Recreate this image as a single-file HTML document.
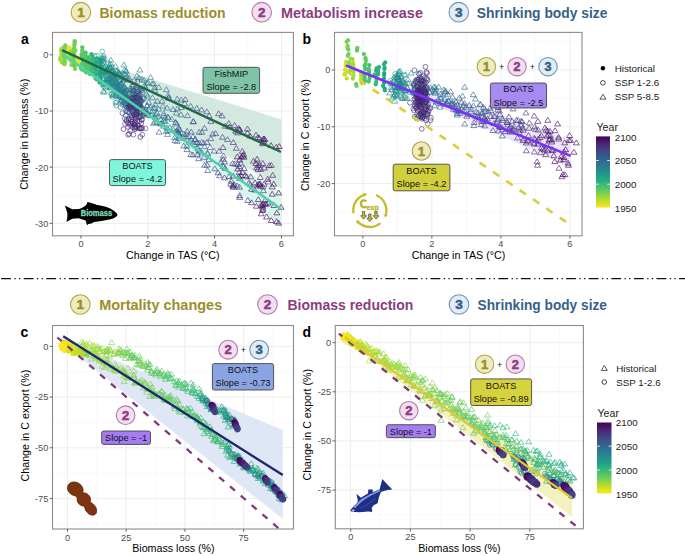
<!DOCTYPE html><html><head><meta charset="utf-8"><style>html,body{margin:0;padding:0;background:#fff;}svg{display:block;}text{font-family:"Liberation Sans", sans-serif;} .tk{font-size:9.2px;fill:#4d4d4d;} .ax{font-size:10.7px;fill:#000;} .bx{font-size:9.2px;fill:#111;} .pl{font-size:14px;font-weight:bold;fill:#000;} .lg{font-size:9.8px;fill:#1a1a1a;} .hd{font-size:15px;font-weight:bold;} .dg{font-weight:bold;}</style></head><body><svg width="685" height="556" viewBox="0 0 685 556"><rect width="685" height="556" fill="#fff"/><defs><clipPath id="cla"><rect x="52.5" y="32.4" width="240.9" height="203.4"/></clipPath><clipPath id="clb"><rect x="334.5" y="32.4" width="247.5" height="203.4"/></clipPath><clipPath id="clc"><rect x="52.5" y="325.5" width="241.0" height="203.5"/></clipPath><clipPath id="cld"><rect x="335.3" y="325.5" width="248.1" height="203.3"/></clipPath></defs><circle cx="80.9" cy="12.2" r="9.8" fill="#eeebbf" stroke="#b0a447" stroke-width="1.1"/><text x="80.9" y="17.1" text-anchor="middle" class="dg" style="font-size:13.5px;fill:#9a8e2c;stroke:#9a8e2c;stroke-width:0.55px">1</text><text x="99.4" y="17.8" class="hd" fill="#9a8e2c" textLength="126.1" lengthAdjust="spacingAndGlyphs">Biomass reduction</text><circle cx="261.7" cy="12.2" r="9.8" fill="#f2deef" stroke="#b279aa" stroke-width="1.1"/><text x="261.7" y="17.1" text-anchor="middle" class="dg" style="font-size:13.5px;fill:#8a3d80;stroke:#8a3d80;stroke-width:0.55px">2</text><text x="281.0" y="17.8" class="hd" fill="#8a3d80" textLength="141.9" lengthAdjust="spacingAndGlyphs">Metabolism increase</text><circle cx="458.8" cy="12.2" r="9.8" fill="#e2ecf5" stroke="#6f93b6" stroke-width="1.1"/><text x="458.8" y="17.1" text-anchor="middle" class="dg" style="font-size:13.5px;fill:#355f8a;stroke:#355f8a;stroke-width:0.55px">3</text><text x="476.8" y="17.8" class="hd" fill="#355f8a" textLength="130.6" lengthAdjust="spacingAndGlyphs">Shrinking body size</text><circle cx="80.3" cy="304.5" r="9.8" fill="#eeebbf" stroke="#b0a447" stroke-width="1.1"/><text x="80.3" y="309.4" text-anchor="middle" class="dg" style="font-size:13.5px;fill:#9a8e2c;stroke:#9a8e2c;stroke-width:0.55px">1</text><text x="99.2" y="310.1" class="hd" fill="#9a8e2c" textLength="123.0" lengthAdjust="spacingAndGlyphs">Mortality changes</text><circle cx="267.5" cy="304.5" r="9.8" fill="#f2deef" stroke="#b279aa" stroke-width="1.1"/><text x="267.5" y="309.4" text-anchor="middle" class="dg" style="font-size:13.5px;fill:#8a3d80;stroke:#8a3d80;stroke-width:0.55px">2</text><text x="287.5" y="310.1" class="hd" fill="#8a3d80" textLength="125.8" lengthAdjust="spacingAndGlyphs">Biomass reduction</text><circle cx="459.0" cy="304.5" r="9.8" fill="#e2ecf5" stroke="#6f93b6" stroke-width="1.1"/><text x="459.0" y="309.4" text-anchor="middle" class="dg" style="font-size:13.5px;fill:#355f8a;stroke:#355f8a;stroke-width:0.55px">3</text><text x="477.6" y="310.1" class="hd" fill="#355f8a" textLength="129.3" lengthAdjust="spacingAndGlyphs">Shrinking body size</text><line x1="1.1" y1="278.6" x2="685" y2="278.6" stroke="#111" stroke-width="1.35" stroke-dasharray="9.8 3.5 1.3 3.3 1.3 3.4"/><rect x="52.5" y="32.4" width="240.9" height="203.4" fill="#fff"/><line x1="114.4" y1="32.4" x2="114.4" y2="235.8" stroke="#f4f4f4" stroke-width="0.6"/><line x1="181.2" y1="32.4" x2="181.2" y2="235.8" stroke="#f4f4f4" stroke-width="0.6"/><line x1="248.0" y1="32.4" x2="248.0" y2="235.8" stroke="#f4f4f4" stroke-width="0.6"/><line x1="52.5" y1="82.9" x2="293.4" y2="82.9" stroke="#f4f4f4" stroke-width="0.6"/><line x1="52.5" y1="139.1" x2="293.4" y2="139.1" stroke="#f4f4f4" stroke-width="0.6"/><line x1="52.5" y1="195.3" x2="293.4" y2="195.3" stroke="#f4f4f4" stroke-width="0.6"/><line x1="81.0" y1="32.4" x2="81.0" y2="235.8" stroke="#ebebeb" stroke-width="0.9"/><line x1="147.8" y1="32.4" x2="147.8" y2="235.8" stroke="#ebebeb" stroke-width="0.9"/><line x1="214.6" y1="32.4" x2="214.6" y2="235.8" stroke="#ebebeb" stroke-width="0.9"/><line x1="281.4" y1="32.4" x2="281.4" y2="235.8" stroke="#ebebeb" stroke-width="0.9"/><line x1="52.5" y1="54.8" x2="293.4" y2="54.8" stroke="#ebebeb" stroke-width="0.9"/><line x1="52.5" y1="111.0" x2="293.4" y2="111.0" stroke="#ebebeb" stroke-width="0.9"/><line x1="52.5" y1="167.2" x2="293.4" y2="167.2" stroke="#ebebeb" stroke-width="0.9"/><line x1="52.5" y1="223.4" x2="293.4" y2="223.4" stroke="#ebebeb" stroke-width="0.9"/><g clip-path="url(#cla)"><polygon points="112,67 281.5,119.4 281.5,188.7 189,133 112,80" fill="#d3e8de"/><polygon points="100,72 189,137 281.5,192 281.5,228 150,118 100,80" fill="#d9f6ee"/><circle cx="62.0" cy="48.6" r="2.1" fill="#9bd93c"/><circle cx="60.9" cy="49.9" r="2.1" fill="#a8db34"/><circle cx="61.3" cy="51.7" r="2.1" fill="#a5db36"/><circle cx="61.7" cy="54.1" r="2.1" fill="#a5db36"/><circle cx="61.6" cy="55.9" r="2.1" fill="#aadc32"/><circle cx="60.5" cy="57.3" r="2.1" fill="#b5de2b"/><circle cx="60.2" cy="59.7" r="2.1" fill="#98d83e"/><circle cx="61.8" cy="60.5" r="2.1" fill="#addc30"/><circle cx="61.9" cy="62.5" r="2.1" fill="#a0da39"/><circle cx="65.3" cy="45.3" r="2.1" fill="#75d054"/><circle cx="64.5" cy="46.6" r="2.1" fill="#77d153"/><circle cx="65.4" cy="47.3" r="2.1" fill="#7cd250"/><circle cx="64.5" cy="49.9" r="2.1" fill="#7cd250"/><circle cx="64.5" cy="51.4" r="2.1" fill="#7cd250"/><circle cx="64.9" cy="53.4" r="2.1" fill="#84d44b"/><circle cx="63.8" cy="54.6" r="2.1" fill="#81d34d"/><circle cx="64.6" cy="56.5" r="2.1" fill="#69cd5b"/><circle cx="64.1" cy="57.1" r="2.1" fill="#77d153"/><circle cx="64.8" cy="58.8" r="2.1" fill="#7fd34e"/><circle cx="65.1" cy="61.2" r="2.1" fill="#89d548"/><circle cx="64.6" cy="63.2" r="2.1" fill="#73d056"/><circle cx="64.4" cy="64.3" r="2.1" fill="#84d44b"/><circle cx="69.2" cy="47.3" r="2.1" fill="#ece51b"/><circle cx="69.5" cy="48.6" r="2.1" fill="#e5e419"/><circle cx="69.7" cy="50.1" r="2.1" fill="#eae51a"/><circle cx="67.9" cy="51.1" r="2.1" fill="#e2e418"/><circle cx="68.2" cy="52.3" r="2.1" fill="#e7e419"/><circle cx="69.6" cy="54.0" r="2.1" fill="#e5e419"/><circle cx="68.6" cy="55.5" r="2.1" fill="#e2e418"/><circle cx="69.2" cy="58.2" r="2.1" fill="#e5e419"/><circle cx="69.4" cy="59.3" r="2.1" fill="#f4e61e"/><circle cx="71.4" cy="51.4" r="2.1" fill="#86d549"/><circle cx="72.6" cy="52.2" r="2.1" fill="#a0da39"/><circle cx="71.7" cy="53.4" r="2.1" fill="#8bd646"/><circle cx="70.7" cy="55.2" r="2.1" fill="#8ed645"/><circle cx="72.1" cy="56.8" r="2.1" fill="#90d743"/><circle cx="70.1" cy="58.6" r="2.1" fill="#98d83e"/><circle cx="70.7" cy="60.7" r="2.1" fill="#90d743"/><circle cx="72.7" cy="62.3" r="2.1" fill="#89d548"/><circle cx="72.3" cy="64.0" r="2.1" fill="#9bd93c"/><circle cx="71.3" cy="65.0" r="2.1" fill="#8ed645"/><circle cx="74.6" cy="41.1" r="2.1" fill="#6ece58"/><circle cx="74.7" cy="42.1" r="2.1" fill="#69cd5b"/><circle cx="74.7" cy="43.5" r="2.1" fill="#6ece58"/><circle cx="74.3" cy="45.3" r="2.1" fill="#6ece58"/><circle cx="74.1" cy="48.3" r="2.1" fill="#70cf57"/><circle cx="74.1" cy="49.0" r="2.1" fill="#69cd5b"/><circle cx="75.5" cy="50.4" r="2.1" fill="#84d44b"/><circle cx="74.1" cy="52.7" r="2.1" fill="#6ece58"/><circle cx="74.1" cy="53.8" r="2.1" fill="#69cd5b"/><circle cx="74.5" cy="56.8" r="2.1" fill="#6ece58"/><circle cx="74.1" cy="58.7" r="2.1" fill="#70cf57"/><circle cx="75.1" cy="59.7" r="2.1" fill="#6ccd5a"/><circle cx="75.0" cy="62.1" r="2.1" fill="#77d153"/><circle cx="74.2" cy="62.6" r="2.1" fill="#6ccd5a"/><circle cx="73.4" cy="65.2" r="2.1" fill="#70cf57"/><circle cx="74.6" cy="66.2" r="2.1" fill="#60ca60"/><circle cx="75.1" cy="69.0" r="2.1" fill="#7ad151"/><circle cx="77.6" cy="58.2" r="2.1" fill="#ece51b"/><circle cx="77.5" cy="59.3" r="2.1" fill="#e5e419"/><circle cx="77.5" cy="60.0" r="2.1" fill="#dfe318"/><circle cx="78.2" cy="62.5" r="2.1" fill="#e7e419"/><circle cx="79.1" cy="64.4" r="2.1" fill="#e7e419"/><circle cx="77.7" cy="65.0" r="2.1" fill="#dfe318"/><circle cx="82.3" cy="47.3" r="2.1" fill="#56c667"/><circle cx="82.5" cy="49.9" r="2.1" fill="#67cc5c"/><circle cx="82.2" cy="51.1" r="2.1" fill="#63cb5f"/><circle cx="83.0" cy="52.6" r="2.1" fill="#67cc5c"/><circle cx="81.7" cy="54.3" r="2.1" fill="#5ec962"/><circle cx="81.6" cy="55.9" r="2.1" fill="#54c568"/><circle cx="81.6" cy="57.7" r="2.1" fill="#5ac864"/><circle cx="82.0" cy="59.2" r="2.1" fill="#63cb5f"/><circle cx="82.9" cy="59.5" r="2.1" fill="#52c569"/><circle cx="82.8" cy="62.0" r="2.1" fill="#54c568"/><circle cx="81.8" cy="63.8" r="2.1" fill="#65cb5e"/><circle cx="82.2" cy="64.7" r="2.1" fill="#5ec962"/><circle cx="81.7" cy="66.9" r="2.1" fill="#67cc5c"/><circle cx="81.0" cy="68.4" r="2.1" fill="#5ac864"/><circle cx="82.2" cy="69.7" r="2.1" fill="#5ac864"/><circle cx="85.7" cy="52.5" r="2.1" fill="#4cc26c"/><circle cx="85.4" cy="54.0" r="2.1" fill="#52c569"/><circle cx="85.3" cy="56.7" r="2.1" fill="#4ec36b"/><circle cx="86.2" cy="57.8" r="2.1" fill="#58c765"/><circle cx="85.0" cy="59.9" r="2.1" fill="#54c568"/><circle cx="86.3" cy="60.9" r="2.1" fill="#54c568"/><circle cx="86.8" cy="62.0" r="2.1" fill="#54c568"/><circle cx="84.7" cy="63.6" r="2.1" fill="#52c569"/><circle cx="85.4" cy="65.8" r="2.1" fill="#4ec36b"/><circle cx="85.8" cy="67.4" r="2.1" fill="#58c765"/><circle cx="85.7" cy="69.1" r="2.1" fill="#4ec36b"/><circle cx="84.9" cy="71.0" r="2.1" fill="#54c568"/><circle cx="86.3" cy="72.6" r="2.1" fill="#58c765"/><circle cx="88.3" cy="57.0" r="2.1" fill="#48c16e"/><circle cx="88.3" cy="58.7" r="2.1" fill="#44bf70"/><circle cx="89.9" cy="59.9" r="2.1" fill="#4ac16d"/><circle cx="89.4" cy="62.1" r="2.1" fill="#48c16e"/><circle cx="90.1" cy="63.2" r="2.1" fill="#4cc26c"/><circle cx="89.5" cy="64.1" r="2.1" fill="#42be71"/><circle cx="89.0" cy="65.6" r="2.1" fill="#44bf70"/><circle cx="89.3" cy="68.1" r="2.1" fill="#56c667"/><circle cx="88.8" cy="68.9" r="2.1" fill="#50c46a"/><circle cx="90.2" cy="70.5" r="2.1" fill="#52c569"/><circle cx="89.6" cy="72.2" r="2.1" fill="#48c16e"/><circle cx="90.1" cy="74.2" r="2.1" fill="#48c16e"/><circle cx="91.3" cy="54.2" r="2.1" fill="#3bbb75"/><circle cx="92.2" cy="56.1" r="2.1" fill="#38b977"/><circle cx="92.8" cy="58.2" r="2.1" fill="#3dbc74"/><circle cx="92.5" cy="59.3" r="2.1" fill="#3dbc74"/><circle cx="91.8" cy="61.1" r="2.1" fill="#3dbc74"/><circle cx="92.4" cy="63.2" r="2.1" fill="#4ec36b"/><circle cx="92.0" cy="63.4" r="2.1" fill="#3bbb75"/><circle cx="92.0" cy="66.0" r="2.1" fill="#3bbb75"/><circle cx="92.9" cy="67.0" r="2.1" fill="#44bf70"/><circle cx="92.8" cy="68.2" r="2.1" fill="#34b679"/><circle cx="91.9" cy="70.3" r="2.1" fill="#40bd72"/><circle cx="91.8" cy="71.0" r="2.1" fill="#44bf70"/><circle cx="92.8" cy="72.6" r="2.1" fill="#40bd72"/><circle cx="97.0" cy="58.3" r="2.1" fill="#2cb17e"/><circle cx="96.4" cy="58.8" r="2.1" fill="#35b779"/><circle cx="94.7" cy="60.8" r="2.1" fill="#34b679"/><circle cx="96.5" cy="62.4" r="2.1" fill="#2db27d"/><circle cx="96.3" cy="64.0" r="2.1" fill="#2eb37c"/><circle cx="96.2" cy="65.3" r="2.1" fill="#2db27d"/><circle cx="96.0" cy="67.4" r="2.1" fill="#35b779"/><circle cx="96.2" cy="69.3" r="2.1" fill="#2db27d"/><circle cx="96.0" cy="70.2" r="2.1" fill="#2fb47c"/><circle cx="95.6" cy="73.0" r="2.1" fill="#31b57b"/><circle cx="96.3" cy="74.2" r="2.1" fill="#31b57b"/><circle cx="95.4" cy="76.4" r="2.1" fill="#2eb37c"/><circle cx="95.4" cy="78.1" r="2.1" fill="#2db27d"/><circle cx="96.5" cy="79.5" r="2.1" fill="#31b57b"/><circle cx="99.8" cy="59.3" r="2.1" fill="#29af7f"/><circle cx="99.9" cy="60.2" r="2.1" fill="#25ab82"/><circle cx="100.9" cy="61.3" r="2.1" fill="#23a983"/><circle cx="100.1" cy="63.1" r="2.1" fill="#24aa83"/><circle cx="100.6" cy="65.6" r="2.1" fill="#28ae80"/><circle cx="100.0" cy="66.3" r="2.1" fill="#23a983"/><circle cx="100.4" cy="68.1" r="2.1" fill="#22a884"/><circle cx="101.6" cy="69.3" r="2.1" fill="#27ad81"/><circle cx="100.1" cy="71.4" r="2.1" fill="#20a386"/><circle cx="100.0" cy="72.5" r="2.1" fill="#25ab82"/><circle cx="99.3" cy="74.2" r="2.1" fill="#25ab82"/><circle cx="99.9" cy="75.5" r="2.1" fill="#25ac82"/><circle cx="100.5" cy="77.2" r="2.1" fill="#24aa83"/><circle cx="100.5" cy="78.4" r="2.1" fill="#25ab82"/><circle cx="99.4" cy="80.2" r="2.1" fill="#27ad81"/><circle cx="99.5" cy="82.6" r="2.1" fill="#29af7f"/><circle cx="128.2" cy="107.4" r="2.4" fill="none" stroke="#470e61" stroke-width="0.6"/><path d="M223.3 156.3l3.0 4.9h-6.0z" fill="none" stroke="#404588" stroke-width="0.65"/><circle cx="139.5" cy="104.1" r="2.4" fill="none" stroke="#39558c" stroke-width="0.6"/><circle cx="115.4" cy="103.0" r="2.4" fill="none" stroke="#23898e" stroke-width="0.6"/><path d="M242.3 148.4l3.0 4.9h-6.0z" fill="none" stroke="#482071" stroke-width="0.65"/><path d="M141.6 96.9l3.0 4.9h-6.0z" fill="none" stroke="#277f8e" stroke-width="0.65"/><path d="M122.7 94.4l3.0 4.9h-6.0z" fill="none" stroke="#297b8e" stroke-width="0.65"/><circle cx="126.3" cy="106.0" r="2.4" fill="none" stroke="#29798e" stroke-width="0.6"/><path d="M274.0 202.6l3.0 4.9h-6.0z" fill="none" stroke="#470e61" stroke-width="0.65"/><path d="M184.0 131.2l3.0 4.9h-6.0z" fill="none" stroke="#38588c" stroke-width="0.65"/><path d="M113.7 76.1l3.0 4.9h-6.0z" fill="none" stroke="#23898e" stroke-width="0.65"/><circle cx="112.0" cy="94.0" r="2.4" fill="none" stroke="#20928c" stroke-width="0.6"/><path d="M125.2 91.6l3.0 4.9h-6.0z" fill="none" stroke="#2a788e" stroke-width="0.65"/><path d="M266.6 214.0l3.0 4.9h-6.0z" fill="none" stroke="#440154" stroke-width="0.65"/><path d="M121.3 80.1l3.0 4.9h-6.0z" fill="none" stroke="#1f958b" stroke-width="0.65"/><path d="M207.4 150.2l3.0 4.9h-6.0z" fill="none" stroke="#3b518b" stroke-width="0.65"/><path d="M185.2 96.7l3.0 4.9h-6.0z" fill="none" stroke="#3c4f8a" stroke-width="0.65"/><circle cx="103.5" cy="60.0" r="2.4" fill="none" stroke="#1fa088" stroke-width="0.6"/><circle cx="130.9" cy="115.3" r="2.4" fill="none" stroke="#3c4f8a" stroke-width="0.6"/><path d="M194.6 141.6l3.0 4.9h-6.0z" fill="none" stroke="#355e8d" stroke-width="0.65"/><path d="M150.5 74.4l3.0 4.9h-6.0z" fill="none" stroke="#2b758e" stroke-width="0.65"/><circle cx="137.7" cy="96.5" r="2.4" fill="none" stroke="#482173" stroke-width="0.6"/><path d="M112.6 92.6l3.0 4.9h-6.0z" fill="none" stroke="#25848e" stroke-width="0.65"/><circle cx="128.4" cy="108.5" r="2.4" fill="none" stroke="#2f6c8e" stroke-width="0.6"/><path d="M152.6 108.1l3.0 4.9h-6.0z" fill="none" stroke="#24878e" stroke-width="0.65"/><circle cx="137.6" cy="89.4" r="2.4" fill="none" stroke="#3f4788" stroke-width="0.6"/><path d="M239.7 194.5l3.0 4.9h-6.0z" fill="none" stroke="#482878" stroke-width="0.65"/><path d="M146.6 80.1l3.0 4.9h-6.0z" fill="none" stroke="#2a788e" stroke-width="0.65"/><circle cx="140.6" cy="101.3" r="2.4" fill="none" stroke="#470e61" stroke-width="0.6"/><path d="M239.6 192.7l3.0 4.9h-6.0z" fill="none" stroke="#482677" stroke-width="0.65"/><path d="M134.6 102.0l3.0 4.9h-6.0z" fill="none" stroke="#287d8e" stroke-width="0.65"/><path d="M271.3 217.6l3.0 4.9h-6.0z" fill="none" stroke="#460a5d" stroke-width="0.65"/><path d="M255.0 179.9l3.0 4.9h-6.0z" fill="none" stroke="#471164" stroke-width="0.65"/><circle cx="141.3" cy="90.6" r="2.4" fill="none" stroke="#472a7a" stroke-width="0.6"/><path d="M155.1 114.4l3.0 4.9h-6.0z" fill="none" stroke="#2a778e" stroke-width="0.65"/><path d="M125.7 94.4l3.0 4.9h-6.0z" fill="none" stroke="#2a778e" stroke-width="0.65"/><circle cx="127.8" cy="90.1" r="2.4" fill="none" stroke="#2d718e" stroke-width="0.6"/><circle cx="131.7" cy="97.8" r="2.4" fill="none" stroke="#450559" stroke-width="0.6"/><path d="M177.3 127.6l3.0 4.9h-6.0z" fill="none" stroke="#33628d" stroke-width="0.65"/><circle cx="103.3" cy="71.5" r="2.4" fill="none" stroke="#21918c" stroke-width="0.6"/><circle cx="102.5" cy="70.2" r="2.4" fill="none" stroke="#1f998a" stroke-width="0.6"/><path d="M176.9 121.2l3.0 4.9h-6.0z" fill="none" stroke="#30698e" stroke-width="0.65"/><circle cx="125.4" cy="115.6" r="2.4" fill="none" stroke="#3a538b" stroke-width="0.6"/><circle cx="132.4" cy="93.6" r="2.4" fill="none" stroke="#460b5e" stroke-width="0.6"/><circle cx="116.1" cy="90.6" r="2.4" fill="none" stroke="#26828e" stroke-width="0.6"/><circle cx="143.9" cy="98.6" r="2.4" fill="none" stroke="#482677" stroke-width="0.6"/><path d="M193.3 118.6l3.0 4.9h-6.0z" fill="none" stroke="#3b518b" stroke-width="0.65"/><path d="M197.3 151.8l3.0 4.9h-6.0z" fill="none" stroke="#3f4788" stroke-width="0.65"/><path d="M230.7 181.1l3.0 4.9h-6.0z" fill="none" stroke="#482576" stroke-width="0.65"/><circle cx="138.0" cy="110.6" r="2.4" fill="none" stroke="#482071" stroke-width="0.6"/><circle cx="136.6" cy="97.8" r="2.4" fill="none" stroke="#471164" stroke-width="0.6"/><path d="M158.8 84.5l3.0 4.9h-6.0z" fill="none" stroke="#2c738e" stroke-width="0.65"/><path d="M240.0 126.8l3.0 4.9h-6.0z" fill="none" stroke="#46327e" stroke-width="0.65"/><path d="M223.5 153.1l3.0 4.9h-6.0z" fill="none" stroke="#443983" stroke-width="0.65"/><circle cx="113.8" cy="79.5" r="2.4" fill="none" stroke="#1f988b" stroke-width="0.6"/><circle cx="136.5" cy="106.3" r="2.4" fill="none" stroke="#472a7a" stroke-width="0.6"/><circle cx="135.6" cy="122.4" r="2.4" fill="none" stroke="#482878" stroke-width="0.6"/><circle cx="140.4" cy="112.8" r="2.4" fill="none" stroke="#472f7d" stroke-width="0.6"/><circle cx="135.1" cy="100.5" r="2.4" fill="none" stroke="#482878" stroke-width="0.6"/><path d="M105.7 72.1l3.0 4.9h-6.0z" fill="none" stroke="#1e9b8a" stroke-width="0.65"/><circle cx="137.8" cy="110.9" r="2.4" fill="none" stroke="#39558c" stroke-width="0.6"/><circle cx="135.1" cy="107.1" r="2.4" fill="none" stroke="#424086" stroke-width="0.6"/><path d="M110.9 57.3l3.0 4.9h-6.0z" fill="none" stroke="#218f8d" stroke-width="0.65"/><circle cx="116.2" cy="105.6" r="2.4" fill="none" stroke="#25838e" stroke-width="0.6"/><path d="M168.1 92.5l3.0 4.9h-6.0z" fill="none" stroke="#355e8d" stroke-width="0.65"/><path d="M125.9 91.3l3.0 4.9h-6.0z" fill="none" stroke="#277f8e" stroke-width="0.65"/><path d="M256.0 160.7l3.0 4.9h-6.0z" fill="none" stroke="#440154" stroke-width="0.65"/><circle cx="127.2" cy="107.9" r="2.4" fill="none" stroke="#2d708e" stroke-width="0.6"/><path d="M260.6 183.3l3.0 4.9h-6.0z" fill="none" stroke="#46085c" stroke-width="0.65"/><path d="M119.5 88.0l3.0 4.9h-6.0z" fill="none" stroke="#25858e" stroke-width="0.65"/><circle cx="134.2" cy="108.0" r="2.4" fill="none" stroke="#2a778e" stroke-width="0.6"/><path d="M135.8 104.6l3.0 4.9h-6.0z" fill="none" stroke="#238a8d" stroke-width="0.65"/><circle cx="120.7" cy="93.8" r="2.4" fill="none" stroke="#297a8e" stroke-width="0.6"/><path d="M175.0 137.8l3.0 4.9h-6.0z" fill="none" stroke="#34618d" stroke-width="0.65"/><circle cx="94.4" cy="55.7" r="2.4" fill="none" stroke="#1fa088" stroke-width="0.6"/><path d="M125.5 88.2l3.0 4.9h-6.0z" fill="none" stroke="#2b748e" stroke-width="0.65"/><path d="M187.0 146.7l3.0 4.9h-6.0z" fill="none" stroke="#3b518b" stroke-width="0.65"/><circle cx="128.1" cy="127.0" r="2.4" fill="none" stroke="#453882" stroke-width="0.6"/><path d="M237.3 153.9l3.0 4.9h-6.0z" fill="none" stroke="#460a5d" stroke-width="0.65"/><circle cx="113.2" cy="87.7" r="2.4" fill="none" stroke="#26818e" stroke-width="0.6"/><circle cx="104.4" cy="83.5" r="2.4" fill="none" stroke="#21918c" stroke-width="0.6"/><path d="M224.5 174.9l3.0 4.9h-6.0z" fill="none" stroke="#453781" stroke-width="0.65"/><path d="M133.2 81.7l3.0 4.9h-6.0z" fill="none" stroke="#2b748e" stroke-width="0.65"/><circle cx="132.7" cy="105.0" r="2.4" fill="none" stroke="#33628d" stroke-width="0.6"/><path d="M202.1 150.1l3.0 4.9h-6.0z" fill="none" stroke="#404688" stroke-width="0.65"/><circle cx="130.2" cy="106.3" r="2.4" fill="none" stroke="#46075a" stroke-width="0.6"/><circle cx="105.3" cy="72.4" r="2.4" fill="none" stroke="#228d8d" stroke-width="0.6"/><path d="M181.2 97.2l3.0 4.9h-6.0z" fill="none" stroke="#34618d" stroke-width="0.65"/><circle cx="143.0" cy="98.0" r="2.4" fill="none" stroke="#2e6e8e" stroke-width="0.6"/><path d="M120.4 81.8l3.0 4.9h-6.0z" fill="none" stroke="#277f8e" stroke-width="0.65"/><path d="M204.1 154.4l3.0 4.9h-6.0z" fill="none" stroke="#3f4889" stroke-width="0.65"/><path d="M157.4 98.3l3.0 4.9h-6.0z" fill="none" stroke="#31688e" stroke-width="0.65"/><path d="M117.5 85.5l3.0 4.9h-6.0z" fill="none" stroke="#287d8e" stroke-width="0.65"/><circle cx="123.5" cy="102.7" r="2.4" fill="none" stroke="#2c728e" stroke-width="0.6"/><circle cx="140.2" cy="98.7" r="2.4" fill="none" stroke="#3a538b" stroke-width="0.6"/><circle cx="131.1" cy="100.8" r="2.4" fill="none" stroke="#443983" stroke-width="0.6"/><circle cx="138.4" cy="104.3" r="2.4" fill="none" stroke="#46085c" stroke-width="0.6"/><path d="M253.4 158.2l3.0 4.9h-6.0z" fill="none" stroke="#482374" stroke-width="0.65"/><path d="M129.7 98.3l3.0 4.9h-6.0z" fill="none" stroke="#277e8e" stroke-width="0.65"/><path d="M163.4 117.8l3.0 4.9h-6.0z" fill="none" stroke="#2d718e" stroke-width="0.65"/><circle cx="127.4" cy="98.9" r="2.4" fill="none" stroke="#31678e" stroke-width="0.6"/><circle cx="116.5" cy="102.2" r="2.4" fill="none" stroke="#297a8e" stroke-width="0.6"/><path d="M237.7 129.9l3.0 4.9h-6.0z" fill="none" stroke="#48186a" stroke-width="0.65"/><circle cx="126.3" cy="110.1" r="2.4" fill="none" stroke="#39558c" stroke-width="0.6"/><circle cx="133.8" cy="98.7" r="2.4" fill="none" stroke="#481b6d" stroke-width="0.6"/><path d="M201.7 139.5l3.0 4.9h-6.0z" fill="none" stroke="#3c508b" stroke-width="0.65"/><circle cx="139.9" cy="101.7" r="2.4" fill="none" stroke="#481f70" stroke-width="0.6"/><path d="M239.6 157.0l3.0 4.9h-6.0z" fill="none" stroke="#460a5d" stroke-width="0.65"/><path d="M271.0 142.6l3.0 4.9h-6.0z" fill="none" stroke="#471063" stroke-width="0.65"/><path d="M103.2 88.3l3.0 4.9h-6.0z" fill="none" stroke="#25858e" stroke-width="0.65"/><path d="M199.6 147.8l3.0 4.9h-6.0z" fill="none" stroke="#3b518b" stroke-width="0.65"/><circle cx="116.8" cy="84.4" r="2.4" fill="none" stroke="#2a788e" stroke-width="0.6"/><path d="M126.2 91.8l3.0 4.9h-6.0z" fill="none" stroke="#297b8e" stroke-width="0.65"/><path d="M104.3 64.8l3.0 4.9h-6.0z" fill="none" stroke="#23898e" stroke-width="0.65"/><circle cx="131.8" cy="102.7" r="2.4" fill="none" stroke="#482878" stroke-width="0.6"/><circle cx="140.5" cy="116.8" r="2.4" fill="none" stroke="#482979" stroke-width="0.6"/><path d="M243.9 154.3l3.0 4.9h-6.0z" fill="none" stroke="#460a5d" stroke-width="0.65"/><path d="M210.8 135.7l3.0 4.9h-6.0z" fill="none" stroke="#3d4e8a" stroke-width="0.65"/><circle cx="129.8" cy="101.1" r="2.4" fill="none" stroke="#46337f" stroke-width="0.6"/><circle cx="122.1" cy="89.3" r="2.4" fill="none" stroke="#25838e" stroke-width="0.6"/><circle cx="141.1" cy="102.4" r="2.4" fill="none" stroke="#31688e" stroke-width="0.6"/><path d="M109.8 76.4l3.0 4.9h-6.0z" fill="none" stroke="#23898e" stroke-width="0.65"/><path d="M236.3 145.4l3.0 4.9h-6.0z" fill="none" stroke="#463480" stroke-width="0.65"/><path d="M245.3 172.6l3.0 4.9h-6.0z" fill="none" stroke="#482173" stroke-width="0.65"/><circle cx="116.5" cy="96.4" r="2.4" fill="none" stroke="#24868e" stroke-width="0.6"/><path d="M179.5 132.8l3.0 4.9h-6.0z" fill="none" stroke="#31668e" stroke-width="0.65"/><circle cx="137.0" cy="108.9" r="2.4" fill="none" stroke="#481a6c" stroke-width="0.6"/><path d="M262.6 140.8l3.0 4.9h-6.0z" fill="none" stroke="#46085c" stroke-width="0.65"/><circle cx="136.7" cy="114.1" r="2.4" fill="none" stroke="#3c508b" stroke-width="0.6"/><circle cx="141.2" cy="128.7" r="2.4" fill="none" stroke="#482576" stroke-width="0.6"/><path d="M103.3 80.8l3.0 4.9h-6.0z" fill="none" stroke="#1f998a" stroke-width="0.65"/><circle cx="136.0" cy="117.7" r="2.4" fill="none" stroke="#3e4c8a" stroke-width="0.6"/><circle cx="133.8" cy="104.8" r="2.4" fill="none" stroke="#481a6c" stroke-width="0.6"/><circle cx="131.2" cy="117.3" r="2.4" fill="none" stroke="#472a7a" stroke-width="0.6"/><path d="M240.8 172.8l3.0 4.9h-6.0z" fill="none" stroke="#482475" stroke-width="0.65"/><path d="M186.3 131.4l3.0 4.9h-6.0z" fill="none" stroke="#34608d" stroke-width="0.65"/><path d="M127.0 73.7l3.0 4.9h-6.0z" fill="none" stroke="#277f8e" stroke-width="0.65"/><circle cx="139.5" cy="90.3" r="2.4" fill="none" stroke="#46327e" stroke-width="0.6"/><path d="M152.5 94.9l3.0 4.9h-6.0z" fill="none" stroke="#2a778e" stroke-width="0.65"/><path d="M108.7 77.1l3.0 4.9h-6.0z" fill="none" stroke="#1e9b8a" stroke-width="0.65"/><path d="M126.2 68.4l3.0 4.9h-6.0z" fill="none" stroke="#27808e" stroke-width="0.65"/><circle cx="143.2" cy="115.1" r="2.4" fill="none" stroke="#471365" stroke-width="0.6"/><path d="M119.1 70.8l3.0 4.9h-6.0z" fill="none" stroke="#24878e" stroke-width="0.65"/><circle cx="142.3" cy="134.7" r="2.4" fill="none" stroke="#463480" stroke-width="0.6"/><path d="M177.1 138.4l3.0 4.9h-6.0z" fill="none" stroke="#34608d" stroke-width="0.65"/><path d="M209.2 112.9l3.0 4.9h-6.0z" fill="none" stroke="#404688" stroke-width="0.65"/><path d="M183.0 134.1l3.0 4.9h-6.0z" fill="none" stroke="#38598c" stroke-width="0.65"/><path d="M166.3 86.8l3.0 4.9h-6.0z" fill="none" stroke="#2f6c8e" stroke-width="0.65"/><path d="M114.9 79.8l3.0 4.9h-6.0z" fill="none" stroke="#228d8d" stroke-width="0.65"/><path d="M153.7 80.9l3.0 4.9h-6.0z" fill="none" stroke="#2a788e" stroke-width="0.65"/><path d="M214.8 165.9l3.0 4.9h-6.0z" fill="none" stroke="#424186" stroke-width="0.65"/><circle cx="129.7" cy="124.9" r="2.4" fill="none" stroke="#481668" stroke-width="0.6"/><path d="M263.1 136.5l3.0 4.9h-6.0z" fill="none" stroke="#46085c" stroke-width="0.65"/><path d="M178.2 129.6l3.0 4.9h-6.0z" fill="none" stroke="#375b8d" stroke-width="0.65"/><path d="M148.0 79.8l3.0 4.9h-6.0z" fill="none" stroke="#2a768e" stroke-width="0.65"/><path d="M272.3 184.0l3.0 4.9h-6.0z" fill="none" stroke="#48186a" stroke-width="0.65"/><path d="M256.6 164.7l3.0 4.9h-6.0z" fill="none" stroke="#472c7a" stroke-width="0.65"/><circle cx="112.2" cy="75.9" r="2.4" fill="none" stroke="#21918c" stroke-width="0.6"/><path d="M187.5 112.7l3.0 4.9h-6.0z" fill="none" stroke="#375a8c" stroke-width="0.65"/><path d="M157.1 110.2l3.0 4.9h-6.0z" fill="none" stroke="#2c718e" stroke-width="0.65"/><path d="M153.3 105.6l3.0 4.9h-6.0z" fill="none" stroke="#2a768e" stroke-width="0.65"/><circle cx="106.7" cy="79.7" r="2.4" fill="none" stroke="#1f968b" stroke-width="0.6"/><circle cx="122.7" cy="87.6" r="2.4" fill="none" stroke="#2c718e" stroke-width="0.6"/><circle cx="101.6" cy="61.2" r="2.4" fill="none" stroke="#1f978b" stroke-width="0.6"/><circle cx="126.8" cy="97.4" r="2.4" fill="none" stroke="#482475" stroke-width="0.6"/><circle cx="115.4" cy="83.3" r="2.4" fill="none" stroke="#238a8d" stroke-width="0.6"/><circle cx="107.4" cy="76.5" r="2.4" fill="none" stroke="#23888e" stroke-width="0.6"/><path d="M256.0 132.1l3.0 4.9h-6.0z" fill="none" stroke="#482071" stroke-width="0.65"/><path d="M118.3 92.6l3.0 4.9h-6.0z" fill="none" stroke="#25848e" stroke-width="0.65"/><path d="M180.2 135.3l3.0 4.9h-6.0z" fill="none" stroke="#375a8c" stroke-width="0.65"/><path d="M105.4 67.4l3.0 4.9h-6.0z" fill="none" stroke="#1f9e89" stroke-width="0.65"/><path d="M180.3 126.9l3.0 4.9h-6.0z" fill="none" stroke="#34618d" stroke-width="0.65"/><circle cx="137.3" cy="91.8" r="2.4" fill="none" stroke="#375b8d" stroke-width="0.6"/><circle cx="132.1" cy="86.7" r="2.4" fill="none" stroke="#463480" stroke-width="0.6"/><circle cx="128.2" cy="134.7" r="2.4" fill="none" stroke="#46075a" stroke-width="0.6"/><circle cx="120.0" cy="86.7" r="2.4" fill="none" stroke="#27808e" stroke-width="0.6"/><path d="M122.6 88.8l3.0 4.9h-6.0z" fill="none" stroke="#24878e" stroke-width="0.65"/><path d="M237.7 161.7l3.0 4.9h-6.0z" fill="none" stroke="#472f7d" stroke-width="0.65"/><path d="M232.8 183.0l3.0 4.9h-6.0z" fill="none" stroke="#471063" stroke-width="0.65"/><circle cx="124.9" cy="103.9" r="2.4" fill="none" stroke="#34618d" stroke-width="0.6"/><path d="M160.4 121.0l3.0 4.9h-6.0z" fill="none" stroke="#31688e" stroke-width="0.65"/><circle cx="142.0" cy="108.8" r="2.4" fill="none" stroke="#482173" stroke-width="0.6"/><path d="M235.7 128.1l3.0 4.9h-6.0z" fill="none" stroke="#48186a" stroke-width="0.65"/><path d="M117.3 68.4l3.0 4.9h-6.0z" fill="none" stroke="#297a8e" stroke-width="0.65"/><path d="M197.6 139.8l3.0 4.9h-6.0z" fill="none" stroke="#3a538b" stroke-width="0.65"/><circle cx="133.2" cy="106.3" r="2.4" fill="none" stroke="#48186a" stroke-width="0.6"/><circle cx="137.7" cy="103.4" r="2.4" fill="none" stroke="#3c508b" stroke-width="0.6"/><path d="M263.2 139.6l3.0 4.9h-6.0z" fill="none" stroke="#482374" stroke-width="0.65"/><path d="M186.0 134.2l3.0 4.9h-6.0z" fill="none" stroke="#39558c" stroke-width="0.65"/><path d="M102.8 55.6l3.0 4.9h-6.0z" fill="none" stroke="#20928c" stroke-width="0.65"/><path d="M144.8 82.5l3.0 4.9h-6.0z" fill="none" stroke="#2a778e" stroke-width="0.65"/><path d="M112.3 71.9l3.0 4.9h-6.0z" fill="none" stroke="#238a8d" stroke-width="0.65"/><circle cx="109.1" cy="69.6" r="2.4" fill="none" stroke="#1f978b" stroke-width="0.6"/><circle cx="102.2" cy="51.5" r="2.4" fill="none" stroke="#24aa83" stroke-width="0.6"/><path d="M124.4 83.9l3.0 4.9h-6.0z" fill="none" stroke="#24878e" stroke-width="0.65"/><circle cx="129.2" cy="133.8" r="2.4" fill="none" stroke="#472e7c" stroke-width="0.6"/><path d="M147.0 111.1l3.0 4.9h-6.0z" fill="none" stroke="#2f6c8e" stroke-width="0.65"/><circle cx="130.2" cy="130.9" r="2.4" fill="none" stroke="#472a7a" stroke-width="0.6"/><circle cx="124.7" cy="118.6" r="2.4" fill="none" stroke="#414287" stroke-width="0.6"/><path d="M155.2 119.3l3.0 4.9h-6.0z" fill="none" stroke="#2e6e8e" stroke-width="0.65"/><path d="M225.2 123.3l3.0 4.9h-6.0z" fill="none" stroke="#443b84" stroke-width="0.65"/><circle cx="136.6" cy="116.4" r="2.4" fill="none" stroke="#481769" stroke-width="0.6"/><circle cx="134.2" cy="127.4" r="2.4" fill="none" stroke="#463480" stroke-width="0.6"/><circle cx="135.9" cy="95.1" r="2.4" fill="none" stroke="#414487" stroke-width="0.6"/><path d="M237.0 183.0l3.0 4.9h-6.0z" fill="none" stroke="#443983" stroke-width="0.65"/><circle cx="130.6" cy="106.0" r="2.4" fill="none" stroke="#450457" stroke-width="0.6"/><path d="M115.5 63.3l3.0 4.9h-6.0z" fill="none" stroke="#21908d" stroke-width="0.65"/><circle cx="106.8" cy="70.2" r="2.4" fill="none" stroke="#20928c" stroke-width="0.6"/><path d="M176.4 110.2l3.0 4.9h-6.0z" fill="none" stroke="#31668e" stroke-width="0.65"/><path d="M158.3 113.3l3.0 4.9h-6.0z" fill="none" stroke="#32648e" stroke-width="0.65"/><path d="M175.9 119.9l3.0 4.9h-6.0z" fill="none" stroke="#31668e" stroke-width="0.65"/><circle cx="125.6" cy="106.0" r="2.4" fill="none" stroke="#2d708e" stroke-width="0.6"/><circle cx="105.5" cy="87.8" r="2.4" fill="none" stroke="#1f978b" stroke-width="0.6"/><path d="M124.4 89.6l3.0 4.9h-6.0z" fill="none" stroke="#287c8e" stroke-width="0.65"/><circle cx="129.6" cy="112.4" r="2.4" fill="none" stroke="#355e8d" stroke-width="0.6"/><path d="M206.9 139.5l3.0 4.9h-6.0z" fill="none" stroke="#423f85" stroke-width="0.65"/><circle cx="140.3" cy="137.0" r="2.4" fill="none" stroke="#440154" stroke-width="0.6"/><path d="M167.8 114.1l3.0 4.9h-6.0z" fill="none" stroke="#31678e" stroke-width="0.65"/><path d="M99.0 61.0l3.0 4.9h-6.0z" fill="none" stroke="#29af7f" stroke-width="0.65"/><circle cx="99.7" cy="68.6" r="2.4" fill="none" stroke="#20a386" stroke-width="0.6"/><circle cx="111.1" cy="94.1" r="2.4" fill="none" stroke="#23898e" stroke-width="0.6"/><circle cx="134.0" cy="124.1" r="2.4" fill="none" stroke="#482374" stroke-width="0.6"/><path d="M121.0 97.3l3.0 4.9h-6.0z" fill="none" stroke="#25838e" stroke-width="0.65"/><path d="M258.9 181.3l3.0 4.9h-6.0z" fill="none" stroke="#482475" stroke-width="0.65"/><path d="M265.3 197.1l3.0 4.9h-6.0z" fill="none" stroke="#481769" stroke-width="0.65"/><circle cx="135.0" cy="129.0" r="2.4" fill="none" stroke="#481769" stroke-width="0.6"/><path d="M212.8 131.1l3.0 4.9h-6.0z" fill="none" stroke="#3f4889" stroke-width="0.65"/><path d="M264.0 136.0l3.0 4.9h-6.0z" fill="none" stroke="#440256" stroke-width="0.65"/><path d="M116.5 79.8l3.0 4.9h-6.0z" fill="none" stroke="#2e6e8e" stroke-width="0.65"/><path d="M207.7 167.6l3.0 4.9h-6.0z" fill="none" stroke="#3d4e8a" stroke-width="0.65"/><circle cx="126.1" cy="103.7" r="2.4" fill="none" stroke="#440256" stroke-width="0.6"/><circle cx="135.2" cy="126.2" r="2.4" fill="none" stroke="#440154" stroke-width="0.6"/><path d="M172.7 126.0l3.0 4.9h-6.0z" fill="none" stroke="#365d8d" stroke-width="0.65"/><path d="M248.9 180.3l3.0 4.9h-6.0z" fill="none" stroke="#472a7a" stroke-width="0.65"/><circle cx="121.1" cy="98.4" r="2.4" fill="none" stroke="#2a778e" stroke-width="0.6"/><path d="M265.0 136.7l3.0 4.9h-6.0z" fill="none" stroke="#472a7a" stroke-width="0.65"/><path d="M127.6 94.1l3.0 4.9h-6.0z" fill="none" stroke="#26828e" stroke-width="0.65"/><circle cx="135.3" cy="108.2" r="2.4" fill="none" stroke="#481b6d" stroke-width="0.6"/><circle cx="129.0" cy="118.5" r="2.4" fill="none" stroke="#3e4c8a" stroke-width="0.6"/><path d="M177.9 129.3l3.0 4.9h-6.0z" fill="none" stroke="#2e6d8e" stroke-width="0.65"/><circle cx="109.6" cy="67.5" r="2.4" fill="none" stroke="#1f958b" stroke-width="0.6"/><path d="M123.9 98.3l3.0 4.9h-6.0z" fill="none" stroke="#2a788e" stroke-width="0.65"/><path d="M188.8 133.5l3.0 4.9h-6.0z" fill="none" stroke="#38588c" stroke-width="0.65"/><path d="M272.2 191.3l3.0 4.9h-6.0z" fill="none" stroke="#46085c" stroke-width="0.65"/><path d="M128.2 77.0l3.0 4.9h-6.0z" fill="none" stroke="#2b758e" stroke-width="0.65"/><path d="M119.1 71.1l3.0 4.9h-6.0z" fill="none" stroke="#26828e" stroke-width="0.65"/><circle cx="134.9" cy="129.0" r="2.4" fill="none" stroke="#433e85" stroke-width="0.6"/><path d="M144.1 111.0l3.0 4.9h-6.0z" fill="none" stroke="#297b8e" stroke-width="0.65"/><circle cx="137.4" cy="106.0" r="2.4" fill="none" stroke="#31668e" stroke-width="0.6"/><path d="M268.2 179.0l3.0 4.9h-6.0z" fill="none" stroke="#482475" stroke-width="0.65"/><path d="M151.5 112.8l3.0 4.9h-6.0z" fill="none" stroke="#29798e" stroke-width="0.65"/><path d="M273.7 181.2l3.0 4.9h-6.0z" fill="none" stroke="#46075a" stroke-width="0.65"/><path d="M162.9 103.2l3.0 4.9h-6.0z" fill="none" stroke="#32648e" stroke-width="0.65"/><circle cx="123.9" cy="93.3" r="2.4" fill="none" stroke="#2c718e" stroke-width="0.6"/><path d="M207.1 162.1l3.0 4.9h-6.0z" fill="none" stroke="#433d84" stroke-width="0.65"/><circle cx="122.3" cy="104.6" r="2.4" fill="none" stroke="#29798e" stroke-width="0.6"/><path d="M260.3 174.6l3.0 4.9h-6.0z" fill="none" stroke="#481a6c" stroke-width="0.65"/><circle cx="137.4" cy="106.7" r="2.4" fill="none" stroke="#482374" stroke-width="0.6"/><path d="M260.0 180.8l3.0 4.9h-6.0z" fill="none" stroke="#460b5e" stroke-width="0.65"/><path d="M234.8 161.1l3.0 4.9h-6.0z" fill="none" stroke="#453781" stroke-width="0.65"/><path d="M120.5 84.4l3.0 4.9h-6.0z" fill="none" stroke="#228c8d" stroke-width="0.65"/><circle cx="133.5" cy="106.0" r="2.4" fill="none" stroke="#3f4788" stroke-width="0.6"/><circle cx="130.4" cy="104.1" r="2.4" fill="none" stroke="#472a7a" stroke-width="0.6"/><circle cx="133.9" cy="114.9" r="2.4" fill="none" stroke="#481467" stroke-width="0.6"/><path d="M243.0 152.9l3.0 4.9h-6.0z" fill="none" stroke="#482173" stroke-width="0.65"/><path d="M222.5 134.3l3.0 4.9h-6.0z" fill="none" stroke="#453882" stroke-width="0.65"/><circle cx="127.5" cy="111.8" r="2.4" fill="none" stroke="#404688" stroke-width="0.6"/><circle cx="138.7" cy="102.6" r="2.4" fill="none" stroke="#46085c" stroke-width="0.6"/><path d="M276.3 144.3l3.0 4.9h-6.0z" fill="none" stroke="#460a5d" stroke-width="0.65"/><path d="M261.2 210.9l3.0 4.9h-6.0z" fill="none" stroke="#481a6c" stroke-width="0.65"/><circle cx="106.1" cy="74.3" r="2.4" fill="none" stroke="#1e9c89" stroke-width="0.6"/><path d="M203.7 140.2l3.0 4.9h-6.0z" fill="none" stroke="#3e4c8a" stroke-width="0.65"/><path d="M140.9 113.0l3.0 4.9h-6.0z" fill="none" stroke="#287d8e" stroke-width="0.65"/><path d="M262.8 160.5l3.0 4.9h-6.0z" fill="none" stroke="#482878" stroke-width="0.65"/><circle cx="128.7" cy="119.5" r="2.4" fill="none" stroke="#443a83" stroke-width="0.6"/><path d="M120.0 78.0l3.0 4.9h-6.0z" fill="none" stroke="#2a788e" stroke-width="0.65"/><circle cx="123.5" cy="129.1" r="2.4" fill="none" stroke="#46075a" stroke-width="0.6"/><circle cx="99.3" cy="63.1" r="2.4" fill="none" stroke="#1fa188" stroke-width="0.6"/><circle cx="112.3" cy="71.8" r="2.4" fill="none" stroke="#21908d" stroke-width="0.6"/><path d="M147.7 110.6l3.0 4.9h-6.0z" fill="none" stroke="#2d708e" stroke-width="0.65"/><path d="M103.0 75.8l3.0 4.9h-6.0z" fill="none" stroke="#1f9a8a" stroke-width="0.65"/><path d="M163.6 123.2l3.0 4.9h-6.0z" fill="none" stroke="#2e6f8e" stroke-width="0.65"/><path d="M155.3 101.5l3.0 4.9h-6.0z" fill="none" stroke="#297a8e" stroke-width="0.65"/><path d="M199.4 140.3l3.0 4.9h-6.0z" fill="none" stroke="#3c4f8a" stroke-width="0.65"/><path d="M125.2 71.9l3.0 4.9h-6.0z" fill="none" stroke="#26818e" stroke-width="0.65"/><path d="M109.1 76.8l3.0 4.9h-6.0z" fill="none" stroke="#228b8d" stroke-width="0.65"/><circle cx="125.0" cy="92.7" r="2.4" fill="none" stroke="#25858e" stroke-width="0.6"/><path d="M147.1 108.6l3.0 4.9h-6.0z" fill="none" stroke="#26828e" stroke-width="0.65"/><circle cx="117.6" cy="86.5" r="2.4" fill="none" stroke="#2a788e" stroke-width="0.6"/><circle cx="138.5" cy="117.0" r="2.4" fill="none" stroke="#3a538b" stroke-width="0.6"/><path d="M223.4 163.7l3.0 4.9h-6.0z" fill="none" stroke="#46337f" stroke-width="0.65"/><path d="M262.5 202.6l3.0 4.9h-6.0z" fill="none" stroke="#481769" stroke-width="0.65"/><path d="M229.0 173.6l3.0 4.9h-6.0z" fill="none" stroke="#453882" stroke-width="0.65"/><circle cx="138.4" cy="100.9" r="2.4" fill="none" stroke="#355e8d" stroke-width="0.6"/><path d="M165.0 115.1l3.0 4.9h-6.0z" fill="none" stroke="#2f6c8e" stroke-width="0.65"/><circle cx="97.4" cy="63.9" r="2.4" fill="none" stroke="#1fa187" stroke-width="0.6"/><path d="M135.8 99.2l3.0 4.9h-6.0z" fill="none" stroke="#297a8e" stroke-width="0.65"/><path d="M177.2 96.1l3.0 4.9h-6.0z" fill="none" stroke="#355f8d" stroke-width="0.65"/><circle cx="135.2" cy="114.4" r="2.4" fill="none" stroke="#453882" stroke-width="0.6"/><circle cx="104.9" cy="83.2" r="2.4" fill="none" stroke="#23888e" stroke-width="0.6"/><path d="M218.6 110.8l3.0 4.9h-6.0z" fill="none" stroke="#424086" stroke-width="0.65"/><circle cx="123.3" cy="92.6" r="2.4" fill="none" stroke="#26818e" stroke-width="0.6"/><path d="M125.9 67.8l3.0 4.9h-6.0z" fill="none" stroke="#228d8d" stroke-width="0.65"/><circle cx="139.3" cy="111.6" r="2.4" fill="none" stroke="#482576" stroke-width="0.6"/><path d="M118.0 85.1l3.0 4.9h-6.0z" fill="none" stroke="#23898e" stroke-width="0.65"/><circle cx="106.2" cy="76.4" r="2.4" fill="none" stroke="#1f948c" stroke-width="0.6"/><path d="M131.3 86.9l3.0 4.9h-6.0z" fill="none" stroke="#287c8e" stroke-width="0.65"/><path d="M257.1 156.3l3.0 4.9h-6.0z" fill="none" stroke="#46085c" stroke-width="0.65"/><path d="M210.1 144.5l3.0 4.9h-6.0z" fill="none" stroke="#3d4d8a" stroke-width="0.65"/><circle cx="111.2" cy="79.9" r="2.4" fill="none" stroke="#20938c" stroke-width="0.6"/><path d="M258.3 162.7l3.0 4.9h-6.0z" fill="none" stroke="#481769" stroke-width="0.65"/><path d="M267.7 176.3l3.0 4.9h-6.0z" fill="none" stroke="#450559" stroke-width="0.65"/><path d="M110.4 76.0l3.0 4.9h-6.0z" fill="none" stroke="#23898e" stroke-width="0.65"/><path d="M109.3 62.0l3.0 4.9h-6.0z" fill="none" stroke="#1f968b" stroke-width="0.65"/><path d="M107.8 66.7l3.0 4.9h-6.0z" fill="none" stroke="#1f998a" stroke-width="0.65"/><path d="M162.0 98.3l3.0 4.9h-6.0z" fill="none" stroke="#31688e" stroke-width="0.65"/><circle cx="112.2" cy="77.7" r="2.4" fill="none" stroke="#25838e" stroke-width="0.6"/><circle cx="113.9" cy="84.6" r="2.4" fill="none" stroke="#2c728e" stroke-width="0.6"/><circle cx="135.8" cy="127.3" r="2.4" fill="none" stroke="#481668" stroke-width="0.6"/><path d="M175.4 119.5l3.0 4.9h-6.0z" fill="none" stroke="#355f8d" stroke-width="0.65"/><path d="M229.4 124.0l3.0 4.9h-6.0z" fill="none" stroke="#482677" stroke-width="0.65"/><circle cx="134.3" cy="105.9" r="2.4" fill="none" stroke="#375a8c" stroke-width="0.6"/><circle cx="133.9" cy="109.6" r="2.4" fill="none" stroke="#3e4a89" stroke-width="0.6"/><path d="M181.1 104.5l3.0 4.9h-6.0z" fill="none" stroke="#38588c" stroke-width="0.65"/><circle cx="136.0" cy="89.6" r="2.4" fill="none" stroke="#2f6c8e" stroke-width="0.6"/><path d="M166.7 124.9l3.0 4.9h-6.0z" fill="none" stroke="#306a8e" stroke-width="0.65"/><path d="M110.5 84.5l3.0 4.9h-6.0z" fill="none" stroke="#26828e" stroke-width="0.65"/><circle cx="130.6" cy="123.4" r="2.4" fill="none" stroke="#482374" stroke-width="0.6"/><circle cx="127.0" cy="100.6" r="2.4" fill="none" stroke="#2a778e" stroke-width="0.6"/><path d="M263.0 201.0l3.0 4.9h-6.0z" fill="none" stroke="#440154" stroke-width="0.65"/><path d="M106.0 78.8l3.0 4.9h-6.0z" fill="none" stroke="#1f988b" stroke-width="0.65"/><path d="M138.8 103.7l3.0 4.9h-6.0z" fill="none" stroke="#26828e" stroke-width="0.65"/><circle cx="139.1" cy="108.2" r="2.4" fill="none" stroke="#46307e" stroke-width="0.6"/><path d="M243.6 151.5l3.0 4.9h-6.0z" fill="none" stroke="#482071" stroke-width="0.65"/><circle cx="106.8" cy="86.5" r="2.4" fill="none" stroke="#23898e" stroke-width="0.6"/><circle cx="133.4" cy="134.7" r="2.4" fill="none" stroke="#482979" stroke-width="0.6"/><circle cx="104.6" cy="58.7" r="2.4" fill="none" stroke="#20a386" stroke-width="0.6"/><circle cx="141.3" cy="123.2" r="2.4" fill="none" stroke="#470e61" stroke-width="0.6"/><circle cx="126.6" cy="121.3" r="2.4" fill="none" stroke="#443983" stroke-width="0.6"/><circle cx="135.6" cy="104.1" r="2.4" fill="none" stroke="#482071" stroke-width="0.6"/><circle cx="136.9" cy="127.8" r="2.4" fill="none" stroke="#443b84" stroke-width="0.6"/><circle cx="137.5" cy="121.7" r="2.4" fill="none" stroke="#482071" stroke-width="0.6"/><circle cx="120.1" cy="90.3" r="2.4" fill="none" stroke="#2b758e" stroke-width="0.6"/><path d="M159.1 129.3l3.0 4.9h-6.0z" fill="none" stroke="#30698e" stroke-width="0.65"/><circle cx="139.0" cy="106.4" r="2.4" fill="none" stroke="#482979" stroke-width="0.6"/><path d="M146.4 110.6l3.0 4.9h-6.0z" fill="none" stroke="#29798e" stroke-width="0.65"/><path d="M118.3 90.2l3.0 4.9h-6.0z" fill="none" stroke="#25838e" stroke-width="0.65"/><path d="M154.7 104.9l3.0 4.9h-6.0z" fill="none" stroke="#2e6e8e" stroke-width="0.65"/><circle cx="115.5" cy="95.6" r="2.4" fill="none" stroke="#26828e" stroke-width="0.6"/><path d="M238.8 125.4l3.0 4.9h-6.0z" fill="none" stroke="#482475" stroke-width="0.65"/><circle cx="130.7" cy="109.1" r="2.4" fill="none" stroke="#481b6d" stroke-width="0.6"/><circle cx="111.9" cy="67.1" r="2.4" fill="none" stroke="#1f988b" stroke-width="0.6"/><path d="M258.0 166.4l3.0 4.9h-6.0z" fill="none" stroke="#481d6f" stroke-width="0.65"/><circle cx="134.6" cy="103.0" r="2.4" fill="none" stroke="#433d84" stroke-width="0.6"/><circle cx="134.7" cy="124.7" r="2.4" fill="none" stroke="#471063" stroke-width="0.6"/><path d="M110.4 65.3l3.0 4.9h-6.0z" fill="none" stroke="#1f968b" stroke-width="0.65"/><circle cx="130.1" cy="104.1" r="2.4" fill="none" stroke="#463480" stroke-width="0.6"/><path d="M198.1 145.8l3.0 4.9h-6.0z" fill="none" stroke="#355e8d" stroke-width="0.65"/><circle cx="120.1" cy="81.0" r="2.4" fill="none" stroke="#277e8e" stroke-width="0.6"/><circle cx="138.3" cy="99.2" r="2.4" fill="none" stroke="#3f4788" stroke-width="0.6"/><circle cx="142.2" cy="128.2" r="2.4" fill="none" stroke="#481668" stroke-width="0.6"/><path d="M167.2 105.1l3.0 4.9h-6.0z" fill="none" stroke="#30698e" stroke-width="0.65"/><path d="M152.4 80.9l3.0 4.9h-6.0z" fill="none" stroke="#26818e" stroke-width="0.65"/><path d="M239.5 163.7l3.0 4.9h-6.0z" fill="none" stroke="#482677" stroke-width="0.65"/><path d="M168.1 127.6l3.0 4.9h-6.0z" fill="none" stroke="#2f6b8e" stroke-width="0.65"/><path d="M113.2 80.6l3.0 4.9h-6.0z" fill="none" stroke="#228b8d" stroke-width="0.65"/><circle cx="111.3" cy="71.2" r="2.4" fill="none" stroke="#218e8d" stroke-width="0.6"/><path d="M206.9 108.9l3.0 4.9h-6.0z" fill="none" stroke="#39558c" stroke-width="0.65"/><path d="M116.8 78.1l3.0 4.9h-6.0z" fill="none" stroke="#23898e" stroke-width="0.65"/><path d="M147.1 102.9l3.0 4.9h-6.0z" fill="none" stroke="#2e6d8e" stroke-width="0.65"/><path d="M258.3 196.6l3.0 4.9h-6.0z" fill="none" stroke="#481a6c" stroke-width="0.65"/><circle cx="140.3" cy="106.2" r="2.4" fill="none" stroke="#433e85" stroke-width="0.6"/><circle cx="139.8" cy="117.3" r="2.4" fill="none" stroke="#481b6d" stroke-width="0.6"/><circle cx="103.1" cy="57.9" r="2.4" fill="none" stroke="#1fa088" stroke-width="0.6"/><path d="M133.7 87.5l3.0 4.9h-6.0z" fill="none" stroke="#29798e" stroke-width="0.65"/><circle cx="113.5" cy="78.4" r="2.4" fill="none" stroke="#20928c" stroke-width="0.6"/><path d="M259.4 135.4l3.0 4.9h-6.0z" fill="none" stroke="#450457" stroke-width="0.65"/><circle cx="123.9" cy="92.0" r="2.4" fill="none" stroke="#2b758e" stroke-width="0.6"/><path d="M199.3 148.1l3.0 4.9h-6.0z" fill="none" stroke="#38588c" stroke-width="0.65"/><circle cx="115.9" cy="88.7" r="2.4" fill="none" stroke="#31688e" stroke-width="0.6"/><path d="M257.3 182.3l3.0 4.9h-6.0z" fill="none" stroke="#471365" stroke-width="0.65"/><circle cx="132.6" cy="123.5" r="2.4" fill="none" stroke="#440256" stroke-width="0.6"/><path d="M148.7 99.4l3.0 4.9h-6.0z" fill="none" stroke="#2c718e" stroke-width="0.65"/><circle cx="121.8" cy="102.0" r="2.4" fill="none" stroke="#25838e" stroke-width="0.6"/><circle cx="108.0" cy="73.2" r="2.4" fill="none" stroke="#228b8d" stroke-width="0.6"/><path d="M178.3 125.3l3.0 4.9h-6.0z" fill="none" stroke="#31668e" stroke-width="0.65"/><circle cx="137.9" cy="108.1" r="2.4" fill="none" stroke="#471164" stroke-width="0.6"/><path d="M174.7 134.7l3.0 4.9h-6.0z" fill="none" stroke="#30698e" stroke-width="0.65"/><circle cx="117.5" cy="87.1" r="2.4" fill="none" stroke="#297b8e" stroke-width="0.6"/><circle cx="141.5" cy="119.7" r="2.4" fill="none" stroke="#482374" stroke-width="0.6"/><path d="M276.8 210.0l3.0 4.9h-6.0z" fill="none" stroke="#450559" stroke-width="0.65"/><path d="M256.3 203.3l3.0 4.9h-6.0z" fill="none" stroke="#481c6e" stroke-width="0.65"/><circle cx="111.3" cy="82.5" r="2.4" fill="none" stroke="#23888e" stroke-width="0.6"/><path d="M147.5 93.1l3.0 4.9h-6.0z" fill="none" stroke="#2f6c8e" stroke-width="0.65"/><path d="M259.5 182.0l3.0 4.9h-6.0z" fill="none" stroke="#440154" stroke-width="0.65"/><circle cx="102.6" cy="72.9" r="2.4" fill="none" stroke="#20928c" stroke-width="0.6"/><circle cx="101.7" cy="61.0" r="2.4" fill="none" stroke="#1f968b" stroke-width="0.6"/><circle cx="105.6" cy="66.7" r="2.4" fill="none" stroke="#23888e" stroke-width="0.6"/><circle cx="130.8" cy="102.0" r="2.4" fill="none" stroke="#463480" stroke-width="0.6"/><circle cx="140.8" cy="100.3" r="2.4" fill="none" stroke="#404588" stroke-width="0.6"/><circle cx="138.7" cy="97.0" r="2.4" fill="none" stroke="#482576" stroke-width="0.6"/><circle cx="124.0" cy="88.1" r="2.4" fill="none" stroke="#29798e" stroke-width="0.6"/><circle cx="116.8" cy="81.8" r="2.4" fill="none" stroke="#24878e" stroke-width="0.6"/><circle cx="139.6" cy="121.3" r="2.4" fill="none" stroke="#472f7d" stroke-width="0.6"/><path d="M160.9 116.6l3.0 4.9h-6.0z" fill="none" stroke="#2e6d8e" stroke-width="0.65"/><circle cx="109.9" cy="85.0" r="2.4" fill="none" stroke="#287d8e" stroke-width="0.6"/><circle cx="129.1" cy="104.4" r="2.4" fill="none" stroke="#482475" stroke-width="0.6"/><circle cx="124.9" cy="123.9" r="2.4" fill="none" stroke="#3b518b" stroke-width="0.6"/><circle cx="139.5" cy="128.0" r="2.4" fill="none" stroke="#460a5d" stroke-width="0.6"/><circle cx="108.1" cy="63.1" r="2.4" fill="none" stroke="#228c8d" stroke-width="0.6"/><path d="M126.6 87.9l3.0 4.9h-6.0z" fill="none" stroke="#25838e" stroke-width="0.65"/><path d="M201.6 107.0l3.0 4.9h-6.0z" fill="none" stroke="#3e4a89" stroke-width="0.65"/><path d="M149.9 104.1l3.0 4.9h-6.0z" fill="none" stroke="#2b748e" stroke-width="0.65"/><circle cx="127.3" cy="99.0" r="2.4" fill="none" stroke="#2c718e" stroke-width="0.6"/><circle cx="117.5" cy="94.4" r="2.4" fill="none" stroke="#25858e" stroke-width="0.6"/><path d="M262.8 204.2l3.0 4.9h-6.0z" fill="none" stroke="#470d60" stroke-width="0.65"/><path d="M186.8 143.2l3.0 4.9h-6.0z" fill="none" stroke="#3b528b" stroke-width="0.65"/><path d="M112.3 70.7l3.0 4.9h-6.0z" fill="none" stroke="#1f988b" stroke-width="0.65"/><circle cx="133.8" cy="90.6" r="2.4" fill="none" stroke="#46327e" stroke-width="0.6"/><circle cx="132.3" cy="101.0" r="2.4" fill="none" stroke="#453781" stroke-width="0.6"/><circle cx="107.0" cy="83.9" r="2.4" fill="none" stroke="#27808e" stroke-width="0.6"/><path d="M152.5 111.3l3.0 4.9h-6.0z" fill="none" stroke="#2e6d8e" stroke-width="0.65"/><path d="M247.8 197.5l3.0 4.9h-6.0z" fill="none" stroke="#472f7d" stroke-width="0.65"/><circle cx="106.2" cy="71.0" r="2.4" fill="none" stroke="#21918c" stroke-width="0.6"/><path d="M112.0 83.6l3.0 4.9h-6.0z" fill="none" stroke="#228d8d" stroke-width="0.65"/><path d="M272.7 172.4l3.0 4.9h-6.0z" fill="none" stroke="#481668" stroke-width="0.65"/><path d="M214.2 148.2l3.0 4.9h-6.0z" fill="none" stroke="#414287" stroke-width="0.65"/><circle cx="124.8" cy="96.9" r="2.4" fill="none" stroke="#2e6d8e" stroke-width="0.6"/><circle cx="109.7" cy="79.7" r="2.4" fill="none" stroke="#21918c" stroke-width="0.6"/><circle cx="97.2" cy="68.8" r="2.4" fill="none" stroke="#1e9c89" stroke-width="0.6"/><path d="M137.3 99.2l3.0 4.9h-6.0z" fill="none" stroke="#29798e" stroke-width="0.65"/><path d="M240.8 160.4l3.0 4.9h-6.0z" fill="none" stroke="#472d7b" stroke-width="0.65"/><path d="M265.4 200.9l3.0 4.9h-6.0z" fill="none" stroke="#471164" stroke-width="0.65"/><path d="M195.4 136.3l3.0 4.9h-6.0z" fill="none" stroke="#3a538b" stroke-width="0.65"/><path d="M127.1 95.0l3.0 4.9h-6.0z" fill="none" stroke="#2c718e" stroke-width="0.65"/><circle cx="131.1" cy="119.4" r="2.4" fill="none" stroke="#424186" stroke-width="0.6"/><path d="M106.7 75.9l3.0 4.9h-6.0z" fill="none" stroke="#1f958b" stroke-width="0.65"/><path d="M138.2 86.5l3.0 4.9h-6.0z" fill="none" stroke="#2c718e" stroke-width="0.65"/><path d="M145.5 84.9l3.0 4.9h-6.0z" fill="none" stroke="#2a768e" stroke-width="0.65"/><path d="M154.6 84.9l3.0 4.9h-6.0z" fill="none" stroke="#2e6d8e" stroke-width="0.65"/><path d="M196.6 139.7l3.0 4.9h-6.0z" fill="none" stroke="#375b8d" stroke-width="0.65"/><circle cx="128.7" cy="106.5" r="2.4" fill="none" stroke="#460b5e" stroke-width="0.6"/><circle cx="126.8" cy="90.1" r="2.4" fill="none" stroke="#287d8e" stroke-width="0.6"/><path d="M124.0 70.9l3.0 4.9h-6.0z" fill="none" stroke="#20938c" stroke-width="0.65"/><circle cx="113.6" cy="77.5" r="2.4" fill="none" stroke="#23888e" stroke-width="0.6"/><path d="M129.0 75.0l3.0 4.9h-6.0z" fill="none" stroke="#287c8e" stroke-width="0.65"/><circle cx="137.5" cy="102.3" r="2.4" fill="none" stroke="#460b5e" stroke-width="0.6"/><path d="M242.6 169.5l3.0 4.9h-6.0z" fill="none" stroke="#460a5d" stroke-width="0.65"/><circle cx="129.8" cy="107.1" r="2.4" fill="none" stroke="#404688" stroke-width="0.6"/><path d="M117.4 86.6l3.0 4.9h-6.0z" fill="none" stroke="#277f8e" stroke-width="0.65"/><path d="M177.3 106.0l3.0 4.9h-6.0z" fill="none" stroke="#306a8e" stroke-width="0.65"/><path d="M140.8 102.3l3.0 4.9h-6.0z" fill="none" stroke="#2b748e" stroke-width="0.65"/><circle cx="138.3" cy="98.2" r="2.4" fill="none" stroke="#472d7b" stroke-width="0.6"/><path d="M103.5 65.0l3.0 4.9h-6.0z" fill="none" stroke="#24aa83" stroke-width="0.65"/><path d="M158.5 106.2l3.0 4.9h-6.0z" fill="none" stroke="#2f6b8e" stroke-width="0.65"/><path d="M192.9 152.0l3.0 4.9h-6.0z" fill="none" stroke="#3e4c8a" stroke-width="0.65"/><path d="M204.6 162.4l3.0 4.9h-6.0z" fill="none" stroke="#3d4e8a" stroke-width="0.65"/><path d="M184.7 100.6l3.0 4.9h-6.0z" fill="none" stroke="#3a548c" stroke-width="0.65"/><path d="M261.2 202.1l3.0 4.9h-6.0z" fill="none" stroke="#440154" stroke-width="0.65"/><path d="M191.4 137.2l3.0 4.9h-6.0z" fill="none" stroke="#375b8d" stroke-width="0.65"/><circle cx="110.3" cy="88.9" r="2.4" fill="none" stroke="#218e8d" stroke-width="0.6"/><circle cx="139.7" cy="99.3" r="2.4" fill="none" stroke="#2c728e" stroke-width="0.6"/><path d="M123.8 99.2l3.0 4.9h-6.0z" fill="none" stroke="#29798e" stroke-width="0.65"/><circle cx="108.8" cy="72.6" r="2.4" fill="none" stroke="#238a8d" stroke-width="0.6"/><circle cx="142.3" cy="92.2" r="2.4" fill="none" stroke="#2f6b8e" stroke-width="0.6"/><path d="M251.5 199.8l3.0 4.9h-6.0z" fill="none" stroke="#481a6c" stroke-width="0.65"/><path d="M168.4 115.0l3.0 4.9h-6.0z" fill="none" stroke="#33628d" stroke-width="0.65"/><path d="M103.7 63.4l3.0 4.9h-6.0z" fill="none" stroke="#1f9e89" stroke-width="0.65"/><circle cx="138.7" cy="95.2" r="2.4" fill="none" stroke="#481668" stroke-width="0.6"/><circle cx="116.3" cy="86.3" r="2.4" fill="none" stroke="#228c8d" stroke-width="0.6"/><path d="M204.5 143.7l3.0 4.9h-6.0z" fill="none" stroke="#355e8d" stroke-width="0.65"/><path d="M192.9 133.9l3.0 4.9h-6.0z" fill="none" stroke="#355e8d" stroke-width="0.65"/><circle cx="103.4" cy="56.0" r="2.4" fill="none" stroke="#1f948c" stroke-width="0.6"/><path d="M278.7 190.0l3.0 4.9h-6.0z" fill="none" stroke="#440154" stroke-width="0.65"/><path d="M254.7 187.1l3.0 4.9h-6.0z" fill="none" stroke="#482576" stroke-width="0.65"/><circle cx="132.4" cy="111.2" r="2.4" fill="none" stroke="#471063" stroke-width="0.6"/><circle cx="103.5" cy="81.3" r="2.4" fill="none" stroke="#228b8d" stroke-width="0.6"/><path d="M160.9 120.8l3.0 4.9h-6.0z" fill="none" stroke="#2c738e" stroke-width="0.65"/><circle cx="125.5" cy="98.7" r="2.4" fill="none" stroke="#2f6c8e" stroke-width="0.6"/><circle cx="139.6" cy="128.6" r="2.4" fill="none" stroke="#472a7a" stroke-width="0.6"/><circle cx="119.8" cy="96.4" r="2.4" fill="none" stroke="#2a788e" stroke-width="0.6"/><path d="M191.2 129.1l3.0 4.9h-6.0z" fill="none" stroke="#3c4f8a" stroke-width="0.65"/><path d="M107.3 66.3l3.0 4.9h-6.0z" fill="none" stroke="#20938c" stroke-width="0.65"/><circle cx="112.3" cy="81.1" r="2.4" fill="none" stroke="#25848e" stroke-width="0.6"/><circle cx="134.5" cy="122.4" r="2.4" fill="none" stroke="#481f70" stroke-width="0.6"/><circle cx="126.4" cy="120.2" r="2.4" fill="none" stroke="#472a7a" stroke-width="0.6"/><circle cx="132.4" cy="107.9" r="2.4" fill="none" stroke="#453882" stroke-width="0.6"/><path d="M104.3 89.2l3.0 4.9h-6.0z" fill="none" stroke="#1f998a" stroke-width="0.65"/><path d="M165.1 118.5l3.0 4.9h-6.0z" fill="none" stroke="#2e6e8e" stroke-width="0.65"/><path d="M137.4 103.0l3.0 4.9h-6.0z" fill="none" stroke="#228c8d" stroke-width="0.65"/><circle cx="122.3" cy="94.8" r="2.4" fill="none" stroke="#287c8e" stroke-width="0.6"/><path d="M276.6 218.7l3.0 4.9h-6.0z" fill="none" stroke="#450457" stroke-width="0.65"/><path d="M130.0 95.8l3.0 4.9h-6.0z" fill="none" stroke="#2c738e" stroke-width="0.65"/><circle cx="101.4" cy="58.5" r="2.4" fill="none" stroke="#1e9b8a" stroke-width="0.6"/><circle cx="137.5" cy="112.9" r="2.4" fill="none" stroke="#450457" stroke-width="0.6"/><path d="M103.6 82.0l3.0 4.9h-6.0z" fill="none" stroke="#1f978b" stroke-width="0.65"/><circle cx="139.3" cy="104.5" r="2.4" fill="none" stroke="#423f85" stroke-width="0.6"/><path d="M222.0 112.9l3.0 4.9h-6.0z" fill="none" stroke="#453781" stroke-width="0.65"/><path d="M207.8 151.2l3.0 4.9h-6.0z" fill="none" stroke="#32648e" stroke-width="0.65"/><circle cx="120.4" cy="91.7" r="2.4" fill="none" stroke="#2b748e" stroke-width="0.6"/><path d="M109.1 68.8l3.0 4.9h-6.0z" fill="none" stroke="#1f998a" stroke-width="0.65"/><path d="M259.7 162.0l3.0 4.9h-6.0z" fill="none" stroke="#472e7c" stroke-width="0.65"/><path d="M268.1 200.1l3.0 4.9h-6.0z" fill="none" stroke="#450559" stroke-width="0.65"/><path d="M132.3 98.2l3.0 4.9h-6.0z" fill="none" stroke="#2a768e" stroke-width="0.65"/><path d="M260.5 166.5l3.0 4.9h-6.0z" fill="none" stroke="#481d6f" stroke-width="0.65"/><path d="M271.3 162.4l3.0 4.9h-6.0z" fill="none" stroke="#472e7c" stroke-width="0.65"/><path d="M116.8 83.8l3.0 4.9h-6.0z" fill="none" stroke="#21918c" stroke-width="0.65"/><path d="M167.6 131.5l3.0 4.9h-6.0z" fill="none" stroke="#2d718e" stroke-width="0.65"/><circle cx="137.4" cy="125.1" r="2.4" fill="none" stroke="#424186" stroke-width="0.6"/><circle cx="131.4" cy="105.4" r="2.4" fill="none" stroke="#3a548c" stroke-width="0.6"/><circle cx="138.4" cy="125.9" r="2.4" fill="none" stroke="#433d84" stroke-width="0.6"/><circle cx="142.1" cy="119.7" r="2.4" fill="none" stroke="#481c6e" stroke-width="0.6"/><circle cx="133.4" cy="89.0" r="2.4" fill="none" stroke="#355f8d" stroke-width="0.6"/><circle cx="136.3" cy="111.8" r="2.4" fill="none" stroke="#481b6d" stroke-width="0.6"/><path d="M233.3 139.6l3.0 4.9h-6.0z" fill="none" stroke="#482979" stroke-width="0.65"/><path d="M123.5 93.7l3.0 4.9h-6.0z" fill="none" stroke="#2c738e" stroke-width="0.65"/><path d="M263.0 184.0l3.0 4.9h-6.0z" fill="none" stroke="#472d7b" stroke-width="0.65"/><path d="M118.2 87.1l3.0 4.9h-6.0z" fill="none" stroke="#26828e" stroke-width="0.65"/><circle cx="111.3" cy="81.5" r="2.4" fill="none" stroke="#23888e" stroke-width="0.6"/><path d="M124.8 90.0l3.0 4.9h-6.0z" fill="none" stroke="#2c728e" stroke-width="0.65"/><path d="M146.5 91.2l3.0 4.9h-6.0z" fill="none" stroke="#29798e" stroke-width="0.65"/><path d="M262.4 207.6l3.0 4.9h-6.0z" fill="none" stroke="#46085c" stroke-width="0.65"/><path d="M171.9 116.5l3.0 4.9h-6.0z" fill="none" stroke="#2a788e" stroke-width="0.65"/><circle cx="133.0" cy="91.2" r="2.4" fill="none" stroke="#46337f" stroke-width="0.6"/><path d="M110.6 60.9l3.0 4.9h-6.0z" fill="none" stroke="#20928c" stroke-width="0.65"/><path d="M142.4 112.3l3.0 4.9h-6.0z" fill="none" stroke="#24878e" stroke-width="0.65"/><path d="M241.3 153.9l3.0 4.9h-6.0z" fill="none" stroke="#46085c" stroke-width="0.65"/><path d="M183.8 143.0l3.0 4.9h-6.0z" fill="none" stroke="#34608d" stroke-width="0.65"/><circle cx="120.5" cy="107.3" r="2.4" fill="none" stroke="#30698e" stroke-width="0.6"/><path d="M134.4 92.8l3.0 4.9h-6.0z" fill="none" stroke="#2a768e" stroke-width="0.65"/><path d="M103.5 67.7l3.0 4.9h-6.0z" fill="none" stroke="#1f9f88" stroke-width="0.65"/><path d="M147.3 102.8l3.0 4.9h-6.0z" fill="none" stroke="#2d708e" stroke-width="0.65"/><circle cx="139.8" cy="94.5" r="2.4" fill="none" stroke="#3b518b" stroke-width="0.6"/><path d="M136.9 97.7l3.0 4.9h-6.0z" fill="none" stroke="#26818e" stroke-width="0.65"/><path d="M130.3 99.7l3.0 4.9h-6.0z" fill="none" stroke="#2e6e8e" stroke-width="0.65"/><circle cx="134.8" cy="95.1" r="2.4" fill="none" stroke="#3e4a89" stroke-width="0.6"/><path d="M179.1 130.8l3.0 4.9h-6.0z" fill="none" stroke="#30698e" stroke-width="0.65"/><path d="M266.1 201.4l3.0 4.9h-6.0z" fill="none" stroke="#481d6f" stroke-width="0.65"/><path d="M250.7 174.0l3.0 4.9h-6.0z" fill="none" stroke="#481c6e" stroke-width="0.65"/><path d="M130.9 94.6l3.0 4.9h-6.0z" fill="none" stroke="#2e6f8e" stroke-width="0.65"/><circle cx="104.3" cy="73.5" r="2.4" fill="none" stroke="#1f9a8a" stroke-width="0.6"/><path d="M220.9 159.2l3.0 4.9h-6.0z" fill="none" stroke="#443b84" stroke-width="0.65"/><path d="M246.7 173.9l3.0 4.9h-6.0z" fill="none" stroke="#482878" stroke-width="0.65"/><circle cx="109.4" cy="85.9" r="2.4" fill="none" stroke="#29798e" stroke-width="0.6"/><path d="M123.9 62.0l3.0 4.9h-6.0z" fill="none" stroke="#24868e" stroke-width="0.65"/><circle cx="115.9" cy="75.2" r="2.4" fill="none" stroke="#23888e" stroke-width="0.6"/><path d="M115.8 79.3l3.0 4.9h-6.0z" fill="none" stroke="#23898e" stroke-width="0.65"/><path d="M181.0 111.9l3.0 4.9h-6.0z" fill="none" stroke="#365d8d" stroke-width="0.65"/><circle cx="119.6" cy="96.8" r="2.4" fill="none" stroke="#25838e" stroke-width="0.6"/><path d="M233.5 184.4l3.0 4.9h-6.0z" fill="none" stroke="#481668" stroke-width="0.65"/><path d="M234.0 181.6l3.0 4.9h-6.0z" fill="none" stroke="#481f70" stroke-width="0.65"/><path d="M263.8 138.4l3.0 4.9h-6.0z" fill="none" stroke="#482979" stroke-width="0.65"/><path d="M223.0 144.6l3.0 4.9h-6.0z" fill="none" stroke="#472a7a" stroke-width="0.65"/><path d="M247.5 126.1l3.0 4.9h-6.0z" fill="none" stroke="#482475" stroke-width="0.65"/><path d="M153.5 120.4l3.0 4.9h-6.0z" fill="none" stroke="#2f6c8e" stroke-width="0.65"/><circle cx="132.2" cy="94.1" r="2.4" fill="none" stroke="#39568c" stroke-width="0.6"/><path d="M145.7 107.3l3.0 4.9h-6.0z" fill="none" stroke="#277f8e" stroke-width="0.65"/><circle cx="137.2" cy="107.1" r="2.4" fill="none" stroke="#433e85" stroke-width="0.6"/><path d="M204.4 125.4l3.0 4.9h-6.0z" fill="none" stroke="#3e4989" stroke-width="0.65"/><circle cx="137.3" cy="99.1" r="2.4" fill="none" stroke="#3b518b" stroke-width="0.6"/><circle cx="135.7" cy="119.8" r="2.4" fill="none" stroke="#3e4c8a" stroke-width="0.6"/><circle cx="109.0" cy="78.6" r="2.4" fill="none" stroke="#228c8d" stroke-width="0.6"/><path d="M239.2 169.5l3.0 4.9h-6.0z" fill="none" stroke="#472c7a" stroke-width="0.65"/><path d="M257.9 134.7l3.0 4.9h-6.0z" fill="none" stroke="#481c6e" stroke-width="0.65"/><circle cx="118.4" cy="76.6" r="2.4" fill="none" stroke="#297a8e" stroke-width="0.6"/><path d="M208.8 156.8l3.0 4.9h-6.0z" fill="none" stroke="#3e4989" stroke-width="0.65"/><circle cx="101.2" cy="66.9" r="2.4" fill="none" stroke="#1f998a" stroke-width="0.6"/><circle cx="145.4" cy="128.4" r="2.4" fill="none" stroke="#3c508b" stroke-width="0.6"/><path d="M218.0 169.9l3.0 4.9h-6.0z" fill="none" stroke="#414287" stroke-width="0.65"/><path d="M232.9 183.0l3.0 4.9h-6.0z" fill="none" stroke="#46327e" stroke-width="0.65"/><path d="M269.3 162.7l3.0 4.9h-6.0z" fill="none" stroke="#470d60" stroke-width="0.65"/><path d="M189.6 138.5l3.0 4.9h-6.0z" fill="none" stroke="#306a8e" stroke-width="0.65"/><circle cx="134.8" cy="116.8" r="2.4" fill="none" stroke="#472a7a" stroke-width="0.6"/><circle cx="128.1" cy="123.2" r="2.4" fill="none" stroke="#450457" stroke-width="0.6"/><path d="M121.2 80.9l3.0 4.9h-6.0z" fill="none" stroke="#26818e" stroke-width="0.65"/><path d="M219.0 148.3l3.0 4.9h-6.0z" fill="none" stroke="#443a83" stroke-width="0.65"/><path d="M133.1 91.3l3.0 4.9h-6.0z" fill="none" stroke="#23888e" stroke-width="0.65"/><path d="M110.5 64.8l3.0 4.9h-6.0z" fill="none" stroke="#25858e" stroke-width="0.65"/><path d="M225.1 165.4l3.0 4.9h-6.0z" fill="none" stroke="#472e7c" stroke-width="0.65"/><circle cx="137.7" cy="96.1" r="2.4" fill="none" stroke="#3f4889" stroke-width="0.6"/><circle cx="115.1" cy="73.8" r="2.4" fill="none" stroke="#1f948c" stroke-width="0.6"/><path d="M113.1 80.6l3.0 4.9h-6.0z" fill="none" stroke="#24878e" stroke-width="0.65"/><path d="M239.0 127.0l3.0 4.9h-6.0z" fill="none" stroke="#470e61" stroke-width="0.65"/><circle cx="132.1" cy="117.3" r="2.4" fill="none" stroke="#463480" stroke-width="0.6"/><circle cx="132.3" cy="104.3" r="2.4" fill="none" stroke="#3e4c8a" stroke-width="0.6"/><path d="M239.8 175.4l3.0 4.9h-6.0z" fill="none" stroke="#482677" stroke-width="0.65"/><path d="M109.0 65.3l3.0 4.9h-6.0z" fill="none" stroke="#218e8d" stroke-width="0.65"/><path d="M144.1 77.4l3.0 4.9h-6.0z" fill="none" stroke="#2b748e" stroke-width="0.65"/><circle cx="134.4" cy="81.1" r="2.4" fill="none" stroke="#424086" stroke-width="0.6"/><circle cx="132.4" cy="111.6" r="2.4" fill="none" stroke="#423f85" stroke-width="0.6"/><circle cx="134.7" cy="113.1" r="2.4" fill="none" stroke="#3d4e8a" stroke-width="0.6"/><circle cx="116.0" cy="80.4" r="2.4" fill="none" stroke="#25838e" stroke-width="0.6"/><path d="M130.8 85.8l3.0 4.9h-6.0z" fill="none" stroke="#25848e" stroke-width="0.65"/><path d="M128.8 89.8l3.0 4.9h-6.0z" fill="none" stroke="#228d8d" stroke-width="0.65"/><path d="M196.9 105.4l3.0 4.9h-6.0z" fill="none" stroke="#3d4e8a" stroke-width="0.65"/><path d="M140.4 102.4l3.0 4.9h-6.0z" fill="none" stroke="#27808e" stroke-width="0.65"/><circle cx="130.8" cy="106.5" r="2.4" fill="none" stroke="#481d6f" stroke-width="0.6"/><path d="M238.9 173.6l3.0 4.9h-6.0z" fill="none" stroke="#460a5d" stroke-width="0.65"/><path d="M154.7 87.5l3.0 4.9h-6.0z" fill="none" stroke="#2f6c8e" stroke-width="0.65"/><circle cx="136.5" cy="114.1" r="2.4" fill="none" stroke="#481f70" stroke-width="0.6"/><circle cx="120.5" cy="97.1" r="2.4" fill="none" stroke="#2c718e" stroke-width="0.6"/><circle cx="136.0" cy="97.8" r="2.4" fill="none" stroke="#481a6c" stroke-width="0.6"/><path d="M163.7 110.6l3.0 4.9h-6.0z" fill="none" stroke="#2e6d8e" stroke-width="0.65"/><path d="M237.7 166.0l3.0 4.9h-6.0z" fill="none" stroke="#471063" stroke-width="0.65"/><path d="M233.2 173.0l3.0 4.9h-6.0z" fill="none" stroke="#482374" stroke-width="0.65"/><circle cx="121.8" cy="100.6" r="2.4" fill="none" stroke="#297b8e" stroke-width="0.6"/><circle cx="102.6" cy="71.6" r="2.4" fill="none" stroke="#20938c" stroke-width="0.6"/><path d="M155.9 111.4l3.0 4.9h-6.0z" fill="none" stroke="#297a8e" stroke-width="0.65"/><circle cx="125.1" cy="102.8" r="2.4" fill="none" stroke="#29798e" stroke-width="0.6"/><circle cx="133.3" cy="104.0" r="2.4" fill="none" stroke="#460b5e" stroke-width="0.6"/><circle cx="143.7" cy="111.2" r="2.4" fill="none" stroke="#39558c" stroke-width="0.6"/><path d="M124.0 77.0l3.0 4.9h-6.0z" fill="none" stroke="#2b748e" stroke-width="0.65"/><circle cx="113.4" cy="94.4" r="2.4" fill="none" stroke="#228d8d" stroke-width="0.6"/><path d="M247.4 130.2l3.0 4.9h-6.0z" fill="none" stroke="#481c6e" stroke-width="0.65"/><path d="M112.1 76.3l3.0 4.9h-6.0z" fill="none" stroke="#297a8e" stroke-width="0.65"/><path d="M239.5 184.3l3.0 4.9h-6.0z" fill="none" stroke="#463480" stroke-width="0.65"/><path d="M114.4 72.5l3.0 4.9h-6.0z" fill="none" stroke="#25848e" stroke-width="0.65"/><path d="M281.1 204.4l3.0 4.9h-6.0z" fill="none" stroke="#450457" stroke-width="0.65"/><path d="M264.1 181.3l3.0 4.9h-6.0z" fill="none" stroke="#481d6f" stroke-width="0.65"/><path d="M194.8 136.6l3.0 4.9h-6.0z" fill="none" stroke="#39568c" stroke-width="0.65"/><circle cx="137.4" cy="107.9" r="2.4" fill="none" stroke="#39568c" stroke-width="0.6"/><circle cx="138.8" cy="97.7" r="2.4" fill="none" stroke="#33638d" stroke-width="0.6"/><circle cx="113.4" cy="77.4" r="2.4" fill="none" stroke="#26828e" stroke-width="0.6"/><path d="M264.3 165.1l3.0 4.9h-6.0z" fill="none" stroke="#471164" stroke-width="0.65"/><path d="M136.9 73.0l3.0 4.9h-6.0z" fill="none" stroke="#218e8d" stroke-width="0.65"/><circle cx="136.6" cy="96.1" r="2.4" fill="none" stroke="#30698e" stroke-width="0.6"/><path d="M234.6 122.5l3.0 4.9h-6.0z" fill="none" stroke="#482576" stroke-width="0.65"/><path d="M263.4 187.8l3.0 4.9h-6.0z" fill="none" stroke="#472e7c" stroke-width="0.65"/><path d="M104.2 69.5l3.0 4.9h-6.0z" fill="none" stroke="#1f958b" stroke-width="0.65"/><circle cx="100.8" cy="72.0" r="2.4" fill="none" stroke="#1f988b" stroke-width="0.6"/><path d="M190.8 151.6l3.0 4.9h-6.0z" fill="none" stroke="#3d4d8a" stroke-width="0.65"/><circle cx="122.5" cy="82.4" r="2.4" fill="none" stroke="#2c738e" stroke-width="0.6"/><circle cx="132.0" cy="102.1" r="2.4" fill="none" stroke="#46337f" stroke-width="0.6"/><circle cx="125.0" cy="97.5" r="2.4" fill="none" stroke="#2f6c8e" stroke-width="0.6"/><path d="M113.2 79.7l3.0 4.9h-6.0z" fill="none" stroke="#1f978b" stroke-width="0.65"/><path d="M114.4 75.4l3.0 4.9h-6.0z" fill="none" stroke="#228b8d" stroke-width="0.65"/><path d="M168.6 94.7l3.0 4.9h-6.0z" fill="none" stroke="#2c718e" stroke-width="0.65"/><circle cx="143.7" cy="112.0" r="2.4" fill="none" stroke="#471164" stroke-width="0.6"/><path d="M127.7 96.2l3.0 4.9h-6.0z" fill="none" stroke="#238a8d" stroke-width="0.65"/><circle cx="140.7" cy="107.4" r="2.4" fill="none" stroke="#3b528b" stroke-width="0.6"/><circle cx="110.8" cy="86.6" r="2.4" fill="none" stroke="#228c8d" stroke-width="0.6"/><path d="M250.4 181.5l3.0 4.9h-6.0z" fill="none" stroke="#472d7b" stroke-width="0.65"/><path d="M228.8 120.6l3.0 4.9h-6.0z" fill="none" stroke="#453581" stroke-width="0.65"/><circle cx="133.2" cy="91.1" r="2.4" fill="none" stroke="#2e6e8e" stroke-width="0.6"/><circle cx="139.3" cy="104.8" r="2.4" fill="none" stroke="#482071" stroke-width="0.6"/><circle cx="96.9" cy="55.7" r="2.4" fill="none" stroke="#1f9e89" stroke-width="0.6"/><path d="M133.6 100.0l3.0 4.9h-6.0z" fill="none" stroke="#26828e" stroke-width="0.65"/><path d="M116.2 68.1l3.0 4.9h-6.0z" fill="none" stroke="#23888e" stroke-width="0.65"/><path d="M224.4 159.1l3.0 4.9h-6.0z" fill="none" stroke="#404588" stroke-width="0.65"/><path d="M210.9 118.5l3.0 4.9h-6.0z" fill="none" stroke="#443b84" stroke-width="0.65"/><path d="M201.8 129.4l3.0 4.9h-6.0z" fill="none" stroke="#404588" stroke-width="0.65"/><circle cx="115.7" cy="85.9" r="2.4" fill="none" stroke="#297b8e" stroke-width="0.6"/><circle cx="112.6" cy="97.0" r="2.4" fill="none" stroke="#21918c" stroke-width="0.6"/><path d="M164.0 112.7l3.0 4.9h-6.0z" fill="none" stroke="#2c728e" stroke-width="0.65"/><path d="M139.1 74.8l3.0 4.9h-6.0z" fill="none" stroke="#277e8e" stroke-width="0.65"/><path d="M193.3 119.0l3.0 4.9h-6.0z" fill="none" stroke="#3b518b" stroke-width="0.65"/><path d="M118.9 69.4l3.0 4.9h-6.0z" fill="none" stroke="#26828e" stroke-width="0.65"/><path d="M125.3 85.3l3.0 4.9h-6.0z" fill="none" stroke="#287d8e" stroke-width="0.65"/><path d="M166.1 128.6l3.0 4.9h-6.0z" fill="none" stroke="#2d708e" stroke-width="0.65"/><path d="M278.6 220.2l3.0 4.9h-6.0z" fill="none" stroke="#46085c" stroke-width="0.65"/><path d="M104.4 64.2l3.0 4.9h-6.0z" fill="none" stroke="#1e9b8a" stroke-width="0.65"/><circle cx="104.1" cy="86.7" r="2.4" fill="none" stroke="#23898e" stroke-width="0.6"/><path d="M124.6 67.0l3.0 4.9h-6.0z" fill="none" stroke="#287d8e" stroke-width="0.65"/><path d="M244.2 165.7l3.0 4.9h-6.0z" fill="none" stroke="#482878" stroke-width="0.65"/><path d="M279.3 143.6l3.0 4.9h-6.0z" fill="none" stroke="#440154" stroke-width="0.65"/><path d="M187.1 128.3l3.0 4.9h-6.0z" fill="none" stroke="#39558c" stroke-width="0.65"/><path d="M190.7 103.3l3.0 4.9h-6.0z" fill="none" stroke="#3d4d8a" stroke-width="0.65"/><path d="M141.8 76.3l3.0 4.9h-6.0z" fill="none" stroke="#277e8e" stroke-width="0.65"/><path d="M227.5 136.6l3.0 4.9h-6.0z" fill="none" stroke="#3e4a89" stroke-width="0.65"/><circle cx="124.8" cy="93.0" r="2.4" fill="none" stroke="#2a788e" stroke-width="0.6"/><circle cx="124.3" cy="78.0" r="2.4" fill="none" stroke="#27808e" stroke-width="0.6"/><circle cx="132.2" cy="111.3" r="2.4" fill="none" stroke="#3b528b" stroke-width="0.6"/><circle cx="131.9" cy="106.4" r="2.4" fill="none" stroke="#3c4f8a" stroke-width="0.6"/><circle cx="117.3" cy="87.5" r="2.4" fill="none" stroke="#25848e" stroke-width="0.6"/><path d="M112.3 69.8l3.0 4.9h-6.0z" fill="none" stroke="#218f8d" stroke-width="0.65"/><path d="M231.3 178.4l3.0 4.9h-6.0z" fill="none" stroke="#453882" stroke-width="0.65"/><circle cx="126.9" cy="100.0" r="2.4" fill="none" stroke="#2e6e8e" stroke-width="0.6"/><path d="M176.3 128.5l3.0 4.9h-6.0z" fill="none" stroke="#2e6e8e" stroke-width="0.65"/><path d="M110.9 84.3l3.0 4.9h-6.0z" fill="none" stroke="#20928c" stroke-width="0.65"/><path d="M219.6 172.9l3.0 4.9h-6.0z" fill="none" stroke="#424186" stroke-width="0.65"/><path d="M168.5 95.2l3.0 4.9h-6.0z" fill="none" stroke="#375b8d" stroke-width="0.65"/><circle cx="137.4" cy="81.4" r="2.4" fill="none" stroke="#424186" stroke-width="0.6"/><circle cx="131.5" cy="125.7" r="2.4" fill="none" stroke="#424086" stroke-width="0.6"/><circle cx="129.0" cy="112.3" r="2.4" fill="none" stroke="#355e8d" stroke-width="0.6"/><path d="M156.9 119.4l3.0 4.9h-6.0z" fill="none" stroke="#2b748e" stroke-width="0.65"/><path d="M139.9 67.1l3.0 4.9h-6.0z" fill="none" stroke="#26818e" stroke-width="0.65"/><path d="M173.1 106.6l3.0 4.9h-6.0z" fill="none" stroke="#34618d" stroke-width="0.65"/><path d="M250.1 133.1l3.0 4.9h-6.0z" fill="none" stroke="#481c6e" stroke-width="0.65"/><circle cx="135.8" cy="114.8" r="2.4" fill="none" stroke="#3f4889" stroke-width="0.6"/><circle cx="111.3" cy="81.2" r="2.4" fill="none" stroke="#218e8d" stroke-width="0.6"/><circle cx="131.8" cy="121.6" r="2.4" fill="none" stroke="#482878" stroke-width="0.6"/><path d="M121.4 72.1l3.0 4.9h-6.0z" fill="none" stroke="#25858e" stroke-width="0.65"/><path d="M215.6 130.7l3.0 4.9h-6.0z" fill="none" stroke="#423f85" stroke-width="0.65"/><circle cx="111.6" cy="70.6" r="2.4" fill="none" stroke="#20928c" stroke-width="0.6"/><path d="M103.4 58.2l3.0 4.9h-6.0z" fill="none" stroke="#228b8d" stroke-width="0.65"/><path d="M169.8 124.8l3.0 4.9h-6.0z" fill="none" stroke="#30698e" stroke-width="0.65"/><circle cx="122.4" cy="113.1" r="2.4" fill="none" stroke="#482173" stroke-width="0.6"/><path d="M141.5 85.9l3.0 4.9h-6.0z" fill="none" stroke="#26818e" stroke-width="0.65"/><path d="M112.8 68.1l3.0 4.9h-6.0z" fill="none" stroke="#228d8d" stroke-width="0.65"/><circle cx="133.7" cy="97.5" r="2.4" fill="none" stroke="#481f70" stroke-width="0.6"/><circle cx="122.3" cy="89.5" r="2.4" fill="none" stroke="#2a778e" stroke-width="0.6"/><path d="M232.6 160.6l3.0 4.9h-6.0z" fill="none" stroke="#46327e" stroke-width="0.65"/><path d="M198.6 155.8l3.0 4.9h-6.0z" fill="none" stroke="#3c508b" stroke-width="0.65"/><path d="M179.1 126.6l3.0 4.9h-6.0z" fill="none" stroke="#355f8d" stroke-width="0.65"/><circle cx="125.9" cy="111.3" r="2.4" fill="none" stroke="#2b758e" stroke-width="0.6"/><path d="M199.0 129.3l3.0 4.9h-6.0z" fill="none" stroke="#3e4c8a" stroke-width="0.65"/><circle cx="148.3" cy="115.4" r="2.4" fill="none" stroke="#482173" stroke-width="0.6"/><circle cx="137.9" cy="91.5" r="2.4" fill="none" stroke="#3d4e8a" stroke-width="0.6"/><circle cx="132.5" cy="98.8" r="2.4" fill="none" stroke="#481a6c" stroke-width="0.6"/><circle cx="141.0" cy="127.7" r="2.4" fill="none" stroke="#46307e" stroke-width="0.6"/><circle cx="134.3" cy="114.1" r="2.4" fill="none" stroke="#46327e" stroke-width="0.6"/><path d="M251.7 186.3l3.0 4.9h-6.0z" fill="none" stroke="#481769" stroke-width="0.65"/><circle cx="128.7" cy="99.5" r="2.4" fill="none" stroke="#3b528b" stroke-width="0.6"/><circle cx="113.0" cy="83.4" r="2.4" fill="none" stroke="#21918c" stroke-width="0.6"/><path d="M262.8 206.2l3.0 4.9h-6.0z" fill="none" stroke="#460b5e" stroke-width="0.65"/><circle cx="117.1" cy="90.4" r="2.4" fill="none" stroke="#25838e" stroke-width="0.6"/><line x1="62" y1="50.2" x2="281" y2="152" stroke="#1f6b48" stroke-width="2.4" stroke-linecap="butt"/><line x1="62" y1="53.6" x2="281" y2="209" stroke="#4fd3a6" stroke-width="2.6"/></g><rect x="52.5" y="32.4" width="240.9" height="203.4" fill="none" stroke="#8c8c8c" stroke-width="1.1"/><line x1="81.0" y1="235.8" x2="81.0" y2="238.6" stroke="#555" stroke-width="0.9"/><text x="81.0" y="247.4" class="tk" text-anchor="middle">0</text><line x1="147.8" y1="235.8" x2="147.8" y2="238.6" stroke="#555" stroke-width="0.9"/><text x="147.8" y="247.4" class="tk" text-anchor="middle">2</text><line x1="214.6" y1="235.8" x2="214.6" y2="238.6" stroke="#555" stroke-width="0.9"/><text x="214.6" y="247.4" class="tk" text-anchor="middle">4</text><line x1="281.4" y1="235.8" x2="281.4" y2="238.6" stroke="#555" stroke-width="0.9"/><text x="281.4" y="247.4" class="tk" text-anchor="middle">6</text><line x1="49.7" y1="54.8" x2="52.5" y2="54.8" stroke="#555" stroke-width="0.9"/><text x="48.3" y="58.1" class="tk" text-anchor="end">0</text><line x1="49.7" y1="111.0" x2="52.5" y2="111.0" stroke="#555" stroke-width="0.9"/><text x="48.3" y="114.3" class="tk" text-anchor="end">-10</text><line x1="49.7" y1="167.2" x2="52.5" y2="167.2" stroke="#555" stroke-width="0.9"/><text x="48.3" y="170.5" class="tk" text-anchor="end">-20</text><line x1="49.7" y1="223.4" x2="52.5" y2="223.4" stroke="#555" stroke-width="0.9"/><text x="48.3" y="226.7" class="tk" text-anchor="end">-30</text><rect x="203" y="67.3" width="56.6" height="26" rx="2" fill="#80c4a7" stroke="#333" stroke-width="0.8"/><text x="231.3" y="77.3" class="bx" text-anchor="middle">FishMIP</text><text x="231.3" y="90.1" class="bx" text-anchor="middle">Slope = -2.8</text><rect x="109.5" y="159.6" width="56" height="26" rx="2" fill="#7ff5dc" stroke="#333" stroke-width="0.8"/><text x="137.5" y="169.3" class="bx" text-anchor="middle">BOATS</text><text x="137.5" y="182.2" class="bx" text-anchor="middle">Slope = -4.2</text><text x="172.8" y="259.2" class="ax" text-anchor="middle">Change in TAS (°C)</text><text transform="translate(28.4,134.3) rotate(-90)" class="ax" text-anchor="middle">Change in biomass (%)</text><text x="21" y="44" class="pl">a</text><path d="M64.74,205.44 L72.33,209.23 L78.98,209.04 C81.82,207.81 84.67,206.86 86.57,204.49 L87.51,202.12 C91.31,203.06 95.10,204.49 97.00,204.96 C102.69,205.63 109.34,207.33 113.13,210.18 C115.98,212.08 117.87,213.98 117.40,215.40 C115.98,217.77 111.23,219.19 105.54,220.14 C101.75,220.81 97.95,221.57 94.16,222.04 L91.31,223.46 L88.46,223.94 L87.04,225.36 L85.62,220.62 C82.77,219.67 80.87,218.72 78.50,218.24 L72.33,218.72 L66.45,222.04 C67.12,218.72 67.59,215.87 67.40,213.50 C66.64,210.18 65.69,207.81 64.74,205.44 Z" fill="#000"/><text x="80.7" y="216.4" style="font-size:8.8px;font-weight:bold;fill:#80dab8;stroke:#80dab8;stroke-width:0.3px" textLength="31.5" lengthAdjust="spacingAndGlyphs">Biomass</text><rect x="334.5" y="32.4" width="247.5" height="203.4" fill="#fff"/><line x1="397.4" y1="32.4" x2="397.4" y2="235.8" stroke="#f4f4f4" stroke-width="0.6"/><line x1="466.4" y1="32.4" x2="466.4" y2="235.8" stroke="#f4f4f4" stroke-width="0.6"/><line x1="535.4" y1="32.4" x2="535.4" y2="235.8" stroke="#f4f4f4" stroke-width="0.6"/><line x1="334.5" y1="41.6" x2="582.0" y2="41.6" stroke="#f4f4f4" stroke-width="0.6"/><line x1="334.5" y1="98.4" x2="582.0" y2="98.4" stroke="#f4f4f4" stroke-width="0.6"/><line x1="334.5" y1="155.2" x2="582.0" y2="155.2" stroke="#f4f4f4" stroke-width="0.6"/><line x1="334.5" y1="212.0" x2="582.0" y2="212.0" stroke="#f4f4f4" stroke-width="0.6"/><line x1="362.9" y1="32.4" x2="362.9" y2="235.8" stroke="#ebebeb" stroke-width="0.9"/><line x1="431.9" y1="32.4" x2="431.9" y2="235.8" stroke="#ebebeb" stroke-width="0.9"/><line x1="500.9" y1="32.4" x2="500.9" y2="235.8" stroke="#ebebeb" stroke-width="0.9"/><line x1="569.9" y1="32.4" x2="569.9" y2="235.8" stroke="#ebebeb" stroke-width="0.9"/><line x1="334.5" y1="70.0" x2="582.0" y2="70.0" stroke="#ebebeb" stroke-width="0.9"/><line x1="334.5" y1="126.8" x2="582.0" y2="126.8" stroke="#ebebeb" stroke-width="0.9"/><line x1="334.5" y1="183.6" x2="582.0" y2="183.6" stroke="#ebebeb" stroke-width="0.9"/><g clip-path="url(#clb)"><polygon points="415,84 570.7,140 570.7,168 415,96" fill="#e9e4f8"/><circle cx="345.8" cy="62.0" r="2.1" fill="#c2df23"/><circle cx="346.3" cy="62.4" r="2.1" fill="#d8e219"/><circle cx="345.6" cy="65.5" r="2.1" fill="#d2e21b"/><circle cx="345.5" cy="69.5" r="2.1" fill="#bddf26"/><circle cx="345.0" cy="69.7" r="2.1" fill="#d8e219"/><circle cx="345.1" cy="73.9" r="2.1" fill="#d0e11c"/><circle cx="344.5" cy="74.6" r="2.1" fill="#c5e021"/><circle cx="346.7" cy="78.4" r="2.1" fill="#c2df23"/><circle cx="348.1" cy="40.3" r="2.1" fill="#6ece58"/><circle cx="346.6" cy="41.8" r="2.1" fill="#7ad151"/><circle cx="347.7" cy="45.8" r="2.1" fill="#73d056"/><circle cx="347.4" cy="48.1" r="2.1" fill="#84d44b"/><circle cx="348.4" cy="49.6" r="2.1" fill="#70cf57"/><circle cx="348.6" cy="54.1" r="2.1" fill="#73d056"/><circle cx="347.7" cy="55.8" r="2.1" fill="#73d056"/><circle cx="350.6" cy="58.5" r="2.1" fill="#93d741"/><circle cx="349.0" cy="62.2" r="2.1" fill="#8ed645"/><circle cx="349.7" cy="63.6" r="2.1" fill="#8bd646"/><circle cx="349.6" cy="65.8" r="2.1" fill="#90d743"/><circle cx="350.2" cy="70.4" r="2.1" fill="#89d548"/><circle cx="349.8" cy="71.2" r="2.1" fill="#9bd93c"/><circle cx="352.6" cy="59.1" r="2.1" fill="#9bd93c"/><circle cx="353.0" cy="62.9" r="2.1" fill="#b0dd2f"/><circle cx="353.2" cy="65.2" r="2.1" fill="#a0da39"/><circle cx="353.3" cy="67.2" r="2.1" fill="#b8de29"/><circle cx="353.1" cy="69.2" r="2.1" fill="#9bd93c"/><circle cx="353.7" cy="72.1" r="2.1" fill="#a0da39"/><circle cx="353.5" cy="75.8" r="2.1" fill="#a5db36"/><circle cx="352.9" cy="78.6" r="2.1" fill="#9bd93c"/><circle cx="356.2" cy="84.2" r="2.1" fill="#5ec962"/><circle cx="356.5" cy="85.9" r="2.1" fill="#6ece58"/><circle cx="357.4" cy="47.9" r="2.1" fill="#5ec962"/><circle cx="357.1" cy="48.5" r="2.1" fill="#75d054"/><circle cx="356.9" cy="50.6" r="2.1" fill="#5cc863"/><circle cx="360.6" cy="72.1" r="2.1" fill="#addc30"/><circle cx="361.1" cy="75.4" r="2.1" fill="#b0dd2f"/><circle cx="361.3" cy="78.9" r="2.1" fill="#b0dd2f"/><circle cx="361.0" cy="79.3" r="2.1" fill="#c0df25"/><circle cx="361.6" cy="83.2" r="2.1" fill="#b8de29"/><circle cx="363.9" cy="54.1" r="2.1" fill="#5ac864"/><circle cx="365.5" cy="58.2" r="2.1" fill="#54c568"/><circle cx="365.9" cy="60.6" r="2.1" fill="#65cb5e"/><circle cx="365.7" cy="63.9" r="2.1" fill="#58c765"/><circle cx="364.7" cy="65.7" r="2.1" fill="#52c569"/><circle cx="365.2" cy="68.7" r="2.1" fill="#48c16e"/><circle cx="365.6" cy="69.3" r="2.1" fill="#52c569"/><circle cx="364.0" cy="73.7" r="2.1" fill="#54c568"/><circle cx="364.6" cy="76.3" r="2.1" fill="#52c569"/><circle cx="364.6" cy="78.9" r="2.1" fill="#4ac16d"/><circle cx="365.1" cy="81.0" r="2.1" fill="#4ec36b"/><circle cx="369.4" cy="65.1" r="2.1" fill="#42be71"/><circle cx="368.6" cy="68.5" r="2.1" fill="#50c46a"/><circle cx="369.1" cy="70.8" r="2.1" fill="#4cc26c"/><circle cx="369.1" cy="72.6" r="2.1" fill="#3fbc73"/><circle cx="369.9" cy="76.1" r="2.1" fill="#48c16e"/><circle cx="369.4" cy="78.7" r="2.1" fill="#46c06f"/><circle cx="368.8" cy="81.6" r="2.1" fill="#50c46a"/><circle cx="376.7" cy="68.2" r="2.1" fill="#31b57b"/><circle cx="376.1" cy="70.4" r="2.1" fill="#2cb17e"/><circle cx="374.8" cy="74.3" r="2.1" fill="#3aba76"/><circle cx="375.7" cy="75.7" r="2.1" fill="#3aba76"/><circle cx="376.5" cy="79.7" r="2.1" fill="#34b679"/><circle cx="376.3" cy="82.0" r="2.1" fill="#3fbc73"/><circle cx="375.7" cy="84.3" r="2.1" fill="#2fb47c"/><circle cx="379.1" cy="67.0" r="2.1" fill="#2db27d"/><circle cx="378.2" cy="69.9" r="2.1" fill="#2fb47c"/><circle cx="378.0" cy="72.3" r="2.1" fill="#2db27d"/><circle cx="378.0" cy="74.5" r="2.1" fill="#2db27d"/><circle cx="385.2" cy="62.4" r="2.1" fill="#24aa83"/><circle cx="384.0" cy="64.2" r="2.1" fill="#2ab07f"/><circle cx="384.6" cy="67.7" r="2.1" fill="#23a983"/><circle cx="384.4" cy="68.9" r="2.1" fill="#24aa83"/><circle cx="384.2" cy="73.0" r="2.1" fill="#22a884"/><circle cx="384.2" cy="74.9" r="2.1" fill="#22a785"/><circle cx="384.0" cy="78.4" r="2.1" fill="#25ab82"/><circle cx="383.6" cy="80.6" r="2.1" fill="#24aa83"/><circle cx="384.1" cy="83.1" r="2.1" fill="#21a585"/><circle cx="383.0" cy="85.9" r="2.1" fill="#2cb17e"/><circle cx="384.6" cy="88.3" r="2.1" fill="#23a983"/><circle cx="384.9" cy="90.4" r="2.1" fill="#26ad81"/><path d="M534.3 141.1l3.0 4.9h-6.0z" fill="none" stroke="#482173" stroke-width="0.65"/><path d="M484.3 115.2l3.0 4.9h-6.0z" fill="none" stroke="#3f4889" stroke-width="0.65"/><path d="M457.1 107.7l3.0 4.9h-6.0z" fill="none" stroke="#365c8d" stroke-width="0.65"/><path d="M573.9 149.3l3.0 4.9h-6.0z" fill="none" stroke="#46075a" stroke-width="0.65"/><path d="M547.8 117.4l3.0 4.9h-6.0z" fill="none" stroke="#481467" stroke-width="0.65"/><path d="M440.6 91.5l3.0 4.9h-6.0z" fill="none" stroke="#2d708e" stroke-width="0.65"/><path d="M483.5 104.4l3.0 4.9h-6.0z" fill="none" stroke="#3e4989" stroke-width="0.65"/><circle cx="422.6" cy="88.5" r="2.4" fill="none" stroke="#443b84" stroke-width="0.6"/><circle cx="423.5" cy="116.3" r="2.4" fill="none" stroke="#306a8e" stroke-width="0.6"/><path d="M512.3 125.8l3.0 4.9h-6.0z" fill="none" stroke="#453781" stroke-width="0.65"/><circle cx="426.0" cy="109.6" r="2.4" fill="none" stroke="#453882" stroke-width="0.6"/><circle cx="421.8" cy="99.5" r="2.4" fill="none" stroke="#482173" stroke-width="0.6"/><path d="M512.2 118.3l3.0 4.9h-6.0z" fill="none" stroke="#443983" stroke-width="0.65"/><circle cx="419.6" cy="100.0" r="2.4" fill="none" stroke="#48186a" stroke-width="0.6"/><path d="M526.3 140.1l3.0 4.9h-6.0z" fill="none" stroke="#482576" stroke-width="0.65"/><path d="M529.1 125.3l3.0 4.9h-6.0z" fill="none" stroke="#472f7d" stroke-width="0.65"/><path d="M396.3 78.8l3.0 4.9h-6.0z" fill="none" stroke="#1f998a" stroke-width="0.65"/><path d="M569.6 132.6l3.0 4.9h-6.0z" fill="none" stroke="#440154" stroke-width="0.65"/><circle cx="421.3" cy="96.4" r="2.4" fill="none" stroke="#453581" stroke-width="0.6"/><circle cx="416.0" cy="81.7" r="2.4" fill="none" stroke="#472c7a" stroke-width="0.6"/><circle cx="422.1" cy="105.3" r="2.4" fill="none" stroke="#424086" stroke-width="0.6"/><circle cx="390.9" cy="83.6" r="2.4" fill="none" stroke="#1f9a8a" stroke-width="0.6"/><path d="M399.3 72.0l3.0 4.9h-6.0z" fill="none" stroke="#1e9d89" stroke-width="0.65"/><path d="M499.3 123.5l3.0 4.9h-6.0z" fill="none" stroke="#3f4889" stroke-width="0.65"/><circle cx="419.4" cy="103.7" r="2.4" fill="none" stroke="#440154" stroke-width="0.6"/><circle cx="427.1" cy="73.2" r="2.4" fill="none" stroke="#46307e" stroke-width="0.6"/><path d="M569.1 137.4l3.0 4.9h-6.0z" fill="none" stroke="#440154" stroke-width="0.65"/><path d="M540.1 134.6l3.0 4.9h-6.0z" fill="none" stroke="#482576" stroke-width="0.65"/><path d="M544.8 146.9l3.0 4.9h-6.0z" fill="none" stroke="#470e61" stroke-width="0.65"/><circle cx="422.0" cy="118.7" r="2.4" fill="none" stroke="#481b6d" stroke-width="0.6"/><path d="M456.1 98.9l3.0 4.9h-6.0z" fill="none" stroke="#2f6b8e" stroke-width="0.65"/><circle cx="400.1" cy="83.0" r="2.4" fill="none" stroke="#218e8d" stroke-width="0.6"/><circle cx="421.7" cy="104.2" r="2.4" fill="none" stroke="#306a8e" stroke-width="0.6"/><path d="M564.0 154.6l3.0 4.9h-6.0z" fill="none" stroke="#450559" stroke-width="0.65"/><path d="M565.6 146.7l3.0 4.9h-6.0z" fill="none" stroke="#450559" stroke-width="0.65"/><circle cx="423.8" cy="98.7" r="2.4" fill="none" stroke="#30698e" stroke-width="0.6"/><path d="M514.2 124.0l3.0 4.9h-6.0z" fill="none" stroke="#443b84" stroke-width="0.65"/><path d="M541.4 132.7l3.0 4.9h-6.0z" fill="none" stroke="#482374" stroke-width="0.65"/><circle cx="416.8" cy="118.5" r="2.4" fill="none" stroke="#365c8d" stroke-width="0.6"/><circle cx="414.7" cy="116.6" r="2.4" fill="none" stroke="#472a7a" stroke-width="0.6"/><path d="M538.2 136.2l3.0 4.9h-6.0z" fill="none" stroke="#482173" stroke-width="0.65"/><path d="M495.1 113.6l3.0 4.9h-6.0z" fill="none" stroke="#404688" stroke-width="0.65"/><path d="M545.7 151.8l3.0 4.9h-6.0z" fill="none" stroke="#481d6f" stroke-width="0.65"/><path d="M404.8 93.2l3.0 4.9h-6.0z" fill="none" stroke="#1f988b" stroke-width="0.65"/><circle cx="421.7" cy="94.3" r="2.4" fill="none" stroke="#481b6d" stroke-width="0.6"/><path d="M507.1 119.4l3.0 4.9h-6.0z" fill="none" stroke="#443a83" stroke-width="0.65"/><circle cx="420.2" cy="117.4" r="2.4" fill="none" stroke="#453581" stroke-width="0.6"/><circle cx="426.9" cy="89.4" r="2.4" fill="none" stroke="#470d60" stroke-width="0.6"/><circle cx="416.6" cy="102.1" r="2.4" fill="none" stroke="#424086" stroke-width="0.6"/><path d="M398.2 77.3l3.0 4.9h-6.0z" fill="none" stroke="#25858e" stroke-width="0.65"/><circle cx="424.2" cy="93.6" r="2.4" fill="none" stroke="#472f7d" stroke-width="0.6"/><path d="M558.6 134.3l3.0 4.9h-6.0z" fill="none" stroke="#440256" stroke-width="0.65"/><path d="M529.4 120.0l3.0 4.9h-6.0z" fill="none" stroke="#472f7d" stroke-width="0.65"/><path d="M537.1 158.9l3.0 4.9h-6.0z" fill="none" stroke="#481b6d" stroke-width="0.65"/><circle cx="419.8" cy="99.2" r="2.4" fill="none" stroke="#3f4889" stroke-width="0.6"/><path d="M476.3 109.1l3.0 4.9h-6.0z" fill="none" stroke="#3b518b" stroke-width="0.65"/><path d="M526.3 147.9l3.0 4.9h-6.0z" fill="none" stroke="#472c7a" stroke-width="0.65"/><circle cx="418.8" cy="89.6" r="2.4" fill="none" stroke="#39558c" stroke-width="0.6"/><circle cx="420.9" cy="95.4" r="2.4" fill="none" stroke="#46307e" stroke-width="0.6"/><circle cx="424.0" cy="84.9" r="2.4" fill="none" stroke="#481467" stroke-width="0.6"/><path d="M535.0 136.4l3.0 4.9h-6.0z" fill="none" stroke="#482475" stroke-width="0.65"/><path d="M498.0 116.5l3.0 4.9h-6.0z" fill="none" stroke="#404588" stroke-width="0.65"/><path d="M478.0 110.0l3.0 4.9h-6.0z" fill="none" stroke="#3b518b" stroke-width="0.65"/><path d="M545.0 125.0l3.0 4.9h-6.0z" fill="none" stroke="#481467" stroke-width="0.65"/><path d="M519.9 102.0l3.0 4.9h-6.0z" fill="none" stroke="#472d7b" stroke-width="0.65"/><circle cx="394.3" cy="78.4" r="2.4" fill="none" stroke="#238a8d" stroke-width="0.6"/><path d="M478.6 114.5l3.0 4.9h-6.0z" fill="none" stroke="#3a538b" stroke-width="0.65"/><circle cx="425.1" cy="108.2" r="2.4" fill="none" stroke="#3f4889" stroke-width="0.6"/><path d="M505.2 128.8l3.0 4.9h-6.0z" fill="none" stroke="#472c7a" stroke-width="0.65"/><path d="M466.8 113.3l3.0 4.9h-6.0z" fill="none" stroke="#3a548c" stroke-width="0.65"/><circle cx="418.3" cy="98.2" r="2.4" fill="none" stroke="#453781" stroke-width="0.6"/><path d="M538.1 141.2l3.0 4.9h-6.0z" fill="none" stroke="#482979" stroke-width="0.65"/><circle cx="425.8" cy="82.5" r="2.4" fill="none" stroke="#440154" stroke-width="0.6"/><circle cx="418.4" cy="102.6" r="2.4" fill="none" stroke="#3a538b" stroke-width="0.6"/><path d="M550.4 133.0l3.0 4.9h-6.0z" fill="none" stroke="#482677" stroke-width="0.65"/><circle cx="430.6" cy="108.0" r="2.4" fill="none" stroke="#471365" stroke-width="0.6"/><circle cx="413.8" cy="110.2" r="2.4" fill="none" stroke="#472e7c" stroke-width="0.6"/><circle cx="421.0" cy="96.1" r="2.4" fill="none" stroke="#482576" stroke-width="0.6"/><path d="M465.8 104.3l3.0 4.9h-6.0z" fill="none" stroke="#33638d" stroke-width="0.65"/><circle cx="418.6" cy="102.1" r="2.4" fill="none" stroke="#482878" stroke-width="0.6"/><circle cx="421.3" cy="102.3" r="2.4" fill="none" stroke="#482374" stroke-width="0.6"/><path d="M484.6 123.0l3.0 4.9h-6.0z" fill="none" stroke="#3e4c8a" stroke-width="0.65"/><path d="M535.6 126.4l3.0 4.9h-6.0z" fill="none" stroke="#46337f" stroke-width="0.65"/><path d="M401.0 80.3l3.0 4.9h-6.0z" fill="none" stroke="#1f958b" stroke-width="0.65"/><path d="M542.9 146.0l3.0 4.9h-6.0z" fill="none" stroke="#481a6c" stroke-width="0.65"/><path d="M502.0 101.3l3.0 4.9h-6.0z" fill="none" stroke="#414287" stroke-width="0.65"/><circle cx="420.4" cy="72.9" r="2.4" fill="none" stroke="#482878" stroke-width="0.6"/><circle cx="425.6" cy="100.7" r="2.4" fill="none" stroke="#481a6c" stroke-width="0.6"/><path d="M440.9 95.9l3.0 4.9h-6.0z" fill="none" stroke="#306a8e" stroke-width="0.65"/><path d="M403.7 87.6l3.0 4.9h-6.0z" fill="none" stroke="#1f9f88" stroke-width="0.65"/><circle cx="420.1" cy="91.9" r="2.4" fill="none" stroke="#482979" stroke-width="0.6"/><path d="M513.9 126.5l3.0 4.9h-6.0z" fill="none" stroke="#453882" stroke-width="0.65"/><circle cx="424.4" cy="95.3" r="2.4" fill="none" stroke="#34618d" stroke-width="0.6"/><circle cx="425.0" cy="109.4" r="2.4" fill="none" stroke="#3e4989" stroke-width="0.6"/><circle cx="421.5" cy="97.7" r="2.4" fill="none" stroke="#460b5e" stroke-width="0.6"/><path d="M444.8 90.0l3.0 4.9h-6.0z" fill="none" stroke="#31678e" stroke-width="0.65"/><circle cx="422.9" cy="114.1" r="2.4" fill="none" stroke="#460a5d" stroke-width="0.6"/><path d="M448.0 98.2l3.0 4.9h-6.0z" fill="none" stroke="#355e8d" stroke-width="0.65"/><path d="M399.0 80.6l3.0 4.9h-6.0z" fill="none" stroke="#26828e" stroke-width="0.65"/><path d="M463.4 102.8l3.0 4.9h-6.0z" fill="none" stroke="#32648e" stroke-width="0.65"/><circle cx="425.0" cy="112.8" r="2.4" fill="none" stroke="#423f85" stroke-width="0.6"/><circle cx="414.3" cy="85.9" r="2.4" fill="none" stroke="#33628d" stroke-width="0.6"/><path d="M461.7 106.4l3.0 4.9h-6.0z" fill="none" stroke="#39568c" stroke-width="0.65"/><circle cx="421.3" cy="88.3" r="2.4" fill="none" stroke="#471164" stroke-width="0.6"/><circle cx="422.1" cy="85.4" r="2.4" fill="none" stroke="#482576" stroke-width="0.6"/><path d="M440.7 94.6l3.0 4.9h-6.0z" fill="none" stroke="#34618d" stroke-width="0.65"/><path d="M464.6 84.3l3.0 4.9h-6.0z" fill="none" stroke="#365c8d" stroke-width="0.65"/><circle cx="420.3" cy="110.7" r="2.4" fill="none" stroke="#443a83" stroke-width="0.6"/><circle cx="422.0" cy="96.8" r="2.4" fill="none" stroke="#471365" stroke-width="0.6"/><circle cx="425.0" cy="94.1" r="2.4" fill="none" stroke="#472a7a" stroke-width="0.6"/><path d="M498.5 127.9l3.0 4.9h-6.0z" fill="none" stroke="#414287" stroke-width="0.65"/><circle cx="417.2" cy="95.8" r="2.4" fill="none" stroke="#453581" stroke-width="0.6"/><path d="M485.0 108.7l3.0 4.9h-6.0z" fill="none" stroke="#38598c" stroke-width="0.65"/><circle cx="419.6" cy="95.3" r="2.4" fill="none" stroke="#460b5e" stroke-width="0.6"/><path d="M482.3 109.6l3.0 4.9h-6.0z" fill="none" stroke="#365d8d" stroke-width="0.65"/><path d="M399.7 83.8l3.0 4.9h-6.0z" fill="none" stroke="#26828e" stroke-width="0.65"/><circle cx="418.6" cy="109.6" r="2.4" fill="none" stroke="#481668" stroke-width="0.6"/><circle cx="427.3" cy="99.4" r="2.4" fill="none" stroke="#482677" stroke-width="0.6"/><circle cx="395.2" cy="73.9" r="2.4" fill="none" stroke="#1f948c" stroke-width="0.6"/><circle cx="419.6" cy="92.6" r="2.4" fill="none" stroke="#482576" stroke-width="0.6"/><path d="M408.2 80.3l3.0 4.9h-6.0z" fill="none" stroke="#297a8e" stroke-width="0.65"/><circle cx="426.1" cy="93.1" r="2.4" fill="none" stroke="#481f70" stroke-width="0.6"/><path d="M501.9 124.5l3.0 4.9h-6.0z" fill="none" stroke="#433d84" stroke-width="0.65"/><path d="M562.9 171.6l3.0 4.9h-6.0z" fill="none" stroke="#440154" stroke-width="0.65"/><circle cx="425.9" cy="106.6" r="2.4" fill="none" stroke="#481c6e" stroke-width="0.6"/><path d="M446.6 99.1l3.0 4.9h-6.0z" fill="none" stroke="#2e6f8e" stroke-width="0.65"/><path d="M400.2 81.9l3.0 4.9h-6.0z" fill="none" stroke="#287c8e" stroke-width="0.65"/><circle cx="425.6" cy="115.6" r="2.4" fill="none" stroke="#3a538b" stroke-width="0.6"/><circle cx="420.8" cy="86.1" r="2.4" fill="none" stroke="#355f8d" stroke-width="0.6"/><path d="M402.0 95.0l3.0 4.9h-6.0z" fill="none" stroke="#228d8d" stroke-width="0.65"/><path d="M395.2 91.6l3.0 4.9h-6.0z" fill="none" stroke="#287c8e" stroke-width="0.65"/><circle cx="420.6" cy="86.8" r="2.4" fill="none" stroke="#33638d" stroke-width="0.6"/><path d="M568.4 162.3l3.0 4.9h-6.0z" fill="none" stroke="#440154" stroke-width="0.65"/><circle cx="417.1" cy="79.6" r="2.4" fill="none" stroke="#3c508b" stroke-width="0.6"/><circle cx="432.2" cy="89.8" r="2.4" fill="none" stroke="#355e8d" stroke-width="0.6"/><circle cx="420.7" cy="92.6" r="2.4" fill="none" stroke="#472a7a" stroke-width="0.6"/><path d="M400.2 68.4l3.0 4.9h-6.0z" fill="none" stroke="#297a8e" stroke-width="0.65"/><circle cx="428.8" cy="110.7" r="2.4" fill="none" stroke="#3f4788" stroke-width="0.6"/><path d="M560.5 157.2l3.0 4.9h-6.0z" fill="none" stroke="#460a5d" stroke-width="0.65"/><path d="M499.9 111.4l3.0 4.9h-6.0z" fill="none" stroke="#453781" stroke-width="0.65"/><path d="M392.1 94.9l3.0 4.9h-6.0z" fill="none" stroke="#1e9d89" stroke-width="0.65"/><path d="M439.8 100.7l3.0 4.9h-6.0z" fill="none" stroke="#2f6c8e" stroke-width="0.65"/><path d="M453.6 106.3l3.0 4.9h-6.0z" fill="none" stroke="#33628d" stroke-width="0.65"/><circle cx="412.9" cy="91.0" r="2.4" fill="none" stroke="#2d708e" stroke-width="0.6"/><circle cx="426.3" cy="101.5" r="2.4" fill="none" stroke="#453581" stroke-width="0.6"/><path d="M405.3 71.8l3.0 4.9h-6.0z" fill="none" stroke="#1e9d89" stroke-width="0.65"/><circle cx="428.8" cy="108.4" r="2.4" fill="none" stroke="#46307e" stroke-width="0.6"/><path d="M452.6 94.2l3.0 4.9h-6.0z" fill="none" stroke="#355f8d" stroke-width="0.65"/><circle cx="417.2" cy="79.5" r="2.4" fill="none" stroke="#31688e" stroke-width="0.6"/><path d="M534.2 135.3l3.0 4.9h-6.0z" fill="none" stroke="#482071" stroke-width="0.65"/><path d="M459.3 95.1l3.0 4.9h-6.0z" fill="none" stroke="#39568c" stroke-width="0.65"/><path d="M445.8 88.3l3.0 4.9h-6.0z" fill="none" stroke="#2a788e" stroke-width="0.65"/><path d="M547.0 133.2l3.0 4.9h-6.0z" fill="none" stroke="#471164" stroke-width="0.65"/><path d="M549.1 137.0l3.0 4.9h-6.0z" fill="none" stroke="#471164" stroke-width="0.65"/><path d="M521.3 122.0l3.0 4.9h-6.0z" fill="none" stroke="#443b84" stroke-width="0.65"/><path d="M464.5 100.5l3.0 4.9h-6.0z" fill="none" stroke="#30698e" stroke-width="0.65"/><path d="M528.3 137.9l3.0 4.9h-6.0z" fill="none" stroke="#482374" stroke-width="0.65"/><path d="M469.3 102.5l3.0 4.9h-6.0z" fill="none" stroke="#3f4889" stroke-width="0.65"/><path d="M554.8 158.7l3.0 4.9h-6.0z" fill="none" stroke="#450559" stroke-width="0.65"/><circle cx="420.6" cy="95.4" r="2.4" fill="none" stroke="#38598c" stroke-width="0.6"/><path d="M397.0 84.7l3.0 4.9h-6.0z" fill="none" stroke="#1e9d89" stroke-width="0.65"/><circle cx="397.4" cy="77.1" r="2.4" fill="none" stroke="#20928c" stroke-width="0.6"/><circle cx="422.1" cy="83.9" r="2.4" fill="none" stroke="#482979" stroke-width="0.6"/><path d="M534.3 149.0l3.0 4.9h-6.0z" fill="none" stroke="#46307e" stroke-width="0.65"/><path d="M470.9 108.9l3.0 4.9h-6.0z" fill="none" stroke="#38598c" stroke-width="0.65"/><circle cx="417.9" cy="104.3" r="2.4" fill="none" stroke="#46327e" stroke-width="0.6"/><circle cx="422.2" cy="100.9" r="2.4" fill="none" stroke="#3b528b" stroke-width="0.6"/><path d="M518.8 124.5l3.0 4.9h-6.0z" fill="none" stroke="#443b84" stroke-width="0.65"/><path d="M457.2 112.2l3.0 4.9h-6.0z" fill="none" stroke="#39558c" stroke-width="0.65"/><path d="M484.9 115.3l3.0 4.9h-6.0z" fill="none" stroke="#3b528b" stroke-width="0.65"/><circle cx="414.5" cy="88.1" r="2.4" fill="none" stroke="#3b528b" stroke-width="0.6"/><path d="M406.0 87.0l3.0 4.9h-6.0z" fill="none" stroke="#26818e" stroke-width="0.65"/><circle cx="429.3" cy="92.6" r="2.4" fill="none" stroke="#2f6b8e" stroke-width="0.6"/><circle cx="430.5" cy="120.2" r="2.4" fill="none" stroke="#433e85" stroke-width="0.6"/><circle cx="414.8" cy="106.2" r="2.4" fill="none" stroke="#482173" stroke-width="0.6"/><path d="M485.8 117.4l3.0 4.9h-6.0z" fill="none" stroke="#3c4f8a" stroke-width="0.65"/><path d="M402.0 85.7l3.0 4.9h-6.0z" fill="none" stroke="#29798e" stroke-width="0.65"/><circle cx="418.2" cy="94.6" r="2.4" fill="none" stroke="#472a7a" stroke-width="0.6"/><path d="M457.4 102.1l3.0 4.9h-6.0z" fill="none" stroke="#306a8e" stroke-width="0.65"/><path d="M477.2 113.8l3.0 4.9h-6.0z" fill="none" stroke="#33628d" stroke-width="0.65"/><path d="M551.9 137.1l3.0 4.9h-6.0z" fill="none" stroke="#481668" stroke-width="0.65"/><circle cx="395.2" cy="91.7" r="2.4" fill="none" stroke="#1f968b" stroke-width="0.6"/><path d="M444.7 96.5l3.0 4.9h-6.0z" fill="none" stroke="#2d708e" stroke-width="0.65"/><circle cx="414.4" cy="70.2" r="2.4" fill="none" stroke="#46327e" stroke-width="0.6"/><circle cx="399.8" cy="84.4" r="2.4" fill="none" stroke="#228b8d" stroke-width="0.6"/><circle cx="428.0" cy="111.6" r="2.4" fill="none" stroke="#404688" stroke-width="0.6"/><circle cx="421.6" cy="102.3" r="2.4" fill="none" stroke="#450559" stroke-width="0.6"/><path d="M473.9 122.7l3.0 4.9h-6.0z" fill="none" stroke="#3d4d8a" stroke-width="0.65"/><circle cx="422.0" cy="85.4" r="2.4" fill="none" stroke="#3c508b" stroke-width="0.6"/><circle cx="417.5" cy="87.0" r="2.4" fill="none" stroke="#355f8d" stroke-width="0.6"/><circle cx="413.2" cy="93.2" r="2.4" fill="none" stroke="#3f4788" stroke-width="0.6"/><circle cx="420.4" cy="108.0" r="2.4" fill="none" stroke="#3b528b" stroke-width="0.6"/><circle cx="423.8" cy="98.5" r="2.4" fill="none" stroke="#433e85" stroke-width="0.6"/><path d="M522.2 118.8l3.0 4.9h-6.0z" fill="none" stroke="#482979" stroke-width="0.65"/><path d="M443.9 86.9l3.0 4.9h-6.0z" fill="none" stroke="#31688e" stroke-width="0.65"/><path d="M452.4 101.1l3.0 4.9h-6.0z" fill="none" stroke="#33628d" stroke-width="0.65"/><circle cx="421.9" cy="99.4" r="2.4" fill="none" stroke="#481769" stroke-width="0.6"/><path d="M473.4 102.9l3.0 4.9h-6.0z" fill="none" stroke="#306a8e" stroke-width="0.65"/><path d="M458.8 108.3l3.0 4.9h-6.0z" fill="none" stroke="#355e8d" stroke-width="0.65"/><path d="M518.2 117.4l3.0 4.9h-6.0z" fill="none" stroke="#453581" stroke-width="0.65"/><circle cx="422.3" cy="115.2" r="2.4" fill="none" stroke="#414287" stroke-width="0.6"/><path d="M398.9 74.8l3.0 4.9h-6.0z" fill="none" stroke="#1fa088" stroke-width="0.65"/><path d="M534.2 113.1l3.0 4.9h-6.0z" fill="none" stroke="#472c7a" stroke-width="0.65"/><path d="M394.2 77.3l3.0 4.9h-6.0z" fill="none" stroke="#1fa088" stroke-width="0.65"/><path d="M434.4 88.1l3.0 4.9h-6.0z" fill="none" stroke="#2a788e" stroke-width="0.65"/><circle cx="410.0" cy="102.7" r="2.4" fill="none" stroke="#48186a" stroke-width="0.6"/><circle cx="421.0" cy="100.4" r="2.4" fill="none" stroke="#2e6e8e" stroke-width="0.6"/><path d="M492.9 127.6l3.0 4.9h-6.0z" fill="none" stroke="#3d4e8a" stroke-width="0.65"/><circle cx="415.1" cy="88.7" r="2.4" fill="none" stroke="#472f7d" stroke-width="0.6"/><circle cx="419.8" cy="95.7" r="2.4" fill="none" stroke="#414287" stroke-width="0.6"/><path d="M474.1 119.6l3.0 4.9h-6.0z" fill="none" stroke="#3e4c8a" stroke-width="0.65"/><path d="M406.9 84.3l3.0 4.9h-6.0z" fill="none" stroke="#238a8d" stroke-width="0.65"/><circle cx="427.6" cy="115.0" r="2.4" fill="none" stroke="#34608d" stroke-width="0.6"/><circle cx="419.3" cy="74.3" r="2.4" fill="none" stroke="#482475" stroke-width="0.6"/><path d="M397.6 84.8l3.0 4.9h-6.0z" fill="none" stroke="#24878e" stroke-width="0.65"/><path d="M496.2 119.7l3.0 4.9h-6.0z" fill="none" stroke="#3f4889" stroke-width="0.65"/><circle cx="415.9" cy="97.0" r="2.4" fill="none" stroke="#481a6c" stroke-width="0.6"/><path d="M458.2 105.4l3.0 4.9h-6.0z" fill="none" stroke="#355f8d" stroke-width="0.65"/><path d="M397.4 71.8l3.0 4.9h-6.0z" fill="none" stroke="#25858e" stroke-width="0.65"/><path d="M537.5 162.3l3.0 4.9h-6.0z" fill="none" stroke="#481f70" stroke-width="0.65"/><path d="M438.0 97.0l3.0 4.9h-6.0z" fill="none" stroke="#2a788e" stroke-width="0.65"/><path d="M497.4 118.4l3.0 4.9h-6.0z" fill="none" stroke="#3d4d8a" stroke-width="0.65"/><path d="M395.7 86.1l3.0 4.9h-6.0z" fill="none" stroke="#26818e" stroke-width="0.65"/><path d="M402.1 81.3l3.0 4.9h-6.0z" fill="none" stroke="#23898e" stroke-width="0.65"/><circle cx="415.4" cy="80.8" r="2.4" fill="none" stroke="#443b84" stroke-width="0.6"/><circle cx="427.5" cy="106.5" r="2.4" fill="none" stroke="#440256" stroke-width="0.6"/><path d="M493.9 113.3l3.0 4.9h-6.0z" fill="none" stroke="#424186" stroke-width="0.65"/><circle cx="421.4" cy="84.9" r="2.4" fill="none" stroke="#306a8e" stroke-width="0.6"/><circle cx="421.8" cy="128.9" r="2.4" fill="none" stroke="#470e61" stroke-width="0.6"/><path d="M551.7 139.1l3.0 4.9h-6.0z" fill="none" stroke="#481668" stroke-width="0.65"/><path d="M402.8 95.6l3.0 4.9h-6.0z" fill="none" stroke="#26828e" stroke-width="0.65"/><circle cx="422.3" cy="89.4" r="2.4" fill="none" stroke="#365d8d" stroke-width="0.6"/><path d="M398.5 76.6l3.0 4.9h-6.0z" fill="none" stroke="#1f9f88" stroke-width="0.65"/><path d="M405.0 95.1l3.0 4.9h-6.0z" fill="none" stroke="#287d8e" stroke-width="0.65"/><path d="M490.1 105.4l3.0 4.9h-6.0z" fill="none" stroke="#3d4e8a" stroke-width="0.65"/><path d="M521.0 118.4l3.0 4.9h-6.0z" fill="none" stroke="#472f7d" stroke-width="0.65"/><path d="M563.7 156.7l3.0 4.9h-6.0z" fill="none" stroke="#482475" stroke-width="0.65"/><path d="M468.0 111.4l3.0 4.9h-6.0z" fill="none" stroke="#355e8d" stroke-width="0.65"/><path d="M391.5 84.5l3.0 4.9h-6.0z" fill="none" stroke="#23898e" stroke-width="0.65"/><path d="M525.9 110.0l3.0 4.9h-6.0z" fill="none" stroke="#443b84" stroke-width="0.65"/><circle cx="421.0" cy="98.0" r="2.4" fill="none" stroke="#433e85" stroke-width="0.6"/><circle cx="418.0" cy="97.1" r="2.4" fill="none" stroke="#355e8d" stroke-width="0.6"/><circle cx="424.8" cy="92.9" r="2.4" fill="none" stroke="#2e6d8e" stroke-width="0.6"/><circle cx="417.7" cy="93.1" r="2.4" fill="none" stroke="#34608d" stroke-width="0.6"/><circle cx="415.1" cy="92.9" r="2.4" fill="none" stroke="#482071" stroke-width="0.6"/><circle cx="425.6" cy="99.4" r="2.4" fill="none" stroke="#482173" stroke-width="0.6"/><path d="M558.7 136.1l3.0 4.9h-6.0z" fill="none" stroke="#481769" stroke-width="0.65"/><path d="M522.8 125.0l3.0 4.9h-6.0z" fill="none" stroke="#472a7a" stroke-width="0.65"/><circle cx="425.4" cy="94.9" r="2.4" fill="none" stroke="#450457" stroke-width="0.6"/><path d="M487.4 116.0l3.0 4.9h-6.0z" fill="none" stroke="#3f4788" stroke-width="0.65"/><path d="M397.0 84.0l3.0 4.9h-6.0z" fill="none" stroke="#218e8d" stroke-width="0.65"/><circle cx="419.3" cy="95.9" r="2.4" fill="none" stroke="#470d60" stroke-width="0.6"/><circle cx="418.6" cy="103.1" r="2.4" fill="none" stroke="#472d7b" stroke-width="0.6"/><circle cx="424.3" cy="93.4" r="2.4" fill="none" stroke="#46337f" stroke-width="0.6"/><path d="M396.3 92.7l3.0 4.9h-6.0z" fill="none" stroke="#277f8e" stroke-width="0.65"/><path d="M401.4 88.9l3.0 4.9h-6.0z" fill="none" stroke="#20928c" stroke-width="0.65"/><path d="M493.9 120.6l3.0 4.9h-6.0z" fill="none" stroke="#3c4f8a" stroke-width="0.65"/><circle cx="417.2" cy="86.2" r="2.4" fill="none" stroke="#3c4f8a" stroke-width="0.6"/><circle cx="425.4" cy="66.8" r="2.4" fill="none" stroke="#481b6d" stroke-width="0.6"/><circle cx="424.4" cy="94.0" r="2.4" fill="none" stroke="#481769" stroke-width="0.6"/><circle cx="398.9" cy="73.3" r="2.4" fill="none" stroke="#1f978b" stroke-width="0.6"/><circle cx="418.6" cy="102.7" r="2.4" fill="none" stroke="#443a83" stroke-width="0.6"/><path d="M490.9 107.7l3.0 4.9h-6.0z" fill="none" stroke="#404688" stroke-width="0.65"/><circle cx="424.4" cy="105.5" r="2.4" fill="none" stroke="#3f4788" stroke-width="0.6"/><circle cx="419.6" cy="106.1" r="2.4" fill="none" stroke="#472e7c" stroke-width="0.6"/><circle cx="424.7" cy="77.9" r="2.4" fill="none" stroke="#482374" stroke-width="0.6"/><circle cx="403.4" cy="82.7" r="2.4" fill="none" stroke="#1f978b" stroke-width="0.6"/><path d="M481.1 121.7l3.0 4.9h-6.0z" fill="none" stroke="#3e4a89" stroke-width="0.65"/><path d="M509.0 126.0l3.0 4.9h-6.0z" fill="none" stroke="#453882" stroke-width="0.65"/><circle cx="421.6" cy="83.4" r="2.4" fill="none" stroke="#31678e" stroke-width="0.6"/><path d="M564.1 149.0l3.0 4.9h-6.0z" fill="none" stroke="#440154" stroke-width="0.65"/><path d="M445.2 101.5l3.0 4.9h-6.0z" fill="none" stroke="#30698e" stroke-width="0.65"/><circle cx="419.5" cy="96.1" r="2.4" fill="none" stroke="#470e61" stroke-width="0.6"/><circle cx="413.0" cy="92.4" r="2.4" fill="none" stroke="#3b528b" stroke-width="0.6"/><path d="M557.6 121.0l3.0 4.9h-6.0z" fill="none" stroke="#471365" stroke-width="0.65"/><circle cx="417.7" cy="116.8" r="2.4" fill="none" stroke="#482677" stroke-width="0.6"/><circle cx="424.6" cy="83.6" r="2.4" fill="none" stroke="#482071" stroke-width="0.6"/><circle cx="425.0" cy="106.8" r="2.4" fill="none" stroke="#481c6e" stroke-width="0.6"/><circle cx="426.6" cy="102.6" r="2.4" fill="none" stroke="#2f6b8e" stroke-width="0.6"/><path d="M408.0 76.8l3.0 4.9h-6.0z" fill="none" stroke="#238a8d" stroke-width="0.65"/><path d="M434.0 84.1l3.0 4.9h-6.0z" fill="none" stroke="#2c738e" stroke-width="0.65"/><path d="M482.0 110.7l3.0 4.9h-6.0z" fill="none" stroke="#355e8d" stroke-width="0.65"/><path d="M399.6 80.5l3.0 4.9h-6.0z" fill="none" stroke="#25858e" stroke-width="0.65"/><path d="M429.5 89.3l3.0 4.9h-6.0z" fill="none" stroke="#2c738e" stroke-width="0.65"/><path d="M523.7 136.1l3.0 4.9h-6.0z" fill="none" stroke="#482979" stroke-width="0.65"/><circle cx="423.1" cy="104.3" r="2.4" fill="none" stroke="#414487" stroke-width="0.6"/><path d="M438.7 84.1l3.0 4.9h-6.0z" fill="none" stroke="#2d708e" stroke-width="0.65"/><circle cx="404.2" cy="75.4" r="2.4" fill="none" stroke="#1e9c89" stroke-width="0.6"/><path d="M510.4 123.8l3.0 4.9h-6.0z" fill="none" stroke="#472d7b" stroke-width="0.65"/><circle cx="421.5" cy="79.0" r="2.4" fill="none" stroke="#470e61" stroke-width="0.6"/><path d="M548.7 132.1l3.0 4.9h-6.0z" fill="none" stroke="#482878" stroke-width="0.65"/><circle cx="419.8" cy="102.2" r="2.4" fill="none" stroke="#482475" stroke-width="0.6"/><path d="M435.9 86.4l3.0 4.9h-6.0z" fill="none" stroke="#297a8e" stroke-width="0.65"/><circle cx="417.9" cy="105.4" r="2.4" fill="none" stroke="#482677" stroke-width="0.6"/><circle cx="415.8" cy="93.7" r="2.4" fill="none" stroke="#481b6d" stroke-width="0.6"/><path d="M568.1 160.2l3.0 4.9h-6.0z" fill="none" stroke="#471365" stroke-width="0.65"/><path d="M502.4 115.7l3.0 4.9h-6.0z" fill="none" stroke="#472f7d" stroke-width="0.65"/><path d="M435.1 90.3l3.0 4.9h-6.0z" fill="none" stroke="#2b758e" stroke-width="0.65"/><circle cx="424.1" cy="100.4" r="2.4" fill="none" stroke="#2f6c8e" stroke-width="0.6"/><path d="M511.6 129.1l3.0 4.9h-6.0z" fill="none" stroke="#443983" stroke-width="0.65"/><circle cx="418.7" cy="115.7" r="2.4" fill="none" stroke="#481c6e" stroke-width="0.6"/><circle cx="423.5" cy="81.2" r="2.4" fill="none" stroke="#472c7a" stroke-width="0.6"/><circle cx="415.5" cy="82.6" r="2.4" fill="none" stroke="#2e6d8e" stroke-width="0.6"/><path d="M565.0 171.8l3.0 4.9h-6.0z" fill="none" stroke="#481668" stroke-width="0.65"/><circle cx="418.5" cy="73.3" r="2.4" fill="none" stroke="#2e6e8e" stroke-width="0.6"/><circle cx="425.8" cy="101.9" r="2.4" fill="none" stroke="#46075a" stroke-width="0.6"/><circle cx="424.5" cy="94.6" r="2.4" fill="none" stroke="#472e7c" stroke-width="0.6"/><circle cx="419.6" cy="94.0" r="2.4" fill="none" stroke="#482677" stroke-width="0.6"/><path d="M399.5 76.9l3.0 4.9h-6.0z" fill="none" stroke="#24868e" stroke-width="0.65"/><path d="M447.5 91.4l3.0 4.9h-6.0z" fill="none" stroke="#2d708e" stroke-width="0.65"/><path d="M475.5 96.2l3.0 4.9h-6.0z" fill="none" stroke="#34608d" stroke-width="0.65"/><circle cx="426.3" cy="114.1" r="2.4" fill="none" stroke="#423f85" stroke-width="0.6"/><circle cx="419.9" cy="88.7" r="2.4" fill="none" stroke="#470d60" stroke-width="0.6"/><circle cx="422.8" cy="76.2" r="2.4" fill="none" stroke="#3b528b" stroke-width="0.6"/><path d="M480.0 101.4l3.0 4.9h-6.0z" fill="none" stroke="#3a548c" stroke-width="0.65"/><path d="M546.0 127.2l3.0 4.9h-6.0z" fill="none" stroke="#471365" stroke-width="0.65"/><circle cx="419.4" cy="92.8" r="2.4" fill="none" stroke="#481467" stroke-width="0.6"/><circle cx="426.6" cy="87.1" r="2.4" fill="none" stroke="#3e4989" stroke-width="0.6"/><circle cx="419.2" cy="89.6" r="2.4" fill="none" stroke="#443b84" stroke-width="0.6"/><path d="M447.1 100.8l3.0 4.9h-6.0z" fill="none" stroke="#2e6d8e" stroke-width="0.65"/><path d="M407.2 84.7l3.0 4.9h-6.0z" fill="none" stroke="#20928c" stroke-width="0.65"/><path d="M397.6 75.0l3.0 4.9h-6.0z" fill="none" stroke="#297a8e" stroke-width="0.65"/><circle cx="420.0" cy="88.4" r="2.4" fill="none" stroke="#471164" stroke-width="0.6"/><path d="M402.1 78.2l3.0 4.9h-6.0z" fill="none" stroke="#277e8e" stroke-width="0.65"/><circle cx="422.9" cy="93.1" r="2.4" fill="none" stroke="#481668" stroke-width="0.6"/><path d="M555.0 127.8l3.0 4.9h-6.0z" fill="none" stroke="#46075a" stroke-width="0.65"/><circle cx="416.5" cy="86.4" r="2.4" fill="none" stroke="#481769" stroke-width="0.6"/><path d="M552.0 146.4l3.0 4.9h-6.0z" fill="none" stroke="#481668" stroke-width="0.65"/><path d="M559.0 165.3l3.0 4.9h-6.0z" fill="none" stroke="#482374" stroke-width="0.65"/><circle cx="417.7" cy="110.8" r="2.4" fill="none" stroke="#46075a" stroke-width="0.6"/><path d="M570.6 137.4l3.0 4.9h-6.0z" fill="none" stroke="#481668" stroke-width="0.65"/><path d="M528.5 132.7l3.0 4.9h-6.0z" fill="none" stroke="#482576" stroke-width="0.65"/><circle cx="425.8" cy="104.0" r="2.4" fill="none" stroke="#39558c" stroke-width="0.6"/><circle cx="420.9" cy="101.6" r="2.4" fill="none" stroke="#450559" stroke-width="0.6"/><path d="M459.7 107.5l3.0 4.9h-6.0z" fill="none" stroke="#33628d" stroke-width="0.65"/><circle cx="421.6" cy="102.5" r="2.4" fill="none" stroke="#482071" stroke-width="0.6"/><circle cx="423.0" cy="99.9" r="2.4" fill="none" stroke="#3e4989" stroke-width="0.6"/><circle cx="419.2" cy="93.1" r="2.4" fill="none" stroke="#33638d" stroke-width="0.6"/><circle cx="416.6" cy="107.4" r="2.4" fill="none" stroke="#46307e" stroke-width="0.6"/><circle cx="417.6" cy="90.5" r="2.4" fill="none" stroke="#481b6d" stroke-width="0.6"/><circle cx="417.4" cy="87.2" r="2.4" fill="none" stroke="#481d6f" stroke-width="0.6"/><path d="M484.2 118.7l3.0 4.9h-6.0z" fill="none" stroke="#3a548c" stroke-width="0.65"/><path d="M450.6 88.7l3.0 4.9h-6.0z" fill="none" stroke="#32648e" stroke-width="0.65"/><circle cx="421.9" cy="88.8" r="2.4" fill="none" stroke="#3c4f8a" stroke-width="0.6"/><path d="M402.9 78.2l3.0 4.9h-6.0z" fill="none" stroke="#287d8e" stroke-width="0.65"/><path d="M546.8 142.0l3.0 4.9h-6.0z" fill="none" stroke="#471164" stroke-width="0.65"/><circle cx="421.8" cy="92.0" r="2.4" fill="none" stroke="#39568c" stroke-width="0.6"/><circle cx="422.5" cy="98.6" r="2.4" fill="none" stroke="#404588" stroke-width="0.6"/><circle cx="423.7" cy="99.9" r="2.4" fill="none" stroke="#471063" stroke-width="0.6"/><circle cx="421.4" cy="111.1" r="2.4" fill="none" stroke="#481668" stroke-width="0.6"/><path d="M397.2 93.5l3.0 4.9h-6.0z" fill="none" stroke="#218f8d" stroke-width="0.65"/><path d="M395.8 87.7l3.0 4.9h-6.0z" fill="none" stroke="#218e8d" stroke-width="0.65"/><circle cx="421.5" cy="90.5" r="2.4" fill="none" stroke="#46085c" stroke-width="0.6"/><path d="M547.8 128.1l3.0 4.9h-6.0z" fill="none" stroke="#481b6d" stroke-width="0.65"/><path d="M498.2 104.6l3.0 4.9h-6.0z" fill="none" stroke="#424086" stroke-width="0.65"/><circle cx="431.0" cy="117.8" r="2.4" fill="none" stroke="#443983" stroke-width="0.6"/><circle cx="420.0" cy="105.0" r="2.4" fill="none" stroke="#460a5d" stroke-width="0.6"/><path d="M534.7 123.9l3.0 4.9h-6.0z" fill="none" stroke="#482677" stroke-width="0.65"/><path d="M552.7 147.6l3.0 4.9h-6.0z" fill="none" stroke="#46085c" stroke-width="0.65"/><circle cx="425.0" cy="101.3" r="2.4" fill="none" stroke="#482071" stroke-width="0.6"/><circle cx="427.6" cy="114.5" r="2.4" fill="none" stroke="#443983" stroke-width="0.6"/><circle cx="421.1" cy="78.6" r="2.4" fill="none" stroke="#31668e" stroke-width="0.6"/><path d="M404.8 79.7l3.0 4.9h-6.0z" fill="none" stroke="#297a8e" stroke-width="0.65"/><circle cx="414.0" cy="84.9" r="2.4" fill="none" stroke="#39558c" stroke-width="0.6"/><circle cx="417.1" cy="97.5" r="2.4" fill="none" stroke="#450457" stroke-width="0.6"/><circle cx="419.5" cy="84.6" r="2.4" fill="none" stroke="#433e85" stroke-width="0.6"/><path d="M480.6 101.8l3.0 4.9h-6.0z" fill="none" stroke="#38598c" stroke-width="0.65"/><circle cx="419.4" cy="98.1" r="2.4" fill="none" stroke="#472d7b" stroke-width="0.6"/><path d="M448.6 98.2l3.0 4.9h-6.0z" fill="none" stroke="#2e6d8e" stroke-width="0.65"/><path d="M523.0 137.6l3.0 4.9h-6.0z" fill="none" stroke="#472e7c" stroke-width="0.65"/><path d="M460.1 110.3l3.0 4.9h-6.0z" fill="none" stroke="#33638d" stroke-width="0.65"/><path d="M562.0 173.8l3.0 4.9h-6.0z" fill="none" stroke="#46085c" stroke-width="0.65"/><circle cx="418.4" cy="97.4" r="2.4" fill="none" stroke="#3b528b" stroke-width="0.6"/><path d="M452.1 100.1l3.0 4.9h-6.0z" fill="none" stroke="#355f8d" stroke-width="0.65"/><circle cx="416.7" cy="104.5" r="2.4" fill="none" stroke="#424186" stroke-width="0.6"/><path d="M493.1 96.2l3.0 4.9h-6.0z" fill="none" stroke="#433e85" stroke-width="0.65"/><circle cx="419.8" cy="94.2" r="2.4" fill="none" stroke="#481c6e" stroke-width="0.6"/><path d="M398.0 82.2l3.0 4.9h-6.0z" fill="none" stroke="#20928c" stroke-width="0.65"/><path d="M393.9 93.0l3.0 4.9h-6.0z" fill="none" stroke="#25838e" stroke-width="0.65"/><path d="M391.7 86.7l3.0 4.9h-6.0z" fill="none" stroke="#26828e" stroke-width="0.65"/><circle cx="421.0" cy="115.9" r="2.4" fill="none" stroke="#482576" stroke-width="0.6"/><circle cx="414.8" cy="104.8" r="2.4" fill="none" stroke="#3f4889" stroke-width="0.6"/><path d="M564.7 139.9l3.0 4.9h-6.0z" fill="none" stroke="#471063" stroke-width="0.65"/><path d="M440.1 104.1l3.0 4.9h-6.0z" fill="none" stroke="#30698e" stroke-width="0.65"/><circle cx="421.1" cy="107.2" r="2.4" fill="none" stroke="#482979" stroke-width="0.6"/><path d="M553.8 152.8l3.0 4.9h-6.0z" fill="none" stroke="#471063" stroke-width="0.65"/><path d="M464.7 121.0l3.0 4.9h-6.0z" fill="none" stroke="#355f8d" stroke-width="0.65"/><circle cx="420.5" cy="94.9" r="2.4" fill="none" stroke="#472e7c" stroke-width="0.6"/><path d="M405.6 81.3l3.0 4.9h-6.0z" fill="none" stroke="#1e9d89" stroke-width="0.65"/><circle cx="423.3" cy="94.8" r="2.4" fill="none" stroke="#2e6e8e" stroke-width="0.6"/><circle cx="419.7" cy="92.0" r="2.4" fill="none" stroke="#482677" stroke-width="0.6"/><path d="M509.6 128.8l3.0 4.9h-6.0z" fill="none" stroke="#3d4d8a" stroke-width="0.65"/><circle cx="422.8" cy="84.1" r="2.4" fill="none" stroke="#453581" stroke-width="0.6"/><path d="M502.8 117.6l3.0 4.9h-6.0z" fill="none" stroke="#404688" stroke-width="0.65"/><path d="M502.3 133.1l3.0 4.9h-6.0z" fill="none" stroke="#433e85" stroke-width="0.65"/><circle cx="425.6" cy="93.5" r="2.4" fill="none" stroke="#481a6c" stroke-width="0.6"/><circle cx="396.1" cy="78.1" r="2.4" fill="none" stroke="#1f998a" stroke-width="0.6"/><path d="M397.6 74.4l3.0 4.9h-6.0z" fill="none" stroke="#26828e" stroke-width="0.65"/><path d="M537.9 118.5l3.0 4.9h-6.0z" fill="none" stroke="#471063" stroke-width="0.65"/><circle cx="423.6" cy="111.6" r="2.4" fill="none" stroke="#46075a" stroke-width="0.6"/><circle cx="415.2" cy="99.7" r="2.4" fill="none" stroke="#3e4a89" stroke-width="0.6"/><circle cx="423.9" cy="95.0" r="2.4" fill="none" stroke="#443a83" stroke-width="0.6"/><path d="M550.2 136.3l3.0 4.9h-6.0z" fill="none" stroke="#46075a" stroke-width="0.65"/><path d="M507.4 119.7l3.0 4.9h-6.0z" fill="none" stroke="#423f85" stroke-width="0.65"/><circle cx="424.8" cy="118.3" r="2.4" fill="none" stroke="#481668" stroke-width="0.6"/><circle cx="419.9" cy="78.2" r="2.4" fill="none" stroke="#453781" stroke-width="0.6"/><circle cx="419.9" cy="89.9" r="2.4" fill="none" stroke="#482374" stroke-width="0.6"/><circle cx="394.6" cy="87.7" r="2.4" fill="none" stroke="#228c8d" stroke-width="0.6"/><path d="M401.3 73.7l3.0 4.9h-6.0z" fill="none" stroke="#26818e" stroke-width="0.65"/><path d="M502.6 126.8l3.0 4.9h-6.0z" fill="none" stroke="#3e4a89" stroke-width="0.65"/><path d="M401.6 84.5l3.0 4.9h-6.0z" fill="none" stroke="#297b8e" stroke-width="0.65"/><circle cx="418.7" cy="92.8" r="2.4" fill="none" stroke="#46085c" stroke-width="0.6"/><path d="M481.7 118.6l3.0 4.9h-6.0z" fill="none" stroke="#3c508b" stroke-width="0.65"/><path d="M404.8 88.2l3.0 4.9h-6.0z" fill="none" stroke="#20928c" stroke-width="0.65"/><circle cx="420.5" cy="89.3" r="2.4" fill="none" stroke="#3b518b" stroke-width="0.6"/><circle cx="423.8" cy="89.2" r="2.4" fill="none" stroke="#481b6d" stroke-width="0.6"/><path d="M490.6 113.7l3.0 4.9h-6.0z" fill="none" stroke="#3e4c8a" stroke-width="0.65"/><path d="M389.7 90.0l3.0 4.9h-6.0z" fill="none" stroke="#24878e" stroke-width="0.65"/><path d="M462.5 93.1l3.0 4.9h-6.0z" fill="none" stroke="#2c718e" stroke-width="0.65"/><circle cx="420.3" cy="114.1" r="2.4" fill="none" stroke="#481d6f" stroke-width="0.6"/><circle cx="427.0" cy="95.1" r="2.4" fill="none" stroke="#414487" stroke-width="0.6"/><circle cx="425.1" cy="90.3" r="2.4" fill="none" stroke="#471063" stroke-width="0.6"/><path d="M397.2 91.2l3.0 4.9h-6.0z" fill="none" stroke="#1e9d89" stroke-width="0.65"/><path d="M488.4 108.9l3.0 4.9h-6.0z" fill="none" stroke="#3a538b" stroke-width="0.65"/><path d="M404.9 87.3l3.0 4.9h-6.0z" fill="none" stroke="#277e8e" stroke-width="0.65"/><path d="M398.4 82.3l3.0 4.9h-6.0z" fill="none" stroke="#1e9b8a" stroke-width="0.65"/><path d="M519.1 129.4l3.0 4.9h-6.0z" fill="none" stroke="#453882" stroke-width="0.65"/><path d="M456.2 106.7l3.0 4.9h-6.0z" fill="none" stroke="#33628d" stroke-width="0.65"/><path d="M518.5 95.8l3.0 4.9h-6.0z" fill="none" stroke="#472a7a" stroke-width="0.65"/><path d="M517.6 135.0l3.0 4.9h-6.0z" fill="none" stroke="#463480" stroke-width="0.65"/><circle cx="422.3" cy="83.5" r="2.4" fill="none" stroke="#2f6c8e" stroke-width="0.6"/><path d="M482.4 114.2l3.0 4.9h-6.0z" fill="none" stroke="#3f4788" stroke-width="0.65"/><path d="M435.7 89.2l3.0 4.9h-6.0z" fill="none" stroke="#31688e" stroke-width="0.65"/><path d="M540.5 149.8l3.0 4.9h-6.0z" fill="none" stroke="#472e7c" stroke-width="0.65"/><circle cx="422.6" cy="116.9" r="2.4" fill="none" stroke="#440256" stroke-width="0.6"/><path d="M398.7 68.7l3.0 4.9h-6.0z" fill="none" stroke="#1f988b" stroke-width="0.65"/><path d="M396.3 88.1l3.0 4.9h-6.0z" fill="none" stroke="#1f9f88" stroke-width="0.65"/><circle cx="428.1" cy="104.0" r="2.4" fill="none" stroke="#471365" stroke-width="0.6"/><path d="M401.1 84.9l3.0 4.9h-6.0z" fill="none" stroke="#1e9c89" stroke-width="0.65"/><circle cx="418.8" cy="92.1" r="2.4" fill="none" stroke="#482475" stroke-width="0.6"/><path d="M541.5 144.8l3.0 4.9h-6.0z" fill="none" stroke="#482878" stroke-width="0.65"/><circle cx="424.8" cy="101.2" r="2.4" fill="none" stroke="#38598c" stroke-width="0.6"/><path d="M497.7 107.1l3.0 4.9h-6.0z" fill="none" stroke="#433e85" stroke-width="0.65"/><circle cx="418.6" cy="79.8" r="2.4" fill="none" stroke="#450457" stroke-width="0.6"/><circle cx="393.7" cy="81.4" r="2.4" fill="none" stroke="#21918c" stroke-width="0.6"/><circle cx="420.1" cy="90.2" r="2.4" fill="none" stroke="#482979" stroke-width="0.6"/><circle cx="422.8" cy="96.2" r="2.4" fill="none" stroke="#440154" stroke-width="0.6"/><path d="M550.0 128.4l3.0 4.9h-6.0z" fill="none" stroke="#481769" stroke-width="0.65"/><circle cx="422.8" cy="112.5" r="2.4" fill="none" stroke="#460b5e" stroke-width="0.6"/><path d="M520.0 127.1l3.0 4.9h-6.0z" fill="none" stroke="#453882" stroke-width="0.65"/><circle cx="413.7" cy="83.7" r="2.4" fill="none" stroke="#481f70" stroke-width="0.6"/><circle cx="426.9" cy="88.2" r="2.4" fill="none" stroke="#482173" stroke-width="0.6"/><circle cx="422.1" cy="114.0" r="2.4" fill="none" stroke="#3d4d8a" stroke-width="0.6"/><path d="M471.1 106.4l3.0 4.9h-6.0z" fill="none" stroke="#39558c" stroke-width="0.65"/><circle cx="413.2" cy="108.4" r="2.4" fill="none" stroke="#2e6d8e" stroke-width="0.6"/><circle cx="420.8" cy="93.7" r="2.4" fill="none" stroke="#453781" stroke-width="0.6"/><circle cx="390.6" cy="80.7" r="2.4" fill="none" stroke="#1f9a8a" stroke-width="0.6"/><circle cx="420.3" cy="91.0" r="2.4" fill="none" stroke="#481668" stroke-width="0.6"/><path d="M507.7 122.1l3.0 4.9h-6.0z" fill="none" stroke="#472f7d" stroke-width="0.65"/><path d="M576.3 140.0l3.0 4.9h-6.0z" fill="none" stroke="#440154" stroke-width="0.65"/><circle cx="423.9" cy="87.6" r="2.4" fill="none" stroke="#3a538b" stroke-width="0.6"/><path d="M434.5 102.9l3.0 4.9h-6.0z" fill="none" stroke="#2a768e" stroke-width="0.65"/><path d="M399.1 85.1l3.0 4.9h-6.0z" fill="none" stroke="#29798e" stroke-width="0.65"/><circle cx="419.1" cy="96.7" r="2.4" fill="none" stroke="#443b84" stroke-width="0.6"/><path d="M402.1 82.7l3.0 4.9h-6.0z" fill="none" stroke="#1e9d89" stroke-width="0.65"/><path d="M500.0 124.4l3.0 4.9h-6.0z" fill="none" stroke="#433e85" stroke-width="0.65"/><circle cx="422.3" cy="81.1" r="2.4" fill="none" stroke="#3e4c8a" stroke-width="0.6"/><circle cx="418.1" cy="96.9" r="2.4" fill="none" stroke="#46327e" stroke-width="0.6"/><path d="M473.2 91.8l3.0 4.9h-6.0z" fill="none" stroke="#34618d" stroke-width="0.65"/><circle cx="417.0" cy="98.9" r="2.4" fill="none" stroke="#482677" stroke-width="0.6"/><circle cx="414.1" cy="85.8" r="2.4" fill="none" stroke="#33638d" stroke-width="0.6"/><circle cx="421.6" cy="81.0" r="2.4" fill="none" stroke="#481467" stroke-width="0.6"/><path d="M499.4 108.2l3.0 4.9h-6.0z" fill="none" stroke="#404688" stroke-width="0.65"/><path d="M451.8 101.6l3.0 4.9h-6.0z" fill="none" stroke="#33628d" stroke-width="0.65"/><path d="M430.5 84.8l3.0 4.9h-6.0z" fill="none" stroke="#2c718e" stroke-width="0.65"/><circle cx="416.1" cy="108.1" r="2.4" fill="none" stroke="#440154" stroke-width="0.6"/><circle cx="427.7" cy="80.5" r="2.4" fill="none" stroke="#38588c" stroke-width="0.6"/><circle cx="416.2" cy="92.4" r="2.4" fill="none" stroke="#414287" stroke-width="0.6"/><circle cx="420.6" cy="103.6" r="2.4" fill="none" stroke="#482677" stroke-width="0.6"/><circle cx="427.3" cy="79.3" r="2.4" fill="none" stroke="#3e4a89" stroke-width="0.6"/><path d="M527.5 138.2l3.0 4.9h-6.0z" fill="none" stroke="#472a7a" stroke-width="0.65"/><circle cx="421.0" cy="112.7" r="2.4" fill="none" stroke="#3a538b" stroke-width="0.6"/><path d="M394.6 83.7l3.0 4.9h-6.0z" fill="none" stroke="#1f9e89" stroke-width="0.65"/><circle cx="419.4" cy="91.6" r="2.4" fill="none" stroke="#481f70" stroke-width="0.6"/><circle cx="416.9" cy="114.9" r="2.4" fill="none" stroke="#34608d" stroke-width="0.6"/><circle cx="425.2" cy="92.4" r="2.4" fill="none" stroke="#481a6c" stroke-width="0.6"/><path d="M547.3 148.0l3.0 4.9h-6.0z" fill="none" stroke="#481769" stroke-width="0.65"/><path d="M561.2 153.7l3.0 4.9h-6.0z" fill="none" stroke="#450457" stroke-width="0.65"/><circle cx="423.0" cy="98.4" r="2.4" fill="none" stroke="#443b84" stroke-width="0.6"/><path d="M397.4 83.7l3.0 4.9h-6.0z" fill="none" stroke="#25848e" stroke-width="0.65"/><path d="M413.3 89.7l3.0 4.9h-6.0z" fill="none" stroke="#20938c" stroke-width="0.65"/><path d="M516.3 117.4l3.0 4.9h-6.0z" fill="none" stroke="#443983" stroke-width="0.65"/><circle cx="414.4" cy="98.8" r="2.4" fill="none" stroke="#482173" stroke-width="0.6"/><path d="M464.2 107.7l3.0 4.9h-6.0z" fill="none" stroke="#375a8c" stroke-width="0.65"/><circle cx="419.0" cy="98.2" r="2.4" fill="none" stroke="#482979" stroke-width="0.6"/><circle cx="426.1" cy="120.4" r="2.4" fill="none" stroke="#460a5d" stroke-width="0.6"/><circle cx="425.3" cy="87.3" r="2.4" fill="none" stroke="#482374" stroke-width="0.6"/><circle cx="427.5" cy="113.4" r="2.4" fill="none" stroke="#471164" stroke-width="0.6"/><circle cx="420.8" cy="80.8" r="2.4" fill="none" stroke="#46085c" stroke-width="0.6"/><path d="M454.1 100.8l3.0 4.9h-6.0z" fill="none" stroke="#34608d" stroke-width="0.65"/><circle cx="423.6" cy="93.1" r="2.4" fill="none" stroke="#3b518b" stroke-width="0.6"/><path d="M523.1 127.3l3.0 4.9h-6.0z" fill="none" stroke="#481d6f" stroke-width="0.65"/><path d="M457.4 110.6l3.0 4.9h-6.0z" fill="none" stroke="#365c8d" stroke-width="0.65"/><path d="M479.4 116.3l3.0 4.9h-6.0z" fill="none" stroke="#3b518b" stroke-width="0.65"/><path d="M407.0 95.3l3.0 4.9h-6.0z" fill="none" stroke="#1e9d89" stroke-width="0.65"/><circle cx="426.6" cy="78.4" r="2.4" fill="none" stroke="#472d7b" stroke-width="0.6"/><path d="M538.2 127.1l3.0 4.9h-6.0z" fill="none" stroke="#463480" stroke-width="0.65"/><path d="M390.6 80.4l3.0 4.9h-6.0z" fill="none" stroke="#1f9a8a" stroke-width="0.65"/><path d="M435.4 84.5l3.0 4.9h-6.0z" fill="none" stroke="#26818e" stroke-width="0.65"/><path d="M461.5 99.4l3.0 4.9h-6.0z" fill="none" stroke="#365d8d" stroke-width="0.65"/><path d="M411.2 70.2l3.0 4.9h-6.0z" fill="none" stroke="#24878e" stroke-width="0.65"/><circle cx="426.4" cy="72.1" r="2.4" fill="none" stroke="#440154" stroke-width="0.6"/><circle cx="422.5" cy="98.8" r="2.4" fill="none" stroke="#471365" stroke-width="0.6"/><circle cx="427.7" cy="123.7" r="2.4" fill="none" stroke="#3d4e8a" stroke-width="0.6"/><circle cx="415.6" cy="102.6" r="2.4" fill="none" stroke="#46337f" stroke-width="0.6"/><path d="M401.0 84.6l3.0 4.9h-6.0z" fill="none" stroke="#25858e" stroke-width="0.65"/><circle cx="417.2" cy="101.7" r="2.4" fill="none" stroke="#482475" stroke-width="0.6"/><circle cx="395.1" cy="76.7" r="2.4" fill="none" stroke="#1f948c" stroke-width="0.6"/><path d="M394.8 98.2l3.0 4.9h-6.0z" fill="none" stroke="#23888e" stroke-width="0.65"/><circle cx="417.4" cy="82.0" r="2.4" fill="none" stroke="#463480" stroke-width="0.6"/><path d="M401.6 89.7l3.0 4.9h-6.0z" fill="none" stroke="#1e9d89" stroke-width="0.65"/><path d="M444.7 88.5l3.0 4.9h-6.0z" fill="none" stroke="#29798e" stroke-width="0.65"/><circle cx="422.4" cy="99.1" r="2.4" fill="none" stroke="#423f85" stroke-width="0.6"/><path d="M436.2 99.0l3.0 4.9h-6.0z" fill="none" stroke="#26818e" stroke-width="0.65"/><path d="M513.1 106.0l3.0 4.9h-6.0z" fill="none" stroke="#453581" stroke-width="0.65"/><path d="M475.0 113.1l3.0 4.9h-6.0z" fill="none" stroke="#3b528b" stroke-width="0.65"/><path d="M410.3 89.3l3.0 4.9h-6.0z" fill="none" stroke="#20938c" stroke-width="0.65"/><circle cx="417.5" cy="98.6" r="2.4" fill="none" stroke="#482173" stroke-width="0.6"/><path d="M396.4 80.4l3.0 4.9h-6.0z" fill="none" stroke="#287c8e" stroke-width="0.65"/><path d="M484.7 106.2l3.0 4.9h-6.0z" fill="none" stroke="#31678e" stroke-width="0.65"/><circle cx="420.5" cy="85.5" r="2.4" fill="none" stroke="#414487" stroke-width="0.6"/><circle cx="422.4" cy="117.4" r="2.4" fill="none" stroke="#482576" stroke-width="0.6"/><path d="M508.9 114.0l3.0 4.9h-6.0z" fill="none" stroke="#472f7d" stroke-width="0.65"/><circle cx="421.2" cy="113.6" r="2.4" fill="none" stroke="#471365" stroke-width="0.6"/><circle cx="419.4" cy="101.2" r="2.4" fill="none" stroke="#48186a" stroke-width="0.6"/><path d="M533.6 140.2l3.0 4.9h-6.0z" fill="none" stroke="#482071" stroke-width="0.65"/><circle cx="422.2" cy="114.2" r="2.4" fill="none" stroke="#32648e" stroke-width="0.6"/><line x1="346" y1="71" x2="570.2" y2="224.7" stroke="#d4cf3a" stroke-width="2.6" stroke-dasharray="7.6 8.6"/><line x1="346" y1="65.5" x2="570.7" y2="155.9" stroke="#7b2ff7" stroke-width="2.6"/></g><rect x="334.5" y="32.4" width="247.5" height="203.4" fill="none" stroke="#8c8c8c" stroke-width="1.1"/><line x1="362.9" y1="235.8" x2="362.9" y2="238.6" stroke="#555" stroke-width="0.9"/><text x="362.9" y="247.4" class="tk" text-anchor="middle">0</text><line x1="431.9" y1="235.8" x2="431.9" y2="238.6" stroke="#555" stroke-width="0.9"/><text x="431.9" y="247.4" class="tk" text-anchor="middle">2</text><line x1="500.9" y1="235.8" x2="500.9" y2="238.6" stroke="#555" stroke-width="0.9"/><text x="500.9" y="247.4" class="tk" text-anchor="middle">4</text><line x1="569.9" y1="235.8" x2="569.9" y2="238.6" stroke="#555" stroke-width="0.9"/><text x="569.9" y="247.4" class="tk" text-anchor="middle">6</text><line x1="331.7" y1="70.0" x2="334.5" y2="70.0" stroke="#555" stroke-width="0.9"/><text x="330.3" y="73.3" class="tk" text-anchor="end">0</text><line x1="331.7" y1="126.8" x2="334.5" y2="126.8" stroke="#555" stroke-width="0.9"/><text x="330.3" y="130.1" class="tk" text-anchor="end">-10</text><line x1="331.7" y1="183.6" x2="334.5" y2="183.6" stroke="#555" stroke-width="0.9"/><text x="330.3" y="186.9" class="tk" text-anchor="end">-20</text><circle cx="486.4" cy="66.7" r="9.2" fill="#eeebbf" stroke="#b0a447" stroke-width="1.1"/><text x="486.4" y="71.2" text-anchor="middle" class="dg" style="font-size:12.5px;fill:#9a8e2c;stroke:#9a8e2c;stroke-width:0.55px">1</text><text x="501.7" y="70.2" text-anchor="middle" style="font-size:9px;fill:#222">+</text><circle cx="517.0" cy="66.7" r="9.2" fill="#f2deef" stroke="#b279aa" stroke-width="1.1"/><text x="517.0" y="71.2" text-anchor="middle" class="dg" style="font-size:12.5px;fill:#8a3d80;stroke:#8a3d80;stroke-width:0.55px">2</text><text x="532.4" y="70.2" text-anchor="middle" style="font-size:9px;fill:#222">+</text><circle cx="548.0" cy="66.7" r="9.2" fill="#e2ecf5" stroke="#6f93b6" stroke-width="1.1"/><text x="548.0" y="71.2" text-anchor="middle" class="dg" style="font-size:12.5px;fill:#355f8a;stroke:#355f8a;stroke-width:0.55px">3</text><rect x="490.4" y="83" width="56.1" height="25" rx="2" fill="#a88af3" stroke="#333" stroke-width="0.8"/><text x="518.5" y="92.4" class="bx" text-anchor="middle">BOATS</text><text x="518.5" y="105.5" class="bx" text-anchor="middle">Slope = -2.5</text><circle cx="421.4" cy="151" r="9.2" fill="#eeebbf" stroke="#b0a447" stroke-width="1.1"/><text x="421.4" y="155.5" text-anchor="middle" class="dg" style="font-size:12.5px;fill:#9a8e2c;stroke:#9a8e2c;stroke-width:0.55px">1</text><rect x="393.2" y="164.2" width="56.7" height="26.6" rx="2" fill="#d2cf3c" stroke="#333" stroke-width="0.8"/><text x="421.5" y="173.9" class="bx" text-anchor="middle">BOATS</text><text x="421.5" y="186.8" class="bx" text-anchor="middle">Slope = -4.2</text><text x="458.5" y="258.7" class="ax" text-anchor="middle">Change in TAS (°C)</text><text transform="translate(309.2,135.1) rotate(-90)" class="ax" text-anchor="middle">Change in C export (%)</text><text x="302.5" y="44" class="pl">b</text><path d="M353.5,213.3 A16.6,16.6 0 0 1 364.7,194.6" fill="none" stroke="#c3bc2c" stroke-width="2.3"/><path d="M376.0,195.0 A16.6,16.6 0 0 1 385.8,214.7" fill="none" stroke="#c3bc2c" stroke-width="2.3"/><path d="M380.5,223.1 A16.6,16.6 0 0 1 357.9,221.9" fill="none" stroke="#c3bc2c" stroke-width="2.3"/><path d="M366.9,193.8 L363.4,192.7 L364.9,196.9 Z" fill="#c3bc2c"/><path d="M385.1,217.6 L388.0,215.3 L383.7,214.1 Z" fill="#c3bc2c"/><path d="M356.1,220.3 L356.7,223.9 L359.8,220.8 Z" fill="#c3bc2c"/><path d="M366.3,201.5 A3.1,3.5 0 1 0 366.3,206.1" fill="none" stroke="#bcb52b" stroke-width="2.3"/><text x="366.6" y="210" style="font-size:7.6px;font-weight:bold;fill:#bcb52b;stroke:#bcb52b;stroke-width:0.35px" textLength="12.3" lengthAdjust="spacingAndGlyphs">exp</text><path d="M362.4,211.5 h2.4 v4.2 h1.8 l-3,3.4 l-3,-3.4 h1.8 z" fill="#c3bc2c" stroke="#333" stroke-width="0.6"/><path d="M368.6,214.0 h2.4 v4.2 h1.8 l-3,3.4 l-3,-3.4 h1.8 z" fill="#c3bc2c" stroke="#333" stroke-width="0.6"/><path d="M374.8,211.5 h2.4 v4.2 h1.8 l-3,3.4 l-3,-3.4 h1.8 z" fill="#c3bc2c" stroke="#333" stroke-width="0.6"/><circle cx="602.9" cy="68.2" r="2.2" fill="#000"/><text x="614.7" y="71.8" class="lg">Historical</text><circle cx="602.9" cy="82.8" r="2.3" fill="none" stroke="#000" stroke-width="0.7"/><text x="614.7" y="86.4" class="lg">SSP 1-2.6</text><path d="M602.9 94.2l3.0 4.9h-6.0z" fill="none" stroke="#000" stroke-width="0.65"/><text x="614.7" y="100.1" class="lg">SSP 5-8.5</text><defs><linearGradient id="g136" x1="0" y1="1" x2="0" y2="0"><stop offset="0.0" stop-color="#fde725"/><stop offset="0.1" stop-color="#bddf26"/><stop offset="0.2" stop-color="#7ad151"/><stop offset="0.3" stop-color="#44bf70"/><stop offset="0.4" stop-color="#22a884"/><stop offset="0.5" stop-color="#21918c"/><stop offset="0.6" stop-color="#2a788e"/><stop offset="0.7" stop-color="#355f8d"/><stop offset="0.8" stop-color="#414487"/><stop offset="0.9" stop-color="#482475"/><stop offset="1.0" stop-color="#440154"/></linearGradient></defs><rect x="596" y="136.4" width="14.0" height="71.2" fill="url(#g136)"/><line x1="596" y1="160.5" x2="598.8" y2="160.5" stroke="#fff" stroke-width="0.8"/><line x1="607.2" y1="160.5" x2="610" y2="160.5" stroke="#fff" stroke-width="0.8"/><line x1="596" y1="184.2" x2="598.8" y2="184.2" stroke="#fff" stroke-width="0.8"/><line x1="607.2" y1="184.2" x2="610" y2="184.2" stroke="#fff" stroke-width="0.8"/><text x="596.5" y="131" style="font-size:10.6px;fill:#1a1a1a">Year</text><text x="614.7" y="140.5" class="lg">2100</text><text x="614.7" y="164.2" class="lg">2050</text><text x="614.7" y="187.9" class="lg">2000</text><text x="614.7" y="211.7" class="lg">1950</text><rect x="52.5" y="325.5" width="241.0" height="203.5" fill="#fff"/><line x1="96.8" y1="325.5" x2="96.8" y2="529.0" stroke="#f4f4f4" stroke-width="0.6"/><line x1="155.6" y1="325.5" x2="155.6" y2="529.0" stroke="#f4f4f4" stroke-width="0.6"/><line x1="214.2" y1="325.5" x2="214.2" y2="529.0" stroke="#f4f4f4" stroke-width="0.6"/><line x1="272.9" y1="325.5" x2="272.9" y2="529.0" stroke="#f4f4f4" stroke-width="0.6"/><line x1="52.5" y1="371.8" x2="293.5" y2="371.8" stroke="#f4f4f4" stroke-width="0.6"/><line x1="52.5" y1="422.5" x2="293.5" y2="422.5" stroke="#f4f4f4" stroke-width="0.6"/><line x1="52.5" y1="473.2" x2="293.5" y2="473.2" stroke="#f4f4f4" stroke-width="0.6"/><line x1="52.5" y1="523.9" x2="293.5" y2="523.9" stroke="#f4f4f4" stroke-width="0.6"/><line x1="67.5" y1="325.5" x2="67.5" y2="529.0" stroke="#ebebeb" stroke-width="0.9"/><line x1="126.2" y1="325.5" x2="126.2" y2="529.0" stroke="#ebebeb" stroke-width="0.9"/><line x1="184.9" y1="325.5" x2="184.9" y2="529.0" stroke="#ebebeb" stroke-width="0.9"/><line x1="243.6" y1="325.5" x2="243.6" y2="529.0" stroke="#ebebeb" stroke-width="0.9"/><line x1="52.5" y1="346.4" x2="293.5" y2="346.4" stroke="#ebebeb" stroke-width="0.9"/><line x1="52.5" y1="397.1" x2="293.5" y2="397.1" stroke="#ebebeb" stroke-width="0.9"/><line x1="52.5" y1="447.8" x2="293.5" y2="447.8" stroke="#ebebeb" stroke-width="0.9"/><line x1="52.5" y1="498.6" x2="293.5" y2="498.6" stroke="#ebebeb" stroke-width="0.9"/><g clip-path="url(#clc)"><polygon points="62,338 282.8,430 282.8,519 62,343" fill="#dfe6f6"/><path d="M186.3 409.5l3.0 4.9h-6.0z" fill="none" stroke="#48c16e" stroke-width="0.65"/><path d="M119.6 349.7l3.0 4.9h-6.0z" fill="none" stroke="#89d548" stroke-width="0.65"/><path d="M130.8 355.5l3.0 4.9h-6.0z" fill="none" stroke="#77d153" stroke-width="0.65"/><circle cx="84.8" cy="354.5" r="2.0" fill="#a0da39"/><path d="M217.7 438.8l3.0 4.9h-6.0z" fill="none" stroke="#35b779" stroke-width="0.65"/><path d="M194.0 413.5l3.0 4.9h-6.0z" fill="none" stroke="#42be71" stroke-width="0.65"/><circle cx="66.3" cy="348.2" r="2.3" fill="#cde11d"/><path d="M94.3 353.0l3.0 4.9h-6.0z" fill="none" stroke="#9dd93b" stroke-width="0.65"/><path d="M107.6 347.1l3.0 4.9h-6.0z" fill="none" stroke="#89d548" stroke-width="0.65"/><circle cx="65.7" cy="344.7" r="2.3" fill="#eae51a"/><circle cx="79.6" cy="352.0" r="2.0" fill="#cae11f"/><path d="M224.7 438.8l3.0 4.9h-6.0z" fill="none" stroke="#37b878" stroke-width="0.65"/><path d="M209.7 430.7l3.0 4.9h-6.0z" fill="none" stroke="#50c46a" stroke-width="0.65"/><path d="M121.2 365.3l3.0 4.9h-6.0z" fill="none" stroke="#98d83e" stroke-width="0.65"/><circle cx="61.7" cy="346.4" r="2.3" fill="#f1e51d"/><path d="M212.3 431.6l3.0 4.9h-6.0z" fill="none" stroke="#3aba76" stroke-width="0.65"/><path d="M162.7 372.5l3.0 4.9h-6.0z" fill="none" stroke="#52c569" stroke-width="0.65"/><path d="M281.7 497.0l3.0 4.9h-6.0z" fill="none" stroke="#22a785" stroke-width="0.65"/><path d="M81.9 342.6l3.0 4.9h-6.0z" fill="none" stroke="#b0dd2f" stroke-width="0.65"/><path d="M157.0 366.0l3.0 4.9h-6.0z" fill="none" stroke="#60ca60" stroke-width="0.65"/><path d="M205.5 420.1l3.0 4.9h-6.0z" fill="none" stroke="#46c06f" stroke-width="0.65"/><path d="M198.1 416.3l3.0 4.9h-6.0z" fill="none" stroke="#40bd72" stroke-width="0.65"/><path d="M213.2 437.9l3.0 4.9h-6.0z" fill="none" stroke="#42be71" stroke-width="0.65"/><path d="M115.4 365.2l3.0 4.9h-6.0z" fill="none" stroke="#73d056" stroke-width="0.65"/><path d="M107.2 359.9l3.0 4.9h-6.0z" fill="none" stroke="#8ed645" stroke-width="0.65"/><path d="M222.3 441.5l3.0 4.9h-6.0z" fill="none" stroke="#34b679" stroke-width="0.65"/><path d="M232.2 415.8l3.0 4.9h-6.0z" fill="none" stroke="#1f9e89" stroke-width="0.65"/><path d="M229.7 418.5l3.0 4.9h-6.0z" fill="none" stroke="#24aa83" stroke-width="0.65"/><circle cx="83.7" cy="355.0" r="2.0" fill="#93d741"/><path d="M199.1 395.5l3.0 4.9h-6.0z" fill="none" stroke="#34b679" stroke-width="0.65"/><path d="M107.0 346.0l3.0 4.9h-6.0z" fill="none" stroke="#90d743" stroke-width="0.65"/><path d="M207.1 426.6l3.0 4.9h-6.0z" fill="none" stroke="#31b57b" stroke-width="0.65"/><circle cx="72.4" cy="353.7" r="2.3" fill="#dfe318"/><path d="M174.8 402.3l3.0 4.9h-6.0z" fill="none" stroke="#6ccd5a" stroke-width="0.65"/><path d="M205.7 400.3l3.0 4.9h-6.0z" fill="none" stroke="#34b679" stroke-width="0.65"/><circle cx="79.0" cy="350.6" r="2.0" fill="#b5de2b"/><path d="M262.0 470.9l3.0 4.9h-6.0z" fill="none" stroke="#35b779" stroke-width="0.65"/><path d="M111.0 363.3l3.0 4.9h-6.0z" fill="none" stroke="#95d840" stroke-width="0.65"/><path d="M126.8 350.0l3.0 4.9h-6.0z" fill="none" stroke="#69cd5b" stroke-width="0.65"/><path d="M230.8 453.6l3.0 4.9h-6.0z" fill="none" stroke="#38b977" stroke-width="0.65"/><path d="M89.7 340.3l3.0 4.9h-6.0z" fill="none" stroke="#9dd93b" stroke-width="0.65"/><path d="M136.0 380.0l3.0 4.9h-6.0z" fill="none" stroke="#81d34d" stroke-width="0.65"/><path d="M100.2 345.7l3.0 4.9h-6.0z" fill="none" stroke="#95d840" stroke-width="0.65"/><path d="M98.7 356.3l3.0 4.9h-6.0z" fill="none" stroke="#95d840" stroke-width="0.65"/><path d="M116.3 368.4l3.0 4.9h-6.0z" fill="none" stroke="#8ed645" stroke-width="0.65"/><path d="M82.5 342.7l3.0 4.9h-6.0z" fill="none" stroke="#a8db34" stroke-width="0.65"/><path d="M263.1 478.3l3.0 4.9h-6.0z" fill="none" stroke="#2eb37c" stroke-width="0.65"/><path d="M90.6 346.9l3.0 4.9h-6.0z" fill="none" stroke="#a0da39" stroke-width="0.65"/><path d="M237.3 456.2l3.0 4.9h-6.0z" fill="none" stroke="#25ac82" stroke-width="0.65"/><path d="M123.7 349.3l3.0 4.9h-6.0z" fill="none" stroke="#73d056" stroke-width="0.65"/><path d="M96.7 350.7l3.0 4.9h-6.0z" fill="none" stroke="#a0da39" stroke-width="0.65"/><path d="M200.7 419.5l3.0 4.9h-6.0z" fill="none" stroke="#38b977" stroke-width="0.65"/><path d="M128.2 350.4l3.0 4.9h-6.0z" fill="none" stroke="#69cd5b" stroke-width="0.65"/><circle cx="69.2" cy="345.5" r="2.0" fill="#e5e419"/><path d="M91.6 356.1l3.0 4.9h-6.0z" fill="none" stroke="#89d548" stroke-width="0.65"/><path d="M172.1 375.8l3.0 4.9h-6.0z" fill="none" stroke="#4cc26c" stroke-width="0.65"/><path d="M97.9 345.5l3.0 4.9h-6.0z" fill="none" stroke="#90d743" stroke-width="0.65"/><path d="M155.8 372.1l3.0 4.9h-6.0z" fill="none" stroke="#58c765" stroke-width="0.65"/><path d="M106.0 352.1l3.0 4.9h-6.0z" fill="none" stroke="#a0da39" stroke-width="0.65"/><path d="M190.6 405.4l3.0 4.9h-6.0z" fill="none" stroke="#56c667" stroke-width="0.65"/><path d="M227.2 443.8l3.0 4.9h-6.0z" fill="none" stroke="#34b679" stroke-width="0.65"/><path d="M209.3 402.9l3.0 4.9h-6.0z" fill="none" stroke="#35b779" stroke-width="0.65"/><path d="M153.4 391.7l3.0 4.9h-6.0z" fill="none" stroke="#5cc863" stroke-width="0.65"/><path d="M257.0 465.3l3.0 4.9h-6.0z" fill="none" stroke="#2fb47c" stroke-width="0.65"/><path d="M192.6 385.2l3.0 4.9h-6.0z" fill="none" stroke="#37b878" stroke-width="0.65"/><path d="M149.9 393.4l3.0 4.9h-6.0z" fill="none" stroke="#5ec962" stroke-width="0.65"/><circle cx="73.9" cy="350.2" r="2.0" fill="#d8e219"/><path d="M144.4 360.9l3.0 4.9h-6.0z" fill="none" stroke="#69cd5b" stroke-width="0.65"/><path d="M114.3 366.9l3.0 4.9h-6.0z" fill="none" stroke="#98d83e" stroke-width="0.65"/><path d="M201.5 390.8l3.0 4.9h-6.0z" fill="none" stroke="#38b977" stroke-width="0.65"/><path d="M141.8 377.4l3.0 4.9h-6.0z" fill="none" stroke="#70cf57" stroke-width="0.65"/><path d="M158.5 391.1l3.0 4.9h-6.0z" fill="none" stroke="#75d054" stroke-width="0.65"/><path d="M109.8 347.5l3.0 4.9h-6.0z" fill="none" stroke="#addc30" stroke-width="0.65"/><path d="M206.2 397.5l3.0 4.9h-6.0z" fill="none" stroke="#2ab07f" stroke-width="0.65"/><circle cx="64.4" cy="350.7" r="2.3" fill="#fbe723"/><path d="M165.0 397.7l3.0 4.9h-6.0z" fill="none" stroke="#5ec962" stroke-width="0.65"/><path d="M169.1 396.5l3.0 4.9h-6.0z" fill="none" stroke="#65cb5e" stroke-width="0.65"/><path d="M240.1 453.7l3.0 4.9h-6.0z" fill="none" stroke="#31b57b" stroke-width="0.65"/><circle cx="79.5" cy="354.1" r="2.0" fill="#9dd93b"/><circle cx="80.8" cy="354.0" r="2.0" fill="#b0dd2f"/><path d="M190.9 380.1l3.0 4.9h-6.0z" fill="none" stroke="#40bd72" stroke-width="0.65"/><path d="M97.6 354.3l3.0 4.9h-6.0z" fill="none" stroke="#90d743" stroke-width="0.65"/><path d="M122.9 368.4l3.0 4.9h-6.0z" fill="none" stroke="#70cf57" stroke-width="0.65"/><path d="M167.8 370.3l3.0 4.9h-6.0z" fill="none" stroke="#56c667" stroke-width="0.65"/><path d="M186.6 386.2l3.0 4.9h-6.0z" fill="none" stroke="#34b679" stroke-width="0.65"/><path d="M125.0 371.4l3.0 4.9h-6.0z" fill="none" stroke="#86d549" stroke-width="0.65"/><circle cx="80.9" cy="352.5" r="2.0" fill="#9dd93b"/><path d="M235.0 451.1l3.0 4.9h-6.0z" fill="none" stroke="#3bbb75" stroke-width="0.65"/><path d="M203.7 418.9l3.0 4.9h-6.0z" fill="none" stroke="#4ec36b" stroke-width="0.65"/><path d="M124.6 369.5l3.0 4.9h-6.0z" fill="none" stroke="#81d34d" stroke-width="0.65"/><path d="M161.8 368.1l3.0 4.9h-6.0z" fill="none" stroke="#5cc863" stroke-width="0.65"/><path d="M252.9 467.0l3.0 4.9h-6.0z" fill="none" stroke="#21a585" stroke-width="0.65"/><path d="M217.1 436.9l3.0 4.9h-6.0z" fill="none" stroke="#35b779" stroke-width="0.65"/><path d="M151.6 369.1l3.0 4.9h-6.0z" fill="none" stroke="#73d056" stroke-width="0.65"/><circle cx="63.0" cy="346.9" r="2.3" fill="#fde725"/><path d="M190.1 412.1l3.0 4.9h-6.0z" fill="none" stroke="#4ec36b" stroke-width="0.65"/><path d="M130.0 349.0l3.0 4.9h-6.0z" fill="none" stroke="#63cb5f" stroke-width="0.65"/><path d="M192.7 387.7l3.0 4.9h-6.0z" fill="none" stroke="#3dbc74" stroke-width="0.65"/><path d="M217.6 438.6l3.0 4.9h-6.0z" fill="none" stroke="#3dbc74" stroke-width="0.65"/><path d="M135.1 380.1l3.0 4.9h-6.0z" fill="none" stroke="#7fd34e" stroke-width="0.65"/><path d="M193.3 386.5l3.0 4.9h-6.0z" fill="none" stroke="#3aba76" stroke-width="0.65"/><circle cx="70.0" cy="348.6" r="2.3" fill="#ece51b"/><circle cx="87.1" cy="354.9" r="2.0" fill="#86d549"/><circle cx="63.2" cy="346.6" r="2.3" fill="#fbe723"/><path d="M226.1 448.4l3.0 4.9h-6.0z" fill="none" stroke="#42be71" stroke-width="0.65"/><path d="M114.8 348.6l3.0 4.9h-6.0z" fill="none" stroke="#8ed645" stroke-width="0.65"/><circle cx="73.0" cy="349.4" r="2.0" fill="#e2e418"/><path d="M161.5 388.1l3.0 4.9h-6.0z" fill="none" stroke="#77d153" stroke-width="0.65"/><path d="M269.8 479.2l3.0 4.9h-6.0z" fill="none" stroke="#25ab82" stroke-width="0.65"/><path d="M238.7 453.5l3.0 4.9h-6.0z" fill="none" stroke="#2db27d" stroke-width="0.65"/><path d="M169.0 371.9l3.0 4.9h-6.0z" fill="none" stroke="#44bf70" stroke-width="0.65"/><path d="M92.2 346.9l3.0 4.9h-6.0z" fill="none" stroke="#93d741" stroke-width="0.65"/><path d="M183.8 380.8l3.0 4.9h-6.0z" fill="none" stroke="#4ec36b" stroke-width="0.65"/><path d="M264.7 477.3l3.0 4.9h-6.0z" fill="none" stroke="#21a685" stroke-width="0.65"/><path d="M241.4 460.4l3.0 4.9h-6.0z" fill="none" stroke="#40bd72" stroke-width="0.65"/><circle cx="62.6" cy="349.1" r="2.3" fill="#f8e621"/><circle cx="87.9" cy="356.0" r="2.0" fill="#9bd93c"/><path d="M77.7 343.1l3.0 4.9h-6.0z" fill="none" stroke="#b5de2b" stroke-width="0.65"/><path d="M207.1 403.7l3.0 4.9h-6.0z" fill="none" stroke="#28ae80" stroke-width="0.65"/><path d="M102.0 357.6l3.0 4.9h-6.0z" fill="none" stroke="#a5db36" stroke-width="0.65"/><circle cx="66.4" cy="348.1" r="2.3" fill="#f1e51d"/><path d="M235.4 421.8l3.0 4.9h-6.0z" fill="none" stroke="#22a785" stroke-width="0.65"/><path d="M118.5 349.7l3.0 4.9h-6.0z" fill="none" stroke="#77d153" stroke-width="0.65"/><path d="M249.9 468.0l3.0 4.9h-6.0z" fill="none" stroke="#2db27d" stroke-width="0.65"/><circle cx="69.2" cy="345.0" r="2.3" fill="#eae51a"/><path d="M244.1 465.1l3.0 4.9h-6.0z" fill="none" stroke="#31b57b" stroke-width="0.65"/><path d="M180.9 409.0l3.0 4.9h-6.0z" fill="none" stroke="#54c568" stroke-width="0.65"/><path d="M165.2 392.4l3.0 4.9h-6.0z" fill="none" stroke="#67cc5c" stroke-width="0.65"/><path d="M206.1 425.4l3.0 4.9h-6.0z" fill="none" stroke="#4ac16d" stroke-width="0.65"/><path d="M159.5 390.7l3.0 4.9h-6.0z" fill="none" stroke="#65cb5e" stroke-width="0.65"/><path d="M200.0 421.1l3.0 4.9h-6.0z" fill="none" stroke="#48c16e" stroke-width="0.65"/><path d="M94.2 343.6l3.0 4.9h-6.0z" fill="none" stroke="#9dd93b" stroke-width="0.65"/><path d="M111.5 362.5l3.0 4.9h-6.0z" fill="none" stroke="#95d840" stroke-width="0.65"/><path d="M202.6 397.3l3.0 4.9h-6.0z" fill="none" stroke="#3aba76" stroke-width="0.65"/><path d="M228.1 424.0l3.0 4.9h-6.0z" fill="none" stroke="#20a386" stroke-width="0.65"/><path d="M138.6 361.9l3.0 4.9h-6.0z" fill="none" stroke="#5ec962" stroke-width="0.65"/><path d="M134.1 375.1l3.0 4.9h-6.0z" fill="none" stroke="#73d056" stroke-width="0.65"/><path d="M99.9 356.4l3.0 4.9h-6.0z" fill="none" stroke="#8ed645" stroke-width="0.65"/><path d="M93.1 346.9l3.0 4.9h-6.0z" fill="none" stroke="#81d34d" stroke-width="0.65"/><path d="M207.9 400.6l3.0 4.9h-6.0z" fill="none" stroke="#34b679" stroke-width="0.65"/><path d="M200.2 390.9l3.0 4.9h-6.0z" fill="none" stroke="#42be71" stroke-width="0.65"/><path d="M231.0 450.3l3.0 4.9h-6.0z" fill="none" stroke="#2db27d" stroke-width="0.65"/><path d="M124.0 369.9l3.0 4.9h-6.0z" fill="none" stroke="#77d153" stroke-width="0.65"/><path d="M130.5 354.3l3.0 4.9h-6.0z" fill="none" stroke="#60ca60" stroke-width="0.65"/><path d="M258.6 471.9l3.0 4.9h-6.0z" fill="none" stroke="#2fb47c" stroke-width="0.65"/><path d="M178.8 406.6l3.0 4.9h-6.0z" fill="none" stroke="#5ec962" stroke-width="0.65"/><path d="M279.5 492.8l3.0 4.9h-6.0z" fill="none" stroke="#20a486" stroke-width="0.65"/><path d="M211.1 427.0l3.0 4.9h-6.0z" fill="none" stroke="#3bbb75" stroke-width="0.65"/><path d="M93.8 350.3l3.0 4.9h-6.0z" fill="none" stroke="#8ed645" stroke-width="0.65"/><path d="M196.8 414.0l3.0 4.9h-6.0z" fill="none" stroke="#3dbc74" stroke-width="0.65"/><path d="M205.5 422.0l3.0 4.9h-6.0z" fill="none" stroke="#5cc863" stroke-width="0.65"/><path d="M210.0 423.8l3.0 4.9h-6.0z" fill="none" stroke="#31b57b" stroke-width="0.65"/><circle cx="65.1" cy="343.7" r="2.3" fill="#dae319"/><path d="M203.4 424.7l3.0 4.9h-6.0z" fill="none" stroke="#3fbc73" stroke-width="0.65"/><circle cx="75.0" cy="349.0" r="2.0" fill="#c0df25"/><circle cx="85.5" cy="352.2" r="2.0" fill="#8bd646"/><circle cx="69.6" cy="350.3" r="2.3" fill="#d8e219"/><path d="M152.4 384.1l3.0 4.9h-6.0z" fill="none" stroke="#75d054" stroke-width="0.65"/><path d="M183.5 406.1l3.0 4.9h-6.0z" fill="none" stroke="#65cb5e" stroke-width="0.65"/><path d="M176.6 377.8l3.0 4.9h-6.0z" fill="none" stroke="#4ac16d" stroke-width="0.65"/><path d="M175.9 381.4l3.0 4.9h-6.0z" fill="none" stroke="#54c568" stroke-width="0.65"/><path d="M213.2 405.3l3.0 4.9h-6.0z" fill="none" stroke="#2ab07f" stroke-width="0.65"/><path d="M273.1 486.5l3.0 4.9h-6.0z" fill="none" stroke="#24aa83" stroke-width="0.65"/><circle cx="81.3" cy="348.6" r="2.0" fill="#98d83e"/><path d="M252.6 466.3l3.0 4.9h-6.0z" fill="none" stroke="#22a884" stroke-width="0.65"/><path d="M113.4 351.6l3.0 4.9h-6.0z" fill="none" stroke="#8ed645" stroke-width="0.65"/><path d="M174.2 378.7l3.0 4.9h-6.0z" fill="none" stroke="#50c46a" stroke-width="0.65"/><circle cx="63.5" cy="344.4" r="2.3" fill="#ece51b"/><circle cx="80.4" cy="351.3" r="2.0" fill="#bddf26"/><path d="M260.2 474.5l3.0 4.9h-6.0z" fill="none" stroke="#2ab07f" stroke-width="0.65"/><circle cx="87.7" cy="353.8" r="2.0" fill="#90d743"/><path d="M184.1 385.4l3.0 4.9h-6.0z" fill="none" stroke="#44bf70" stroke-width="0.65"/><path d="M205.8 396.4l3.0 4.9h-6.0z" fill="none" stroke="#28ae80" stroke-width="0.65"/><path d="M234.2 458.5l3.0 4.9h-6.0z" fill="none" stroke="#26ad81" stroke-width="0.65"/><path d="M179.7 401.9l3.0 4.9h-6.0z" fill="none" stroke="#63cb5f" stroke-width="0.65"/><circle cx="64.1" cy="344.7" r="2.3" fill="#f6e620"/><path d="M245.4 462.6l3.0 4.9h-6.0z" fill="none" stroke="#31b57b" stroke-width="0.65"/><path d="M217.3 406.8l3.0 4.9h-6.0z" fill="none" stroke="#2eb37c" stroke-width="0.65"/><path d="M234.5 418.1l3.0 4.9h-6.0z" fill="none" stroke="#2ab07f" stroke-width="0.65"/><circle cx="61.8" cy="348.8" r="2.3" fill="#efe51c"/><path d="M256.9 468.0l3.0 4.9h-6.0z" fill="none" stroke="#2fb47c" stroke-width="0.65"/><path d="M124.1 378.5l3.0 4.9h-6.0z" fill="none" stroke="#86d549" stroke-width="0.65"/><path d="M179.3 409.0l3.0 4.9h-6.0z" fill="none" stroke="#60ca60" stroke-width="0.65"/><path d="M177.5 403.2l3.0 4.9h-6.0z" fill="none" stroke="#5ac864" stroke-width="0.65"/><path d="M120.2 346.7l3.0 4.9h-6.0z" fill="none" stroke="#8ed645" stroke-width="0.65"/><circle cx="62.5" cy="343.5" r="2.3" fill="#fde725"/><circle cx="63.9" cy="343.4" r="2.3" fill="#fde725"/><path d="M184.8 409.4l3.0 4.9h-6.0z" fill="none" stroke="#5cc863" stroke-width="0.65"/><path d="M179.3 381.9l3.0 4.9h-6.0z" fill="none" stroke="#3fbc73" stroke-width="0.65"/><path d="M240.2 460.8l3.0 4.9h-6.0z" fill="none" stroke="#2eb37c" stroke-width="0.65"/><path d="M214.7 436.4l3.0 4.9h-6.0z" fill="none" stroke="#3dbc74" stroke-width="0.65"/><path d="M221.9 403.8l3.0 4.9h-6.0z" fill="none" stroke="#24aa83" stroke-width="0.65"/><path d="M160.0 371.1l3.0 4.9h-6.0z" fill="none" stroke="#4ec36b" stroke-width="0.65"/><path d="M133.9 368.1l3.0 4.9h-6.0z" fill="none" stroke="#8bd646" stroke-width="0.65"/><circle cx="64.3" cy="346.0" r="2.3" fill="#f6e620"/><path d="M138.6 358.8l3.0 4.9h-6.0z" fill="none" stroke="#75d054" stroke-width="0.65"/><path d="M123.1 366.8l3.0 4.9h-6.0z" fill="none" stroke="#81d34d" stroke-width="0.65"/><path d="M273.7 484.9l3.0 4.9h-6.0z" fill="none" stroke="#1fa187" stroke-width="0.65"/><path d="M228.1 416.6l3.0 4.9h-6.0z" fill="none" stroke="#25ac82" stroke-width="0.65"/><path d="M186.5 405.4l3.0 4.9h-6.0z" fill="none" stroke="#52c569" stroke-width="0.65"/><path d="M223.8 413.4l3.0 4.9h-6.0z" fill="none" stroke="#2db27d" stroke-width="0.65"/><path d="M115.3 361.6l3.0 4.9h-6.0z" fill="none" stroke="#90d743" stroke-width="0.65"/><circle cx="76.2" cy="349.8" r="2.0" fill="#a8db34"/><circle cx="65.6" cy="345.0" r="2.3" fill="#fde725"/><circle cx="63.2" cy="344.4" r="2.3" fill="#f1e51d"/><circle cx="72.6" cy="348.1" r="2.3" fill="#dfe318"/><path d="M170.7 396.0l3.0 4.9h-6.0z" fill="none" stroke="#5ac864" stroke-width="0.65"/><path d="M255.0 471.2l3.0 4.9h-6.0z" fill="none" stroke="#31b57b" stroke-width="0.65"/><path d="M192.1 389.8l3.0 4.9h-6.0z" fill="none" stroke="#3bbb75" stroke-width="0.65"/><circle cx="61.2" cy="346.3" r="2.3" fill="#fde725"/><circle cx="70.7" cy="350.2" r="2.3" fill="#e2e418"/><path d="M81.8 339.2l3.0 4.9h-6.0z" fill="none" stroke="#8ed645" stroke-width="0.65"/><path d="M149.9 361.4l3.0 4.9h-6.0z" fill="none" stroke="#5ac864" stroke-width="0.65"/><path d="M211.5 406.3l3.0 4.9h-6.0z" fill="none" stroke="#2db27d" stroke-width="0.65"/><path d="M174.8 405.5l3.0 4.9h-6.0z" fill="none" stroke="#58c765" stroke-width="0.65"/><circle cx="76.2" cy="351.9" r="2.0" fill="#bade28"/><path d="M183.1 385.6l3.0 4.9h-6.0z" fill="none" stroke="#52c569" stroke-width="0.65"/><path d="M151.2 368.1l3.0 4.9h-6.0z" fill="none" stroke="#50c46a" stroke-width="0.65"/><path d="M160.2 370.1l3.0 4.9h-6.0z" fill="none" stroke="#5ac864" stroke-width="0.65"/><circle cx="69.0" cy="349.1" r="2.3" fill="#e7e419"/><path d="M179.4 378.0l3.0 4.9h-6.0z" fill="none" stroke="#46c06f" stroke-width="0.65"/><path d="M155.8 391.5l3.0 4.9h-6.0z" fill="none" stroke="#60ca60" stroke-width="0.65"/><circle cx="61.5" cy="345.6" r="2.3" fill="#fde725"/><path d="M140.8 379.3l3.0 4.9h-6.0z" fill="none" stroke="#73d056" stroke-width="0.65"/><circle cx="82.9" cy="354.2" r="2.0" fill="#addc30"/><path d="M116.4 363.4l3.0 4.9h-6.0z" fill="none" stroke="#98d83e" stroke-width="0.65"/><path d="M147.6 359.3l3.0 4.9h-6.0z" fill="none" stroke="#58c765" stroke-width="0.65"/><path d="M128.0 374.6l3.0 4.9h-6.0z" fill="none" stroke="#7fd34e" stroke-width="0.65"/><path d="M169.5 398.2l3.0 4.9h-6.0z" fill="none" stroke="#5cc863" stroke-width="0.65"/><path d="M165.9 395.5l3.0 4.9h-6.0z" fill="none" stroke="#70cf57" stroke-width="0.65"/><path d="M83.4 340.1l3.0 4.9h-6.0z" fill="none" stroke="#98d83e" stroke-width="0.65"/><path d="M139.3 353.4l3.0 4.9h-6.0z" fill="none" stroke="#60ca60" stroke-width="0.65"/><path d="M139.8 358.4l3.0 4.9h-6.0z" fill="none" stroke="#75d054" stroke-width="0.65"/><path d="M182.9 406.5l3.0 4.9h-6.0z" fill="none" stroke="#46c06f" stroke-width="0.65"/><circle cx="65.7" cy="343.3" r="2.3" fill="#fde725"/><path d="M103.1 349.2l3.0 4.9h-6.0z" fill="none" stroke="#95d840" stroke-width="0.65"/><path d="M136.1 379.0l3.0 4.9h-6.0z" fill="none" stroke="#9dd93b" stroke-width="0.65"/><path d="M140.3 360.8l3.0 4.9h-6.0z" fill="none" stroke="#6ece58" stroke-width="0.65"/><path d="M119.1 366.2l3.0 4.9h-6.0z" fill="none" stroke="#98d83e" stroke-width="0.65"/><path d="M150.3 381.1l3.0 4.9h-6.0z" fill="none" stroke="#70cf57" stroke-width="0.65"/><circle cx="82.2" cy="352.3" r="2.0" fill="#aadc32"/><path d="M106.9 348.8l3.0 4.9h-6.0z" fill="none" stroke="#84d44b" stroke-width="0.65"/><circle cx="70.2" cy="344.8" r="2.3" fill="#dde318"/><path d="M164.2 394.1l3.0 4.9h-6.0z" fill="none" stroke="#73d056" stroke-width="0.65"/><circle cx="61.9" cy="344.1" r="2.3" fill="#f6e620"/><circle cx="67.9" cy="345.5" r="2.3" fill="#e5e419"/><path d="M169.9 394.0l3.0 4.9h-6.0z" fill="none" stroke="#58c765" stroke-width="0.65"/><path d="M215.1 433.7l3.0 4.9h-6.0z" fill="none" stroke="#40bd72" stroke-width="0.65"/><circle cx="69.9" cy="349.2" r="2.3" fill="#dae319"/><circle cx="84.5" cy="354.6" r="2.0" fill="#a2da37"/><path d="M160.5 373.8l3.0 4.9h-6.0z" fill="none" stroke="#54c568" stroke-width="0.65"/><path d="M104.7 348.2l3.0 4.9h-6.0z" fill="none" stroke="#90d743" stroke-width="0.65"/><path d="M228.8 447.1l3.0 4.9h-6.0z" fill="none" stroke="#32b67a" stroke-width="0.65"/><path d="M76.6 346.3l3.0 4.9h-6.0z" fill="none" stroke="#b5de2b" stroke-width="0.65"/><path d="M193.2 381.8l3.0 4.9h-6.0z" fill="none" stroke="#46c06f" stroke-width="0.65"/><path d="M236.0 421.6l3.0 4.9h-6.0z" fill="none" stroke="#23a983" stroke-width="0.65"/><path d="M226.1 411.7l3.0 4.9h-6.0z" fill="none" stroke="#26ad81" stroke-width="0.65"/><path d="M279.1 487.2l3.0 4.9h-6.0z" fill="none" stroke="#1f9e89" stroke-width="0.65"/><path d="M147.4 367.2l3.0 4.9h-6.0z" fill="none" stroke="#58c765" stroke-width="0.65"/><path d="M278.3 487.5l3.0 4.9h-6.0z" fill="none" stroke="#21a685" stroke-width="0.65"/><path d="M178.5 384.3l3.0 4.9h-6.0z" fill="none" stroke="#48c16e" stroke-width="0.65"/><path d="M148.9 386.0l3.0 4.9h-6.0z" fill="none" stroke="#73d056" stroke-width="0.65"/><circle cx="75.9" cy="353.0" r="2.0" fill="#c8e020"/><path d="M162.1 388.9l3.0 4.9h-6.0z" fill="none" stroke="#65cb5e" stroke-width="0.65"/><path d="M129.9 372.0l3.0 4.9h-6.0z" fill="none" stroke="#7fd34e" stroke-width="0.65"/><path d="M164.2 371.3l3.0 4.9h-6.0z" fill="none" stroke="#63cb5f" stroke-width="0.65"/><path d="M200.6 415.0l3.0 4.9h-6.0z" fill="none" stroke="#3aba76" stroke-width="0.65"/><circle cx="81.5" cy="350.3" r="2.0" fill="#c2df23"/><path d="M237.2 453.2l3.0 4.9h-6.0z" fill="none" stroke="#34b679" stroke-width="0.65"/><path d="M211.2 406.6l3.0 4.9h-6.0z" fill="none" stroke="#2cb17e" stroke-width="0.65"/><path d="M258.1 466.1l3.0 4.9h-6.0z" fill="none" stroke="#2cb17e" stroke-width="0.65"/><path d="M134.9 352.3l3.0 4.9h-6.0z" fill="none" stroke="#70cf57" stroke-width="0.65"/><path d="M227.7 452.3l3.0 4.9h-6.0z" fill="none" stroke="#35b779" stroke-width="0.65"/><path d="M197.4 393.6l3.0 4.9h-6.0z" fill="none" stroke="#32b67a" stroke-width="0.65"/><path d="M127.0 346.2l3.0 4.9h-6.0z" fill="none" stroke="#6ece58" stroke-width="0.65"/><path d="M208.3 401.8l3.0 4.9h-6.0z" fill="none" stroke="#37b878" stroke-width="0.65"/><path d="M85.8 345.3l3.0 4.9h-6.0z" fill="none" stroke="#98d83e" stroke-width="0.65"/><path d="M148.9 364.6l3.0 4.9h-6.0z" fill="none" stroke="#65cb5e" stroke-width="0.65"/><path d="M121.0 351.3l3.0 4.9h-6.0z" fill="none" stroke="#77d153" stroke-width="0.65"/><path d="M133.9 354.9l3.0 4.9h-6.0z" fill="none" stroke="#65cb5e" stroke-width="0.65"/><path d="M264.0 477.1l3.0 4.9h-6.0z" fill="none" stroke="#23a983" stroke-width="0.65"/><path d="M196.9 417.7l3.0 4.9h-6.0z" fill="none" stroke="#54c568" stroke-width="0.65"/><path d="M128.0 365.3l3.0 4.9h-6.0z" fill="none" stroke="#8ed645" stroke-width="0.65"/><path d="M184.8 380.2l3.0 4.9h-6.0z" fill="none" stroke="#3fbc73" stroke-width="0.65"/><path d="M217.3 432.5l3.0 4.9h-6.0z" fill="none" stroke="#50c46a" stroke-width="0.65"/><circle cx="63.6" cy="347.7" r="2.3" fill="#ece51b"/><path d="M175.1 397.9l3.0 4.9h-6.0z" fill="none" stroke="#58c765" stroke-width="0.65"/><circle cx="62.0" cy="345.7" r="2.3" fill="#fde725"/><path d="M168.6 394.3l3.0 4.9h-6.0z" fill="none" stroke="#60ca60" stroke-width="0.65"/><path d="M271.8 482.5l3.0 4.9h-6.0z" fill="none" stroke="#21a685" stroke-width="0.65"/><path d="M199.2 389.4l3.0 4.9h-6.0z" fill="none" stroke="#38b977" stroke-width="0.65"/><path d="M133.4 373.0l3.0 4.9h-6.0z" fill="none" stroke="#81d34d" stroke-width="0.65"/><path d="M192.2 408.8l3.0 4.9h-6.0z" fill="none" stroke="#58c765" stroke-width="0.65"/><path d="M224.7 408.0l3.0 4.9h-6.0z" fill="none" stroke="#29af7f" stroke-width="0.65"/><path d="M84.9 342.3l3.0 4.9h-6.0z" fill="none" stroke="#aadc32" stroke-width="0.65"/><path d="M268.3 480.1l3.0 4.9h-6.0z" fill="none" stroke="#27ad81" stroke-width="0.65"/><path d="M221.8 407.0l3.0 4.9h-6.0z" fill="none" stroke="#29af7f" stroke-width="0.65"/><path d="M167.2 372.5l3.0 4.9h-6.0z" fill="none" stroke="#40bd72" stroke-width="0.65"/><path d="M249.6 466.2l3.0 4.9h-6.0z" fill="none" stroke="#2fb47c" stroke-width="0.65"/><path d="M199.1 385.8l3.0 4.9h-6.0z" fill="none" stroke="#34b679" stroke-width="0.65"/><path d="M86.9 342.4l3.0 4.9h-6.0z" fill="none" stroke="#aadc32" stroke-width="0.65"/><path d="M219.7 407.7l3.0 4.9h-6.0z" fill="none" stroke="#28ae80" stroke-width="0.65"/><path d="M153.6 392.7l3.0 4.9h-6.0z" fill="none" stroke="#6ccd5a" stroke-width="0.65"/><path d="M119.2 345.8l3.0 4.9h-6.0z" fill="none" stroke="#7ad151" stroke-width="0.65"/><path d="M252.6 465.3l3.0 4.9h-6.0z" fill="none" stroke="#3aba76" stroke-width="0.65"/><path d="M225.2 417.4l3.0 4.9h-6.0z" fill="none" stroke="#21a685" stroke-width="0.65"/><path d="M282.3 490.5l3.0 4.9h-6.0z" fill="none" stroke="#23a983" stroke-width="0.65"/><path d="M257.6 470.6l3.0 4.9h-6.0z" fill="none" stroke="#2ab07f" stroke-width="0.65"/><path d="M211.5 433.4l3.0 4.9h-6.0z" fill="none" stroke="#40bd72" stroke-width="0.65"/><path d="M103.8 359.7l3.0 4.9h-6.0z" fill="none" stroke="#98d83e" stroke-width="0.65"/><path d="M86.7 340.9l3.0 4.9h-6.0z" fill="none" stroke="#aadc32" stroke-width="0.65"/><path d="M260.7 473.3l3.0 4.9h-6.0z" fill="none" stroke="#25ab82" stroke-width="0.65"/><path d="M144.3 363.5l3.0 4.9h-6.0z" fill="none" stroke="#70cf57" stroke-width="0.65"/><circle cx="64.2" cy="347.6" r="2.3" fill="#d0e11c"/><circle cx="83.3" cy="352.0" r="2.0" fill="#a8db34"/><path d="M166.5 375.2l3.0 4.9h-6.0z" fill="none" stroke="#52c569" stroke-width="0.65"/><path d="M86.4 348.0l3.0 4.9h-6.0z" fill="none" stroke="#90d743" stroke-width="0.65"/><path d="M178.8 405.5l3.0 4.9h-6.0z" fill="none" stroke="#63cb5f" stroke-width="0.65"/><path d="M169.7 376.4l3.0 4.9h-6.0z" fill="none" stroke="#52c569" stroke-width="0.65"/><path d="M93.8 342.4l3.0 4.9h-6.0z" fill="none" stroke="#a8db34" stroke-width="0.65"/><path d="M206.8 397.9l3.0 4.9h-6.0z" fill="none" stroke="#35b779" stroke-width="0.65"/><path d="M127.6 351.1l3.0 4.9h-6.0z" fill="none" stroke="#81d34d" stroke-width="0.65"/><circle cx="75.0" cy="354.3" r="2.0" fill="#cde11d"/><path d="M182.0 382.5l3.0 4.9h-6.0z" fill="none" stroke="#50c46a" stroke-width="0.65"/><circle cx="70.6" cy="344.1" r="2.3" fill="#c8e020"/><path d="M99.1 358.4l3.0 4.9h-6.0z" fill="none" stroke="#98d83e" stroke-width="0.65"/><path d="M125.1 350.5l3.0 4.9h-6.0z" fill="none" stroke="#6ccd5a" stroke-width="0.65"/><path d="M230.0 448.1l3.0 4.9h-6.0z" fill="none" stroke="#3bbb75" stroke-width="0.65"/><path d="M91.8 342.4l3.0 4.9h-6.0z" fill="none" stroke="#cae11f" stroke-width="0.65"/><path d="M154.1 370.5l3.0 4.9h-6.0z" fill="none" stroke="#4cc26c" stroke-width="0.65"/><path d="M234.1 451.5l3.0 4.9h-6.0z" fill="none" stroke="#44bf70" stroke-width="0.65"/><circle cx="64.8" cy="350.4" r="2.3" fill="#f8e621"/><path d="M203.6 395.8l3.0 4.9h-6.0z" fill="none" stroke="#2fb47c" stroke-width="0.65"/><circle cx="67.7" cy="348.4" r="2.3" fill="#e7e419"/><path d="M171.3 371.2l3.0 4.9h-6.0z" fill="none" stroke="#65cb5e" stroke-width="0.65"/><path d="M251.2 460.8l3.0 4.9h-6.0z" fill="none" stroke="#2db27d" stroke-width="0.65"/><path d="M127.1 349.4l3.0 4.9h-6.0z" fill="none" stroke="#81d34d" stroke-width="0.65"/><path d="M113.6 365.3l3.0 4.9h-6.0z" fill="none" stroke="#89d548" stroke-width="0.65"/><path d="M111.6 339.7l3.0 4.9h-6.0z" fill="none" stroke="#7fd34e" stroke-width="0.65"/><path d="M97.7 343.4l3.0 4.9h-6.0z" fill="none" stroke="#95d840" stroke-width="0.65"/><path d="M207.7 397.4l3.0 4.9h-6.0z" fill="none" stroke="#2cb17e" stroke-width="0.65"/><path d="M265.3 480.6l3.0 4.9h-6.0z" fill="none" stroke="#25ac82" stroke-width="0.65"/><path d="M268.4 481.1l3.0 4.9h-6.0z" fill="none" stroke="#21a585" stroke-width="0.65"/><path d="M107.1 357.0l3.0 4.9h-6.0z" fill="none" stroke="#a0da39" stroke-width="0.65"/><circle cx="71.9" cy="348.5" r="2.3" fill="#d2e21b"/><path d="M270.5 485.6l3.0 4.9h-6.0z" fill="none" stroke="#2ab07f" stroke-width="0.65"/><circle cx="76.3" cy="351.1" r="2.0" fill="#b5de2b"/><circle cx="67.0" cy="348.0" r="2.3" fill="#ece51b"/><path d="M142.2 362.6l3.0 4.9h-6.0z" fill="none" stroke="#73d056" stroke-width="0.65"/><path d="M213.5 405.9l3.0 4.9h-6.0z" fill="none" stroke="#29af7f" stroke-width="0.65"/><circle cx="71.4" cy="349.7" r="2.0" fill="#d2e21b"/><path d="M275.5 486.6l3.0 4.9h-6.0z" fill="none" stroke="#22a785" stroke-width="0.65"/><path d="M144.3 380.7l3.0 4.9h-6.0z" fill="none" stroke="#73d056" stroke-width="0.65"/><path d="M222.0 443.5l3.0 4.9h-6.0z" fill="none" stroke="#2eb37c" stroke-width="0.65"/><path d="M203.7 398.2l3.0 4.9h-6.0z" fill="none" stroke="#3fbc73" stroke-width="0.65"/><path d="M106.7 347.4l3.0 4.9h-6.0z" fill="none" stroke="#9bd93c" stroke-width="0.65"/><path d="M106.8 362.1l3.0 4.9h-6.0z" fill="none" stroke="#81d34d" stroke-width="0.65"/><path d="M215.2 436.7l3.0 4.9h-6.0z" fill="none" stroke="#35b779" stroke-width="0.65"/><path d="M211.5 405.8l3.0 4.9h-6.0z" fill="none" stroke="#28ae80" stroke-width="0.65"/><path d="M90.9 347.7l3.0 4.9h-6.0z" fill="none" stroke="#addc30" stroke-width="0.65"/><path d="M246.8 462.8l3.0 4.9h-6.0z" fill="none" stroke="#34b679" stroke-width="0.65"/><circle cx="69.1" cy="349.1" r="2.3" fill="#fbe723"/><path d="M211.7 406.9l3.0 4.9h-6.0z" fill="none" stroke="#2db27d" stroke-width="0.65"/><path d="M132.1 352.9l3.0 4.9h-6.0z" fill="none" stroke="#7cd250" stroke-width="0.65"/><path d="M187.6 405.9l3.0 4.9h-6.0z" fill="none" stroke="#50c46a" stroke-width="0.65"/><path d="M136.6 361.9l3.0 4.9h-6.0z" fill="none" stroke="#63cb5f" stroke-width="0.65"/><path d="M200.0 418.5l3.0 4.9h-6.0z" fill="none" stroke="#4ac16d" stroke-width="0.65"/><circle cx="63.8" cy="342.3" r="2.3" fill="#fde725"/><path d="M155.6 368.5l3.0 4.9h-6.0z" fill="none" stroke="#73d056" stroke-width="0.65"/><path d="M153.7 389.8l3.0 4.9h-6.0z" fill="none" stroke="#67cc5c" stroke-width="0.65"/><circle cx="70.7" cy="348.4" r="2.0" fill="#d2e21b"/><path d="M227.5 444.3l3.0 4.9h-6.0z" fill="none" stroke="#46c06f" stroke-width="0.65"/><circle cx="61.6" cy="346.9" r="2.3" fill="#efe51c"/><path d="M229.5 412.3l3.0 4.9h-6.0z" fill="none" stroke="#24aa83" stroke-width="0.65"/><circle cx="71.6" cy="348.0" r="2.3" fill="#efe51c"/><path d="M123.7 373.3l3.0 4.9h-6.0z" fill="none" stroke="#a2da37" stroke-width="0.65"/><circle cx="84.0" cy="353.5" r="2.0" fill="#9dd93b"/><path d="M117.5 350.5l3.0 4.9h-6.0z" fill="none" stroke="#73d056" stroke-width="0.65"/><path d="M234.8 452.6l3.0 4.9h-6.0z" fill="none" stroke="#38b977" stroke-width="0.65"/><path d="M120.6 348.1l3.0 4.9h-6.0z" fill="none" stroke="#73d056" stroke-width="0.65"/><path d="M194.0 387.6l3.0 4.9h-6.0z" fill="none" stroke="#3dbc74" stroke-width="0.65"/><path d="M145.8 380.1l3.0 4.9h-6.0z" fill="none" stroke="#7ad151" stroke-width="0.65"/><path d="M240.6 461.0l3.0 4.9h-6.0z" fill="none" stroke="#2eb37c" stroke-width="0.65"/><path d="M227.4 413.7l3.0 4.9h-6.0z" fill="none" stroke="#1fa287" stroke-width="0.65"/><circle cx="73.2" cy="346.9" r="2.0" fill="#cae11f"/><path d="M195.1 390.9l3.0 4.9h-6.0z" fill="none" stroke="#25ab82" stroke-width="0.65"/><path d="M223.8 439.9l3.0 4.9h-6.0z" fill="none" stroke="#3bbb75" stroke-width="0.65"/><path d="M170.5 375.0l3.0 4.9h-6.0z" fill="none" stroke="#40bd72" stroke-width="0.65"/><path d="M110.6 366.2l3.0 4.9h-6.0z" fill="none" stroke="#98d83e" stroke-width="0.65"/><path d="M96.9 352.7l3.0 4.9h-6.0z" fill="none" stroke="#a5db36" stroke-width="0.65"/><path d="M114.6 350.7l3.0 4.9h-6.0z" fill="none" stroke="#90d743" stroke-width="0.65"/><path d="M202.8 393.8l3.0 4.9h-6.0z" fill="none" stroke="#2fb47c" stroke-width="0.65"/><path d="M187.3 413.0l3.0 4.9h-6.0z" fill="none" stroke="#58c765" stroke-width="0.65"/><circle cx="65.4" cy="347.8" r="2.3" fill="#eae51a"/><path d="M139.7 378.4l3.0 4.9h-6.0z" fill="none" stroke="#77d153" stroke-width="0.65"/><path d="M151.6 370.2l3.0 4.9h-6.0z" fill="none" stroke="#52c569" stroke-width="0.65"/><path d="M232.1 453.9l3.0 4.9h-6.0z" fill="none" stroke="#34b679" stroke-width="0.65"/><path d="M159.3 370.5l3.0 4.9h-6.0z" fill="none" stroke="#60ca60" stroke-width="0.65"/><path d="M104.5 364.5l3.0 4.9h-6.0z" fill="none" stroke="#86d549" stroke-width="0.65"/><path d="M123.0 349.5l3.0 4.9h-6.0z" fill="none" stroke="#7cd250" stroke-width="0.65"/><path d="M247.4 463.7l3.0 4.9h-6.0z" fill="none" stroke="#28ae80" stroke-width="0.65"/><path d="M212.3 405.2l3.0 4.9h-6.0z" fill="none" stroke="#35b779" stroke-width="0.65"/><path d="M102.2 363.4l3.0 4.9h-6.0z" fill="none" stroke="#9dd93b" stroke-width="0.65"/><path d="M163.9 396.4l3.0 4.9h-6.0z" fill="none" stroke="#58c765" stroke-width="0.65"/><path d="M147.3 386.4l3.0 4.9h-6.0z" fill="none" stroke="#7cd250" stroke-width="0.65"/><circle cx="85.7" cy="353.6" r="2.0" fill="#8ed645"/><circle cx="68.3" cy="351.6" r="2.0" fill="#bddf26"/><path d="M146.6 389.3l3.0 4.9h-6.0z" fill="none" stroke="#7ad151" stroke-width="0.65"/><path d="M177.8 397.5l3.0 4.9h-6.0z" fill="none" stroke="#65cb5e" stroke-width="0.65"/><path d="M129.1 375.4l3.0 4.9h-6.0z" fill="none" stroke="#98d83e" stroke-width="0.65"/><path d="M203.9 430.8l3.0 4.9h-6.0z" fill="none" stroke="#32b67a" stroke-width="0.65"/><path d="M178.6 379.6l3.0 4.9h-6.0z" fill="none" stroke="#4ac16d" stroke-width="0.65"/><path d="M133.8 372.1l3.0 4.9h-6.0z" fill="none" stroke="#7fd34e" stroke-width="0.65"/><path d="M133.3 355.3l3.0 4.9h-6.0z" fill="none" stroke="#89d548" stroke-width="0.65"/><path d="M122.9 352.7l3.0 4.9h-6.0z" fill="none" stroke="#8ed645" stroke-width="0.65"/><path d="M106.2 348.9l3.0 4.9h-6.0z" fill="none" stroke="#77d153" stroke-width="0.65"/><path d="M106.7 356.9l3.0 4.9h-6.0z" fill="none" stroke="#7ad151" stroke-width="0.65"/><path d="M272.5 482.3l3.0 4.9h-6.0z" fill="none" stroke="#2ab07f" stroke-width="0.65"/><path d="M165.1 376.4l3.0 4.9h-6.0z" fill="none" stroke="#5cc863" stroke-width="0.65"/><path d="M226.9 414.3l3.0 4.9h-6.0z" fill="none" stroke="#2db27d" stroke-width="0.65"/><path d="M114.8 367.8l3.0 4.9h-6.0z" fill="none" stroke="#8ed645" stroke-width="0.65"/><circle cx="66.7" cy="342.5" r="2.3" fill="#ece51b"/><path d="M94.7 355.0l3.0 4.9h-6.0z" fill="none" stroke="#98d83e" stroke-width="0.65"/><path d="M229.5 416.5l3.0 4.9h-6.0z" fill="none" stroke="#1e9c89" stroke-width="0.65"/><path d="M237.5 454.9l3.0 4.9h-6.0z" fill="none" stroke="#31b57b" stroke-width="0.65"/><path d="M133.5 354.4l3.0 4.9h-6.0z" fill="none" stroke="#70cf57" stroke-width="0.65"/><path d="M196.8 414.4l3.0 4.9h-6.0z" fill="none" stroke="#56c667" stroke-width="0.65"/><path d="M168.3 397.0l3.0 4.9h-6.0z" fill="none" stroke="#70cf57" stroke-width="0.65"/><path d="M207.2 428.9l3.0 4.9h-6.0z" fill="none" stroke="#3bbb75" stroke-width="0.65"/><path d="M148.9 361.9l3.0 4.9h-6.0z" fill="none" stroke="#60ca60" stroke-width="0.65"/><path d="M228.3 441.7l3.0 4.9h-6.0z" fill="none" stroke="#35b779" stroke-width="0.65"/><path d="M176.6 396.4l3.0 4.9h-6.0z" fill="none" stroke="#5cc863" stroke-width="0.65"/><path d="M109.7 353.3l3.0 4.9h-6.0z" fill="none" stroke="#9dd93b" stroke-width="0.65"/><path d="M264.4 473.8l3.0 4.9h-6.0z" fill="none" stroke="#22a785" stroke-width="0.65"/><path d="M134.6 379.9l3.0 4.9h-6.0z" fill="none" stroke="#7fd34e" stroke-width="0.65"/><path d="M258.3 475.6l3.0 4.9h-6.0z" fill="none" stroke="#23a983" stroke-width="0.65"/><circle cx="71.6" cy="346.7" r="2.3" fill="#d5e21a"/><circle cx="65.7" cy="345.9" r="2.3" fill="#f8e621"/><path d="M235.0 416.6l3.0 4.9h-6.0z" fill="none" stroke="#25ab82" stroke-width="0.65"/><path d="M279.2 495.6l3.0 4.9h-6.0z" fill="none" stroke="#25ac82" stroke-width="0.65"/><circle cx="68.7" cy="345.1" r="2.3" fill="#eae51a"/><path d="M205.7 395.1l3.0 4.9h-6.0z" fill="none" stroke="#38b977" stroke-width="0.65"/><path d="M98.0 346.1l3.0 4.9h-6.0z" fill="none" stroke="#95d840" stroke-width="0.65"/><circle cx="69.4" cy="347.5" r="2.3" fill="#cae11f"/><circle cx="75.3" cy="349.4" r="2.0" fill="#d5e21a"/><circle cx="83.1" cy="353.5" r="2.0" fill="#b2dd2d"/><path d="M233.5 423.2l3.0 4.9h-6.0z" fill="none" stroke="#1f9e89" stroke-width="0.65"/><path d="M187.8 388.4l3.0 4.9h-6.0z" fill="none" stroke="#3aba76" stroke-width="0.65"/><path d="M170.9 392.6l3.0 4.9h-6.0z" fill="none" stroke="#5cc863" stroke-width="0.65"/><path d="M195.1 414.3l3.0 4.9h-6.0z" fill="none" stroke="#5ac864" stroke-width="0.65"/><path d="M138.7 357.8l3.0 4.9h-6.0z" fill="none" stroke="#63cb5f" stroke-width="0.65"/><path d="M217.9 438.9l3.0 4.9h-6.0z" fill="none" stroke="#46c06f" stroke-width="0.65"/><path d="M263.2 470.1l3.0 4.9h-6.0z" fill="none" stroke="#32b67a" stroke-width="0.65"/><path d="M93.7 348.3l3.0 4.9h-6.0z" fill="none" stroke="#addc30" stroke-width="0.65"/><path d="M146.4 362.4l3.0 4.9h-6.0z" fill="none" stroke="#6ccd5a" stroke-width="0.65"/><path d="M214.8 431.9l3.0 4.9h-6.0z" fill="none" stroke="#48c16e" stroke-width="0.65"/><path d="M149.3 385.5l3.0 4.9h-6.0z" fill="none" stroke="#7ad151" stroke-width="0.65"/><path d="M99.8 347.1l3.0 4.9h-6.0z" fill="none" stroke="#a0da39" stroke-width="0.65"/><path d="M99.9 356.4l3.0 4.9h-6.0z" fill="none" stroke="#9dd93b" stroke-width="0.65"/><circle cx="69.0" cy="349.3" r="2.3" fill="#efe51c"/><path d="M134.5 354.3l3.0 4.9h-6.0z" fill="none" stroke="#4ec36b" stroke-width="0.65"/><circle cx="64.8" cy="344.8" r="2.3" fill="#f8e621"/><path d="M203.9 424.9l3.0 4.9h-6.0z" fill="none" stroke="#44bf70" stroke-width="0.65"/><path d="M249.3 466.5l3.0 4.9h-6.0z" fill="none" stroke="#32b67a" stroke-width="0.65"/><circle cx="69.2" cy="343.0" r="2.3" fill="#f1e51d"/><path d="M229.3 454.7l3.0 4.9h-6.0z" fill="none" stroke="#3bbb75" stroke-width="0.65"/><path d="M223.2 407.5l3.0 4.9h-6.0z" fill="none" stroke="#20a386" stroke-width="0.65"/><path d="M208.7 428.3l3.0 4.9h-6.0z" fill="none" stroke="#37b878" stroke-width="0.65"/><path d="M284.5 492.6l3.0 4.9h-6.0z" fill="none" stroke="#22a884" stroke-width="0.65"/><path d="M156.0 391.4l3.0 4.9h-6.0z" fill="none" stroke="#67cc5c" stroke-width="0.65"/><path d="M154.8 393.5l3.0 4.9h-6.0z" fill="none" stroke="#6ccd5a" stroke-width="0.65"/><path d="M174.2 403.4l3.0 4.9h-6.0z" fill="none" stroke="#5ec962" stroke-width="0.65"/><circle cx="86.2" cy="354.2" r="2.0" fill="#84d44b"/><path d="M190.0 409.4l3.0 4.9h-6.0z" fill="none" stroke="#52c569" stroke-width="0.65"/><path d="M279.8 491.2l3.0 4.9h-6.0z" fill="none" stroke="#1f9e89" stroke-width="0.65"/><path d="M126.9 372.0l3.0 4.9h-6.0z" fill="none" stroke="#75d054" stroke-width="0.65"/><path d="M233.7 421.8l3.0 4.9h-6.0z" fill="none" stroke="#21a585" stroke-width="0.65"/><path d="M102.4 345.5l3.0 4.9h-6.0z" fill="none" stroke="#a5db36" stroke-width="0.65"/><path d="M197.0 413.7l3.0 4.9h-6.0z" fill="none" stroke="#46c06f" stroke-width="0.65"/><path d="M109.8 346.2l3.0 4.9h-6.0z" fill="none" stroke="#8ed645" stroke-width="0.65"/><circle cx="67.6" cy="345.6" r="2.3" fill="#dfe318"/><circle cx="72.8" cy="346.9" r="2.3" fill="#e2e418"/><path d="M178.1 379.7l3.0 4.9h-6.0z" fill="none" stroke="#4ac16d" stroke-width="0.65"/><path d="M110.4 347.5l3.0 4.9h-6.0z" fill="none" stroke="#84d44b" stroke-width="0.65"/><path d="M161.6 392.0l3.0 4.9h-6.0z" fill="none" stroke="#56c667" stroke-width="0.65"/><circle cx="60.5" cy="345.4" r="2.3" fill="#fde725"/><circle cx="69.3" cy="346.1" r="2.3" fill="#e2e418"/><circle cx="70.1" cy="349.9" r="2.3" fill="#d0e11c"/><circle cx="63.4" cy="348.1" r="2.3" fill="#f6e620"/><path d="M143.4 385.1l3.0 4.9h-6.0z" fill="none" stroke="#77d153" stroke-width="0.65"/><path d="M147.8 364.9l3.0 4.9h-6.0z" fill="none" stroke="#5cc863" stroke-width="0.65"/><path d="M228.9 415.9l3.0 4.9h-6.0z" fill="none" stroke="#2cb17e" stroke-width="0.65"/><path d="M250.8 468.3l3.0 4.9h-6.0z" fill="none" stroke="#24aa83" stroke-width="0.65"/><path d="M136.4 378.3l3.0 4.9h-6.0z" fill="none" stroke="#65cb5e" stroke-width="0.65"/><path d="M192.6 390.0l3.0 4.9h-6.0z" fill="none" stroke="#3dbc74" stroke-width="0.65"/><path d="M226.1 408.5l3.0 4.9h-6.0z" fill="none" stroke="#22a785" stroke-width="0.65"/><path d="M157.0 368.6l3.0 4.9h-6.0z" fill="none" stroke="#44bf70" stroke-width="0.65"/><path d="M186.1 381.4l3.0 4.9h-6.0z" fill="none" stroke="#31b57b" stroke-width="0.65"/><path d="M131.7 352.5l3.0 4.9h-6.0z" fill="none" stroke="#42be71" stroke-width="0.65"/><path d="M217.9 408.4l3.0 4.9h-6.0z" fill="none" stroke="#2db27d" stroke-width="0.65"/><path d="M106.7 352.3l3.0 4.9h-6.0z" fill="none" stroke="#8bd646" stroke-width="0.65"/><circle cx="72.9" cy="350.8" r="2.0" fill="#c8e020"/><path d="M219.6 436.9l3.0 4.9h-6.0z" fill="none" stroke="#3bbb75" stroke-width="0.65"/><path d="M275.3 488.2l3.0 4.9h-6.0z" fill="none" stroke="#20a486" stroke-width="0.65"/><path d="M267.7 477.8l3.0 4.9h-6.0z" fill="none" stroke="#21a585" stroke-width="0.65"/><path d="M106.1 360.0l3.0 4.9h-6.0z" fill="none" stroke="#84d44b" stroke-width="0.65"/><path d="M194.8 412.3l3.0 4.9h-6.0z" fill="none" stroke="#56c667" stroke-width="0.65"/><path d="M125.3 355.4l3.0 4.9h-6.0z" fill="none" stroke="#67cc5c" stroke-width="0.65"/><circle cx="64.5" cy="346.5" r="2.3" fill="#f8e621"/><circle cx="78.8" cy="354.0" r="2.0" fill="#b8de29"/><path d="M201.8 423.6l3.0 4.9h-6.0z" fill="none" stroke="#37b878" stroke-width="0.65"/><path d="M238.2 452.4l3.0 4.9h-6.0z" fill="none" stroke="#27ad81" stroke-width="0.65"/><path d="M216.2 405.2l3.0 4.9h-6.0z" fill="none" stroke="#32b67a" stroke-width="0.65"/><path d="M95.7 352.8l3.0 4.9h-6.0z" fill="none" stroke="#8bd646" stroke-width="0.65"/><path d="M279.9 491.5l3.0 4.9h-6.0z" fill="none" stroke="#22a884" stroke-width="0.65"/><circle cx="71.1" cy="346.8" r="2.0" fill="#dde318"/><path d="M243.6 464.1l3.0 4.9h-6.0z" fill="none" stroke="#22a884" stroke-width="0.65"/><path d="M151.7 386.5l3.0 4.9h-6.0z" fill="none" stroke="#7ad151" stroke-width="0.65"/><path d="M175.8 382.7l3.0 4.9h-6.0z" fill="none" stroke="#4cc26c" stroke-width="0.65"/><path d="M221.3 438.9l3.0 4.9h-6.0z" fill="none" stroke="#3bbb75" stroke-width="0.65"/><path d="M103.4 358.5l3.0 4.9h-6.0z" fill="none" stroke="#9bd93c" stroke-width="0.65"/><path d="M228.4 441.9l3.0 4.9h-6.0z" fill="none" stroke="#34b679" stroke-width="0.65"/><circle cx="63.8" cy="341.9" r="2.3" fill="#e7e419"/><path d="M156.2 370.7l3.0 4.9h-6.0z" fill="none" stroke="#60ca60" stroke-width="0.65"/><path d="M278.6 492.0l3.0 4.9h-6.0z" fill="none" stroke="#20a486" stroke-width="0.65"/><circle cx="78.6" cy="353.5" r="2.0" fill="#c2df23"/><path d="M231.8 421.1l3.0 4.9h-6.0z" fill="none" stroke="#22a884" stroke-width="0.65"/><path d="M144.4 378.9l3.0 4.9h-6.0z" fill="none" stroke="#86d549" stroke-width="0.65"/><path d="M140.1 355.9l3.0 4.9h-6.0z" fill="none" stroke="#6ece58" stroke-width="0.65"/><path d="M268.5 480.2l3.0 4.9h-6.0z" fill="none" stroke="#24aa83" stroke-width="0.65"/><path d="M220.8 409.4l3.0 4.9h-6.0z" fill="none" stroke="#2cb17e" stroke-width="0.65"/><path d="M185.9 384.7l3.0 4.9h-6.0z" fill="none" stroke="#40bd72" stroke-width="0.65"/><path d="M277.5 488.7l3.0 4.9h-6.0z" fill="none" stroke="#21a685" stroke-width="0.65"/><path d="M100.0 348.6l3.0 4.9h-6.0z" fill="none" stroke="#93d741" stroke-width="0.65"/><path d="M273.3 481.4l3.0 4.9h-6.0z" fill="none" stroke="#20a386" stroke-width="0.65"/><path d="M192.9 413.5l3.0 4.9h-6.0z" fill="none" stroke="#46c06f" stroke-width="0.65"/><path d="M142.8 363.6l3.0 4.9h-6.0z" fill="none" stroke="#77d153" stroke-width="0.65"/><path d="M127.7 374.2l3.0 4.9h-6.0z" fill="none" stroke="#7fd34e" stroke-width="0.65"/><path d="M188.1 406.3l3.0 4.9h-6.0z" fill="none" stroke="#50c46a" stroke-width="0.65"/><path d="M243.3 458.2l3.0 4.9h-6.0z" fill="none" stroke="#31b57b" stroke-width="0.65"/><path d="M165.5 373.6l3.0 4.9h-6.0z" fill="none" stroke="#40bd72" stroke-width="0.65"/><circle cx="199.7" cy="395.4" r="2.4" fill="none" stroke="#1f9f88" stroke-width="0.6"/><circle cx="201.8" cy="398.3" r="2.4" fill="none" stroke="#1f968b" stroke-width="0.6"/><circle cx="202.7" cy="398.5" r="2.4" fill="none" stroke="#1f958b" stroke-width="0.6"/><circle cx="202.2" cy="399.9" r="2.4" fill="none" stroke="#24868e" stroke-width="0.6"/><circle cx="205.3" cy="401.1" r="2.4" fill="none" stroke="#24868e" stroke-width="0.6"/><circle cx="206.7" cy="400.6" r="2.4" fill="none" stroke="#26828e" stroke-width="0.6"/><circle cx="207.3" cy="400.9" r="2.4" fill="none" stroke="#29798e" stroke-width="0.6"/><circle cx="208.3" cy="404.4" r="2.4" fill="none" stroke="#2b748e" stroke-width="0.6"/><circle cx="207.6" cy="403.4" r="2.4" fill="none" stroke="#2c718e" stroke-width="0.6"/><circle cx="210.0" cy="407.7" r="2.4" fill="none" stroke="#30698e" stroke-width="0.6"/><circle cx="223.7" cy="411.1" r="2.4" fill="none" stroke="#1f968b" stroke-width="0.6"/><circle cx="224.2" cy="409.9" r="2.4" fill="none" stroke="#1e9d89" stroke-width="0.6"/><circle cx="225.8" cy="415.7" r="2.4" fill="none" stroke="#1f958b" stroke-width="0.6"/><circle cx="224.4" cy="413.2" r="2.4" fill="none" stroke="#218e8d" stroke-width="0.6"/><circle cx="225.6" cy="417.5" r="2.4" fill="none" stroke="#25838e" stroke-width="0.6"/><circle cx="227.9" cy="416.8" r="2.4" fill="none" stroke="#26828e" stroke-width="0.6"/><circle cx="227.2" cy="417.2" r="2.4" fill="none" stroke="#297b8e" stroke-width="0.6"/><circle cx="231.4" cy="419.3" r="2.4" fill="none" stroke="#2c738e" stroke-width="0.6"/><circle cx="232.0" cy="419.0" r="2.4" fill="none" stroke="#2d718e" stroke-width="0.6"/><circle cx="233.5" cy="419.9" r="2.4" fill="none" stroke="#31688e" stroke-width="0.6"/><circle cx="226.5" cy="450.0" r="2.4" fill="none" stroke="#1e9c89" stroke-width="0.6"/><circle cx="228.0" cy="448.9" r="2.4" fill="none" stroke="#1e9b8a" stroke-width="0.6"/><circle cx="228.9" cy="450.7" r="2.4" fill="none" stroke="#228d8d" stroke-width="0.6"/><circle cx="229.8" cy="447.9" r="2.4" fill="none" stroke="#228b8d" stroke-width="0.6"/><circle cx="231.9" cy="453.9" r="2.4" fill="none" stroke="#25838e" stroke-width="0.6"/><circle cx="232.1" cy="454.6" r="2.4" fill="none" stroke="#24868e" stroke-width="0.6"/><circle cx="234.6" cy="457.8" r="2.4" fill="none" stroke="#287c8e" stroke-width="0.6"/><circle cx="236.2" cy="459.0" r="2.4" fill="none" stroke="#2a768e" stroke-width="0.6"/><circle cx="236.7" cy="457.6" r="2.4" fill="none" stroke="#2e6d8e" stroke-width="0.6"/><circle cx="237.6" cy="456.6" r="2.4" fill="none" stroke="#2a778e" stroke-width="0.6"/><circle cx="250.8" cy="469.6" r="2.4" fill="none" stroke="#21a685" stroke-width="0.6"/><circle cx="252.3" cy="470.3" r="2.4" fill="none" stroke="#228d8d" stroke-width="0.6"/><circle cx="253.8" cy="470.4" r="2.4" fill="none" stroke="#1f9a8a" stroke-width="0.6"/><circle cx="255.4" cy="475.3" r="2.4" fill="none" stroke="#238a8d" stroke-width="0.6"/><circle cx="255.1" cy="474.3" r="2.4" fill="none" stroke="#24868e" stroke-width="0.6"/><circle cx="258.3" cy="476.6" r="2.4" fill="none" stroke="#23898e" stroke-width="0.6"/><circle cx="258.0" cy="475.2" r="2.4" fill="none" stroke="#287c8e" stroke-width="0.6"/><circle cx="259.7" cy="473.3" r="2.4" fill="none" stroke="#2c738e" stroke-width="0.6"/><circle cx="260.9" cy="476.4" r="2.4" fill="none" stroke="#2a788e" stroke-width="0.6"/><circle cx="261.8" cy="475.6" r="2.4" fill="none" stroke="#2f6c8e" stroke-width="0.6"/><circle cx="268.3" cy="481.0" r="2.4" fill="none" stroke="#1e9c89" stroke-width="0.6"/><circle cx="267.7" cy="485.0" r="2.4" fill="none" stroke="#21918c" stroke-width="0.6"/><circle cx="269.2" cy="480.5" r="2.4" fill="none" stroke="#20928c" stroke-width="0.6"/><circle cx="271.1" cy="481.8" r="2.4" fill="none" stroke="#23898e" stroke-width="0.6"/><circle cx="270.1" cy="484.7" r="2.4" fill="none" stroke="#26818e" stroke-width="0.6"/><circle cx="271.8" cy="483.2" r="2.4" fill="none" stroke="#26818e" stroke-width="0.6"/><circle cx="272.3" cy="485.6" r="2.4" fill="none" stroke="#287d8e" stroke-width="0.6"/><circle cx="271.7" cy="486.6" r="2.4" fill="none" stroke="#2e6e8e" stroke-width="0.6"/><circle cx="271.6" cy="487.9" r="2.4" fill="none" stroke="#2c738e" stroke-width="0.6"/><circle cx="272.9" cy="485.8" r="2.4" fill="none" stroke="#2d718e" stroke-width="0.6"/><circle cx="276.8" cy="488.6" r="2.4" fill="none" stroke="#22a884" stroke-width="0.6"/><circle cx="276.3" cy="492.7" r="2.4" fill="none" stroke="#1f988b" stroke-width="0.6"/><circle cx="276.6" cy="489.6" r="2.4" fill="none" stroke="#1f958b" stroke-width="0.6"/><circle cx="277.2" cy="490.5" r="2.4" fill="none" stroke="#23888e" stroke-width="0.6"/><circle cx="277.8" cy="492.8" r="2.4" fill="none" stroke="#21918c" stroke-width="0.6"/><circle cx="280.3" cy="492.7" r="2.4" fill="none" stroke="#287d8e" stroke-width="0.6"/><circle cx="278.3" cy="490.8" r="2.4" fill="none" stroke="#287c8e" stroke-width="0.6"/><circle cx="277.3" cy="493.0" r="2.4" fill="none" stroke="#287d8e" stroke-width="0.6"/><circle cx="278.5" cy="494.5" r="2.4" fill="none" stroke="#2c738e" stroke-width="0.6"/><circle cx="278.7" cy="495.0" r="2.4" fill="none" stroke="#2f6b8e" stroke-width="0.6"/><circle cx="211.6" cy="404.9" r="2.8" fill="#460a5d"/><circle cx="212.1" cy="405.8" r="2.8" fill="#470d60"/><circle cx="211.5" cy="406.0" r="2.8" fill="#471063"/><circle cx="212.9" cy="405.9" r="2.8" fill="#46075a"/><circle cx="213.3" cy="407.7" r="2.8" fill="#481f70"/><circle cx="212.9" cy="408.2" r="2.8" fill="#481f70"/><circle cx="213.5" cy="409.3" r="2.8" fill="#443983"/><circle cx="213.2" cy="409.6" r="2.8" fill="#472a7a"/><circle cx="214.3" cy="410.4" r="2.8" fill="#433d84"/><circle cx="215.2" cy="411.6" r="2.8" fill="#46307e"/><circle cx="214.9" cy="411.8" r="2.8" fill="#433e85"/><circle cx="214.5" cy="412.1" r="2.8" fill="#433d84"/><circle cx="211.1" cy="404.6" r="2.4" fill="none" stroke="#440154" stroke-width="0.6"/><circle cx="211.7" cy="405.2" r="2.4" fill="none" stroke="#440154" stroke-width="0.6"/><circle cx="213.0" cy="405.0" r="2.4" fill="none" stroke="#440154" stroke-width="0.6"/><circle cx="211.9" cy="405.1" r="2.4" fill="none" stroke="#481769" stroke-width="0.6"/><circle cx="211.8" cy="406.8" r="2.4" fill="none" stroke="#482677" stroke-width="0.6"/><circle cx="212.7" cy="407.9" r="2.4" fill="none" stroke="#482576" stroke-width="0.6"/><circle cx="213.8" cy="407.4" r="2.4" fill="none" stroke="#481a6c" stroke-width="0.6"/><circle cx="213.9" cy="408.2" r="2.4" fill="none" stroke="#482576" stroke-width="0.6"/><circle cx="213.8" cy="409.2" r="2.4" fill="none" stroke="#46327e" stroke-width="0.6"/><circle cx="213.3" cy="409.3" r="2.4" fill="none" stroke="#481f70" stroke-width="0.6"/><circle cx="214.3" cy="408.8" r="2.4" fill="none" stroke="#453781" stroke-width="0.6"/><circle cx="214.4" cy="409.5" r="2.4" fill="none" stroke="#46327e" stroke-width="0.6"/><circle cx="213.2" cy="409.5" r="2.4" fill="none" stroke="#482677" stroke-width="0.6"/><circle cx="214.8" cy="410.5" r="2.4" fill="none" stroke="#3d4d8a" stroke-width="0.6"/><circle cx="214.5" cy="410.5" r="2.4" fill="none" stroke="#414487" stroke-width="0.6"/><circle cx="214.3" cy="411.5" r="2.4" fill="none" stroke="#3d4d8a" stroke-width="0.6"/><circle cx="215.4" cy="412.5" r="2.4" fill="none" stroke="#3c4f8a" stroke-width="0.6"/><circle cx="215.6" cy="411.9" r="2.4" fill="none" stroke="#3e4a89" stroke-width="0.6"/><circle cx="234.5" cy="422.3" r="2.8" fill="#450457"/><circle cx="235.0" cy="423.7" r="2.8" fill="#460b5e"/><circle cx="235.3" cy="423.0" r="2.8" fill="#450457"/><circle cx="235.7" cy="424.2" r="2.8" fill="#482173"/><circle cx="235.4" cy="424.2" r="2.8" fill="#482173"/><circle cx="235.7" cy="425.4" r="2.8" fill="#481f70"/><circle cx="236.5" cy="426.6" r="2.8" fill="#482374"/><circle cx="236.2" cy="426.2" r="2.8" fill="#471365"/><circle cx="236.5" cy="426.7" r="2.8" fill="#482979"/><circle cx="237.6" cy="428.1" r="2.8" fill="#482576"/><circle cx="237.2" cy="428.8" r="2.8" fill="#424186"/><circle cx="237.9" cy="429.3" r="2.8" fill="#424086"/><circle cx="234.1" cy="420.8" r="2.4" fill="none" stroke="#440154" stroke-width="0.6"/><circle cx="234.4" cy="421.7" r="2.4" fill="none" stroke="#440154" stroke-width="0.6"/><circle cx="234.7" cy="423.8" r="2.4" fill="none" stroke="#440154" stroke-width="0.6"/><circle cx="234.6" cy="424.4" r="2.4" fill="none" stroke="#46085c" stroke-width="0.6"/><circle cx="236.3" cy="424.1" r="2.4" fill="none" stroke="#470d60" stroke-width="0.6"/><circle cx="235.7" cy="424.3" r="2.4" fill="none" stroke="#48186a" stroke-width="0.6"/><circle cx="235.9" cy="425.7" r="2.4" fill="none" stroke="#433d84" stroke-width="0.6"/><circle cx="235.9" cy="425.1" r="2.4" fill="none" stroke="#481f70" stroke-width="0.6"/><circle cx="235.2" cy="425.3" r="2.4" fill="none" stroke="#481a6c" stroke-width="0.6"/><circle cx="236.4" cy="426.0" r="2.4" fill="none" stroke="#482979" stroke-width="0.6"/><circle cx="236.7" cy="426.8" r="2.4" fill="none" stroke="#46327e" stroke-width="0.6"/><circle cx="237.0" cy="427.0" r="2.4" fill="none" stroke="#472c7a" stroke-width="0.6"/><circle cx="236.2" cy="427.7" r="2.4" fill="none" stroke="#453781" stroke-width="0.6"/><circle cx="236.2" cy="427.4" r="2.4" fill="none" stroke="#424086" stroke-width="0.6"/><circle cx="237.5" cy="428.2" r="2.4" fill="none" stroke="#433e85" stroke-width="0.6"/><circle cx="236.5" cy="428.5" r="2.4" fill="none" stroke="#433d84" stroke-width="0.6"/><circle cx="237.3" cy="428.8" r="2.4" fill="none" stroke="#3e4989" stroke-width="0.6"/><circle cx="237.0" cy="429.9" r="2.4" fill="none" stroke="#3c4f8a" stroke-width="0.6"/><circle cx="239.7" cy="460.0" r="2.9" fill="#450457"/><circle cx="239.8" cy="461.4" r="2.9" fill="#440154"/><circle cx="240.8" cy="461.4" r="2.9" fill="#450559"/><circle cx="240.7" cy="462.1" r="2.9" fill="#471365"/><circle cx="242.3" cy="463.4" r="2.9" fill="#482071"/><circle cx="242.6" cy="462.6" r="2.9" fill="#482576"/><circle cx="242.8" cy="463.5" r="2.9" fill="#481d6f"/><circle cx="244.7" cy="464.9" r="2.9" fill="#481a6c"/><circle cx="244.5" cy="465.0" r="2.9" fill="#482979"/><circle cx="245.8" cy="465.5" r="2.9" fill="#443b84"/><circle cx="245.6" cy="466.3" r="2.9" fill="#453581"/><circle cx="246.7" cy="466.6" r="2.9" fill="#443b84"/><circle cx="247.0" cy="467.6" r="2.9" fill="#443a83"/><circle cx="247.4" cy="467.3" r="2.9" fill="#414287"/><circle cx="239.4" cy="459.8" r="2.4" fill="none" stroke="#470d60" stroke-width="0.6"/><circle cx="239.2" cy="460.6" r="2.4" fill="none" stroke="#440154" stroke-width="0.6"/><circle cx="240.3" cy="460.7" r="2.4" fill="none" stroke="#481668" stroke-width="0.6"/><circle cx="239.8" cy="461.6" r="2.4" fill="none" stroke="#440154" stroke-width="0.6"/><circle cx="241.6" cy="462.0" r="2.4" fill="none" stroke="#470e61" stroke-width="0.6"/><circle cx="241.3" cy="462.8" r="2.4" fill="none" stroke="#46075a" stroke-width="0.6"/><circle cx="241.7" cy="462.8" r="2.4" fill="none" stroke="#481d6f" stroke-width="0.6"/><circle cx="243.1" cy="462.8" r="2.4" fill="none" stroke="#472a7a" stroke-width="0.6"/><circle cx="242.2" cy="463.8" r="2.4" fill="none" stroke="#48186a" stroke-width="0.6"/><circle cx="243.4" cy="463.5" r="2.4" fill="none" stroke="#482878" stroke-width="0.6"/><circle cx="243.5" cy="462.7" r="2.4" fill="none" stroke="#482475" stroke-width="0.6"/><circle cx="244.4" cy="464.3" r="2.4" fill="none" stroke="#482878" stroke-width="0.6"/><circle cx="244.2" cy="464.6" r="2.4" fill="none" stroke="#46307e" stroke-width="0.6"/><circle cx="245.2" cy="465.7" r="2.4" fill="none" stroke="#472f7d" stroke-width="0.6"/><circle cx="245.0" cy="466.2" r="2.4" fill="none" stroke="#463480" stroke-width="0.6"/><circle cx="245.4" cy="467.0" r="2.4" fill="none" stroke="#433e85" stroke-width="0.6"/><circle cx="245.7" cy="466.6" r="2.4" fill="none" stroke="#443b84" stroke-width="0.6"/><circle cx="247.1" cy="466.8" r="2.4" fill="none" stroke="#3c508b" stroke-width="0.6"/><circle cx="246.8" cy="466.1" r="2.4" fill="none" stroke="#3e4a89" stroke-width="0.6"/><circle cx="247.6" cy="467.4" r="2.4" fill="none" stroke="#453882" stroke-width="0.6"/><circle cx="265.2" cy="478.1" r="2.8" fill="#440154"/><circle cx="264.9" cy="479.0" r="2.8" fill="#46075a"/><circle cx="265.8" cy="480.0" r="2.8" fill="#470d60"/><circle cx="266.4" cy="479.6" r="2.8" fill="#482071"/><circle cx="265.9" cy="481.1" r="2.8" fill="#482475"/><circle cx="267.3" cy="480.4" r="2.8" fill="#472c7a"/><circle cx="267.1" cy="481.2" r="2.8" fill="#472d7b"/><circle cx="267.6" cy="482.5" r="2.8" fill="#414487"/><circle cx="265.2" cy="477.9" r="2.4" fill="none" stroke="#440154" stroke-width="0.6"/><circle cx="265.2" cy="478.8" r="2.4" fill="none" stroke="#450457" stroke-width="0.6"/><circle cx="265.5" cy="478.5" r="2.4" fill="none" stroke="#450457" stroke-width="0.6"/><circle cx="265.7" cy="478.8" r="2.4" fill="none" stroke="#482475" stroke-width="0.6"/><circle cx="265.8" cy="478.9" r="2.4" fill="none" stroke="#481769" stroke-width="0.6"/><circle cx="265.7" cy="479.5" r="2.4" fill="none" stroke="#472f7d" stroke-width="0.6"/><circle cx="265.7" cy="480.2" r="2.4" fill="none" stroke="#46307e" stroke-width="0.6"/><circle cx="266.1" cy="479.9" r="2.4" fill="none" stroke="#472d7b" stroke-width="0.6"/><circle cx="266.1" cy="479.8" r="2.4" fill="none" stroke="#482374" stroke-width="0.6"/><circle cx="266.8" cy="482.1" r="2.4" fill="none" stroke="#472c7a" stroke-width="0.6"/><circle cx="267.4" cy="481.1" r="2.4" fill="none" stroke="#433e85" stroke-width="0.6"/><circle cx="266.6" cy="482.5" r="2.4" fill="none" stroke="#3f4788" stroke-width="0.6"/><circle cx="266.9" cy="482.3" r="2.4" fill="none" stroke="#443b84" stroke-width="0.6"/><circle cx="267.6" cy="482.6" r="2.4" fill="none" stroke="#414287" stroke-width="0.6"/><circle cx="274.4" cy="486.7" r="2.8" fill="#481b6d"/><circle cx="274.9" cy="488.1" r="2.8" fill="#481a6c"/><circle cx="275.0" cy="489.0" r="2.8" fill="#471164"/><circle cx="274.9" cy="488.2" r="2.8" fill="#482475"/><circle cx="275.5" cy="490.1" r="2.8" fill="#482173"/><circle cx="276.9" cy="489.7" r="2.8" fill="#453781"/><circle cx="276.3" cy="490.8" r="2.8" fill="#472e7c"/><circle cx="276.7" cy="491.1" r="2.8" fill="#404688"/><circle cx="273.7" cy="487.5" r="2.4" fill="none" stroke="#440154" stroke-width="0.6"/><circle cx="274.2" cy="487.3" r="2.4" fill="none" stroke="#440154" stroke-width="0.6"/><circle cx="274.7" cy="488.4" r="2.4" fill="none" stroke="#470d60" stroke-width="0.6"/><circle cx="275.0" cy="487.6" r="2.4" fill="none" stroke="#48186a" stroke-width="0.6"/><circle cx="275.7" cy="489.3" r="2.4" fill="none" stroke="#471164" stroke-width="0.6"/><circle cx="274.7" cy="489.3" r="2.4" fill="none" stroke="#481b6d" stroke-width="0.6"/><circle cx="275.3" cy="488.4" r="2.4" fill="none" stroke="#48186a" stroke-width="0.6"/><circle cx="275.5" cy="489.4" r="2.4" fill="none" stroke="#472a7a" stroke-width="0.6"/><circle cx="275.6" cy="488.9" r="2.4" fill="none" stroke="#481b6d" stroke-width="0.6"/><circle cx="275.9" cy="489.7" r="2.4" fill="none" stroke="#443983" stroke-width="0.6"/><circle cx="277.0" cy="490.8" r="2.4" fill="none" stroke="#3f4889" stroke-width="0.6"/><circle cx="276.9" cy="490.2" r="2.4" fill="none" stroke="#433d84" stroke-width="0.6"/><circle cx="276.2" cy="490.8" r="2.4" fill="none" stroke="#404588" stroke-width="0.6"/><circle cx="277.3" cy="491.4" r="2.4" fill="none" stroke="#3d4d8a" stroke-width="0.6"/><circle cx="280.0" cy="493.8" r="2.8" fill="#470e61"/><circle cx="280.0" cy="495.2" r="2.8" fill="#440154"/><circle cx="280.0" cy="496.0" r="2.8" fill="#481467"/><circle cx="280.2" cy="496.0" r="2.8" fill="#471164"/><circle cx="280.9" cy="496.6" r="2.8" fill="#472a7a"/><circle cx="281.5" cy="497.0" r="2.8" fill="#482979"/><circle cx="281.7" cy="497.7" r="2.8" fill="#482374"/><circle cx="282.4" cy="499.0" r="2.8" fill="#443983"/><circle cx="283.5" cy="499.1" r="2.8" fill="#46307e"/><circle cx="282.7" cy="498.2" r="2.8" fill="#433d84"/><circle cx="280.5" cy="494.0" r="2.4" fill="none" stroke="#440154" stroke-width="0.6"/><circle cx="279.4" cy="494.3" r="2.4" fill="none" stroke="#440154" stroke-width="0.6"/><circle cx="280.3" cy="494.9" r="2.4" fill="none" stroke="#440256" stroke-width="0.6"/><circle cx="279.9" cy="495.3" r="2.4" fill="none" stroke="#471063" stroke-width="0.6"/><circle cx="280.5" cy="496.3" r="2.4" fill="none" stroke="#481d6f" stroke-width="0.6"/><circle cx="280.4" cy="496.3" r="2.4" fill="none" stroke="#482677" stroke-width="0.6"/><circle cx="282.1" cy="495.7" r="2.4" fill="none" stroke="#481769" stroke-width="0.6"/><circle cx="280.1" cy="497.2" r="2.4" fill="none" stroke="#472c7a" stroke-width="0.6"/><circle cx="281.0" cy="496.6" r="2.4" fill="none" stroke="#472a7a" stroke-width="0.6"/><circle cx="281.0" cy="497.2" r="2.4" fill="none" stroke="#443b84" stroke-width="0.6"/><circle cx="282.1" cy="498.3" r="2.4" fill="none" stroke="#3f4788" stroke-width="0.6"/><circle cx="282.8" cy="498.4" r="2.4" fill="none" stroke="#423f85" stroke-width="0.6"/><circle cx="282.1" cy="496.9" r="2.4" fill="none" stroke="#453781" stroke-width="0.6"/><circle cx="282.4" cy="499.8" r="2.4" fill="none" stroke="#3d4e8a" stroke-width="0.6"/><circle cx="283.4" cy="499.4" r="2.4" fill="none" stroke="#453581" stroke-width="0.6"/><circle cx="282.7" cy="498.0" r="2.4" fill="none" stroke="#404688" stroke-width="0.6"/><line x1="57.4" y1="337.5" x2="280" y2="529.5" stroke="#7e3a77" stroke-width="2.3" stroke-dasharray="6.6 7.7" stroke-dashoffset="0.9"/><line x1="63.2" y1="336.2" x2="282.8" y2="475" stroke="#1b2a6e" stroke-width="2.3"/></g><rect x="52.5" y="325.5" width="241.0" height="203.5" fill="none" stroke="#8c8c8c" stroke-width="1.1"/><line x1="67.5" y1="529.0" x2="67.5" y2="531.8" stroke="#555" stroke-width="0.9"/><text x="67.5" y="540.6" class="tk" text-anchor="middle">0</text><line x1="126.2" y1="529.0" x2="126.2" y2="531.8" stroke="#555" stroke-width="0.9"/><text x="126.2" y="540.6" class="tk" text-anchor="middle">25</text><line x1="184.9" y1="529.0" x2="184.9" y2="531.8" stroke="#555" stroke-width="0.9"/><text x="184.9" y="540.6" class="tk" text-anchor="middle">50</text><line x1="243.6" y1="529.0" x2="243.6" y2="531.8" stroke="#555" stroke-width="0.9"/><text x="243.6" y="540.6" class="tk" text-anchor="middle">75</text><line x1="49.7" y1="346.4" x2="52.5" y2="346.4" stroke="#555" stroke-width="0.9"/><text x="48.3" y="349.7" class="tk" text-anchor="end">0</text><line x1="49.7" y1="397.1" x2="52.5" y2="397.1" stroke="#555" stroke-width="0.9"/><text x="48.3" y="400.4" class="tk" text-anchor="end">-25</text><line x1="49.7" y1="447.8" x2="52.5" y2="447.8" stroke="#555" stroke-width="0.9"/><text x="48.3" y="451.1" class="tk" text-anchor="end">-50</text><line x1="49.7" y1="498.6" x2="52.5" y2="498.6" stroke="#555" stroke-width="0.9"/><text x="48.3" y="501.9" class="tk" text-anchor="end">-75</text><circle cx="228.2" cy="349.7" r="9.4" fill="#f2deef" stroke="#b279aa" stroke-width="1.1"/><text x="228.2" y="354.4" text-anchor="middle" class="dg" style="font-size:13px;fill:#8a3d80;stroke:#8a3d80;stroke-width:0.55px">2</text><text x="243.3" y="353.2" text-anchor="middle" style="font-size:9px;fill:#222">+</text><circle cx="259.2" cy="349.7" r="9.4" fill="#e2ecf5" stroke="#6f93b6" stroke-width="1.1"/><text x="259.2" y="354.4" text-anchor="middle" class="dg" style="font-size:13px;fill:#355f8a;stroke:#355f8a;stroke-width:0.55px">3</text><rect x="212.4" y="363.6" width="61.2" height="26.4" rx="2" fill="#8aa4e2" stroke="#333" stroke-width="0.8"/><text x="243" y="373.3" class="bx" text-anchor="middle">BOATS</text><text x="243" y="386.3" class="bx" text-anchor="middle">Slope = -0.73</text><circle cx="125.6" cy="415.2" r="9.3" fill="#f2deef" stroke="#b279aa" stroke-width="1.1"/><text x="125.6" y="419.9" text-anchor="middle" class="dg" style="font-size:13px;fill:#8a3d80;stroke:#8a3d80;stroke-width:0.55px">2</text><rect x="101.7" y="431" width="48.8" height="13.4" rx="2" fill="#a57cf2" stroke="#333" stroke-width="0.8"/><text x="126.1" y="441.2" class="bx" text-anchor="middle">Slope = -1</text><text x="173.4" y="551.9" class="ax" text-anchor="middle">Biomass loss (%)</text><text transform="translate(28.5,425.6) rotate(-90)" class="ax" text-anchor="middle">Change in C export (%)</text><text x="20.5" y="337" class="pl">c</text><g fill="#7c3411" stroke="#5e2508" stroke-width="0.7"><ellipse cx="75.3" cy="489" rx="8.2" ry="6.7" transform="rotate(30 75.3 489)"/><ellipse cx="83.8" cy="499.5" rx="6.9" ry="6.6" transform="rotate(40 83.8 499.5)"/><ellipse cx="90.6" cy="508.6" rx="7.4" ry="5.1" transform="rotate(52 90.6 508.6)"/></g><g fill="#7c3411"><ellipse cx="75.3" cy="489" rx="7.8" ry="6.3" transform="rotate(30 75.3 489)"/><ellipse cx="83.8" cy="499.5" rx="6.5" ry="6.2" transform="rotate(40 83.8 499.5)"/><polygon points="74,494 80,492.5 86,503 82,505"/><polygon points="84,505 89,501.5 94,511 89,512"/></g><rect x="335.3" y="325.5" width="248.1" height="203.3" fill="#fff"/><line x1="380.6" y1="325.5" x2="380.6" y2="528.8" stroke="#f4f4f4" stroke-width="0.6"/><line x1="440.2" y1="325.5" x2="440.2" y2="528.8" stroke="#f4f4f4" stroke-width="0.6"/><line x1="499.9" y1="325.5" x2="499.9" y2="528.8" stroke="#f4f4f4" stroke-width="0.6"/><line x1="559.6" y1="325.5" x2="559.6" y2="528.8" stroke="#f4f4f4" stroke-width="0.6"/><line x1="335.3" y1="367.3" x2="583.4" y2="367.3" stroke="#f4f4f4" stroke-width="0.6"/><line x1="335.3" y1="416.4" x2="583.4" y2="416.4" stroke="#f4f4f4" stroke-width="0.6"/><line x1="335.3" y1="465.5" x2="583.4" y2="465.5" stroke="#f4f4f4" stroke-width="0.6"/><line x1="335.3" y1="514.6" x2="583.4" y2="514.6" stroke="#f4f4f4" stroke-width="0.6"/><line x1="350.7" y1="325.5" x2="350.7" y2="528.8" stroke="#ebebeb" stroke-width="0.9"/><line x1="410.4" y1="325.5" x2="410.4" y2="528.8" stroke="#ebebeb" stroke-width="0.9"/><line x1="470.1" y1="325.5" x2="470.1" y2="528.8" stroke="#ebebeb" stroke-width="0.9"/><line x1="529.8" y1="325.5" x2="529.8" y2="528.8" stroke="#ebebeb" stroke-width="0.9"/><line x1="335.3" y1="342.7" x2="583.4" y2="342.7" stroke="#ebebeb" stroke-width="0.9"/><line x1="335.3" y1="391.8" x2="583.4" y2="391.8" stroke="#ebebeb" stroke-width="0.9"/><line x1="335.3" y1="440.9" x2="583.4" y2="440.9" stroke="#ebebeb" stroke-width="0.9"/><line x1="335.3" y1="490.1" x2="583.4" y2="490.1" stroke="#ebebeb" stroke-width="0.9"/><g clip-path="url(#cld)"><polygon points="343,334 572,480 572,517 343,337" fill="#f3f1bf"/><path d="M510.0 446.6l3.0 4.9h-6.0z" fill="none" stroke="#3dbc74" stroke-width="0.65"/><path d="M496.5 436.9l3.0 4.9h-6.0z" fill="none" stroke="#40bd72" stroke-width="0.65"/><path d="M469.0 418.7l3.0 4.9h-6.0z" fill="none" stroke="#54c568" stroke-width="0.65"/><path d="M539.9 461.8l3.0 4.9h-6.0z" fill="none" stroke="#28ae80" stroke-width="0.65"/><path d="M383.8 358.7l3.0 4.9h-6.0z" fill="none" stroke="#a5db36" stroke-width="0.65"/><path d="M467.5 413.2l3.0 4.9h-6.0z" fill="none" stroke="#54c568" stroke-width="0.65"/><path d="M523.2 446.1l3.0 4.9h-6.0z" fill="none" stroke="#2fb47c" stroke-width="0.65"/><path d="M419.4 387.2l3.0 4.9h-6.0z" fill="none" stroke="#7ad151" stroke-width="0.65"/><path d="M480.4 426.1l3.0 4.9h-6.0z" fill="none" stroke="#4ac16d" stroke-width="0.65"/><path d="M388.9 362.8l3.0 4.9h-6.0z" fill="none" stroke="#9dd93b" stroke-width="0.65"/><path d="M364.9 349.4l3.0 4.9h-6.0z" fill="none" stroke="#b5de2b" stroke-width="0.65"/><path d="M472.2 420.8l3.0 4.9h-6.0z" fill="none" stroke="#4cc26c" stroke-width="0.65"/><path d="M456.7 416.8l3.0 4.9h-6.0z" fill="none" stroke="#6ccd5a" stroke-width="0.65"/><circle cx="344.6" cy="336.4" r="2.4" fill="#f8e621"/><circle cx="344.6" cy="337.4" r="2.4" fill="#eae51a"/><path d="M439.7 401.3l3.0 4.9h-6.0z" fill="none" stroke="#70cf57" stroke-width="0.65"/><path d="M447.4 399.4l3.0 4.9h-6.0z" fill="none" stroke="#67cc5c" stroke-width="0.65"/><path d="M384.9 354.8l3.0 4.9h-6.0z" fill="none" stroke="#90d743" stroke-width="0.65"/><path d="M414.7 374.0l3.0 4.9h-6.0z" fill="none" stroke="#7fd34e" stroke-width="0.65"/><path d="M502.9 424.8l3.0 4.9h-6.0z" fill="none" stroke="#32b67a" stroke-width="0.65"/><path d="M407.0 370.7l3.0 4.9h-6.0z" fill="none" stroke="#9bd93c" stroke-width="0.65"/><path d="M543.6 459.0l3.0 4.9h-6.0z" fill="none" stroke="#20a386" stroke-width="0.65"/><path d="M534.6 455.1l3.0 4.9h-6.0z" fill="none" stroke="#38b977" stroke-width="0.65"/><path d="M410.7 372.6l3.0 4.9h-6.0z" fill="none" stroke="#77d153" stroke-width="0.65"/><path d="M441.9 398.3l3.0 4.9h-6.0z" fill="none" stroke="#6ece58" stroke-width="0.65"/><path d="M463.7 408.4l3.0 4.9h-6.0z" fill="none" stroke="#65cb5e" stroke-width="0.65"/><circle cx="362.3" cy="351.5" r="2.4" fill="#bade28"/><path d="M361.4 343.7l3.0 4.9h-6.0z" fill="none" stroke="#bade28" stroke-width="0.65"/><path d="M460.3 398.7l3.0 4.9h-6.0z" fill="none" stroke="#58c765" stroke-width="0.65"/><path d="M506.4 432.5l3.0 4.9h-6.0z" fill="none" stroke="#48c16e" stroke-width="0.65"/><path d="M453.6 410.5l3.0 4.9h-6.0z" fill="none" stroke="#60ca60" stroke-width="0.65"/><path d="M570.2 478.1l3.0 4.9h-6.0z" fill="none" stroke="#22a884" stroke-width="0.65"/><path d="M471.5 406.4l3.0 4.9h-6.0z" fill="none" stroke="#46c06f" stroke-width="0.65"/><path d="M444.5 393.6l3.0 4.9h-6.0z" fill="none" stroke="#70cf57" stroke-width="0.65"/><path d="M399.6 362.7l3.0 4.9h-6.0z" fill="none" stroke="#89d548" stroke-width="0.65"/><path d="M506.4 448.5l3.0 4.9h-6.0z" fill="none" stroke="#48c16e" stroke-width="0.65"/><path d="M388.7 367.4l3.0 4.9h-6.0z" fill="none" stroke="#95d840" stroke-width="0.65"/><path d="M561.8 468.1l3.0 4.9h-6.0z" fill="none" stroke="#21a685" stroke-width="0.65"/><path d="M476.2 421.7l3.0 4.9h-6.0z" fill="none" stroke="#56c667" stroke-width="0.65"/><path d="M357.7 340.9l3.0 4.9h-6.0z" fill="none" stroke="#a0da39" stroke-width="0.65"/><path d="M535.1 456.6l3.0 4.9h-6.0z" fill="none" stroke="#3bbb75" stroke-width="0.65"/><circle cx="348.0" cy="338.4" r="2.4" fill="#f6e620"/><path d="M425.3 376.0l3.0 4.9h-6.0z" fill="none" stroke="#81d34d" stroke-width="0.65"/><path d="M557.0 469.2l3.0 4.9h-6.0z" fill="none" stroke="#31b57b" stroke-width="0.65"/><circle cx="345.7" cy="336.7" r="2.4" fill="#f8e621"/><path d="M471.0 419.7l3.0 4.9h-6.0z" fill="none" stroke="#4ac16d" stroke-width="0.65"/><path d="M411.3 381.7l3.0 4.9h-6.0z" fill="none" stroke="#89d548" stroke-width="0.65"/><path d="M436.9 396.1l3.0 4.9h-6.0z" fill="none" stroke="#6ece58" stroke-width="0.65"/><path d="M523.9 455.2l3.0 4.9h-6.0z" fill="none" stroke="#37b878" stroke-width="0.65"/><path d="M559.7 459.2l3.0 4.9h-6.0z" fill="none" stroke="#27ad81" stroke-width="0.65"/><path d="M526.4 450.8l3.0 4.9h-6.0z" fill="none" stroke="#40bd72" stroke-width="0.65"/><path d="M408.7 377.1l3.0 4.9h-6.0z" fill="none" stroke="#86d549" stroke-width="0.65"/><path d="M385.5 363.2l3.0 4.9h-6.0z" fill="none" stroke="#a2da37" stroke-width="0.65"/><path d="M351.2 340.2l3.0 4.9h-6.0z" fill="none" stroke="#c2df23" stroke-width="0.65"/><path d="M428.0 390.8l3.0 4.9h-6.0z" fill="none" stroke="#7cd250" stroke-width="0.65"/><path d="M548.1 467.5l3.0 4.9h-6.0z" fill="none" stroke="#2db27d" stroke-width="0.65"/><path d="M458.9 405.9l3.0 4.9h-6.0z" fill="none" stroke="#5ac864" stroke-width="0.65"/><circle cx="360.9" cy="347.5" r="2.4" fill="#c5e021"/><path d="M478.5 417.3l3.0 4.9h-6.0z" fill="none" stroke="#54c568" stroke-width="0.65"/><path d="M440.5 390.3l3.0 4.9h-6.0z" fill="none" stroke="#67cc5c" stroke-width="0.65"/><circle cx="352.1" cy="342.7" r="2.4" fill="#dfe318"/><path d="M553.8 469.5l3.0 4.9h-6.0z" fill="none" stroke="#29af7f" stroke-width="0.65"/><path d="M388.8 365.3l3.0 4.9h-6.0z" fill="none" stroke="#8bd646" stroke-width="0.65"/><path d="M520.5 456.1l3.0 4.9h-6.0z" fill="none" stroke="#34b679" stroke-width="0.65"/><path d="M512.6 444.0l3.0 4.9h-6.0z" fill="none" stroke="#37b878" stroke-width="0.65"/><path d="M553.9 472.4l3.0 4.9h-6.0z" fill="none" stroke="#2cb17e" stroke-width="0.65"/><path d="M359.5 341.8l3.0 4.9h-6.0z" fill="none" stroke="#addc30" stroke-width="0.65"/><path d="M563.6 467.8l3.0 4.9h-6.0z" fill="none" stroke="#2eb37c" stroke-width="0.65"/><path d="M372.0 351.1l3.0 4.9h-6.0z" fill="none" stroke="#bade28" stroke-width="0.65"/><path d="M431.9 395.7l3.0 4.9h-6.0z" fill="none" stroke="#6ece58" stroke-width="0.65"/><path d="M440.2 394.4l3.0 4.9h-6.0z" fill="none" stroke="#75d054" stroke-width="0.65"/><path d="M357.5 340.8l3.0 4.9h-6.0z" fill="none" stroke="#c0df25" stroke-width="0.65"/><path d="M363.6 343.9l3.0 4.9h-6.0z" fill="none" stroke="#b5de2b" stroke-width="0.65"/><path d="M475.3 428.0l3.0 4.9h-6.0z" fill="none" stroke="#5ec962" stroke-width="0.65"/><path d="M352.4 337.1l3.0 4.9h-6.0z" fill="none" stroke="#bade28" stroke-width="0.65"/><circle cx="349.4" cy="336.4" r="2.4" fill="#f8e621"/><circle cx="349.3" cy="338.8" r="2.4" fill="#f1e51d"/><path d="M568.4 485.0l3.0 4.9h-6.0z" fill="none" stroke="#1fa287" stroke-width="0.65"/><path d="M500.0 434.0l3.0 4.9h-6.0z" fill="none" stroke="#4cc26c" stroke-width="0.65"/><path d="M565.7 470.5l3.0 4.9h-6.0z" fill="none" stroke="#21a685" stroke-width="0.65"/><path d="M463.4 399.8l3.0 4.9h-6.0z" fill="none" stroke="#5cc863" stroke-width="0.65"/><path d="M549.0 451.4l3.0 4.9h-6.0z" fill="none" stroke="#27ad81" stroke-width="0.65"/><path d="M550.0 469.9l3.0 4.9h-6.0z" fill="none" stroke="#2ab07f" stroke-width="0.65"/><path d="M521.3 446.0l3.0 4.9h-6.0z" fill="none" stroke="#44bf70" stroke-width="0.65"/><path d="M373.6 349.7l3.0 4.9h-6.0z" fill="none" stroke="#9bd93c" stroke-width="0.65"/><path d="M433.0 386.8l3.0 4.9h-6.0z" fill="none" stroke="#70cf57" stroke-width="0.65"/><path d="M422.7 377.2l3.0 4.9h-6.0z" fill="none" stroke="#73d056" stroke-width="0.65"/><path d="M488.1 420.5l3.0 4.9h-6.0z" fill="none" stroke="#54c568" stroke-width="0.65"/><path d="M511.5 436.8l3.0 4.9h-6.0z" fill="none" stroke="#3aba76" stroke-width="0.65"/><path d="M528.7 438.9l3.0 4.9h-6.0z" fill="none" stroke="#34b679" stroke-width="0.65"/><path d="M520.6 446.0l3.0 4.9h-6.0z" fill="none" stroke="#3fbc73" stroke-width="0.65"/><path d="M429.6 391.3l3.0 4.9h-6.0z" fill="none" stroke="#6ccd5a" stroke-width="0.65"/><path d="M351.1 339.2l3.0 4.9h-6.0z" fill="none" stroke="#c0df25" stroke-width="0.65"/><path d="M553.6 472.7l3.0 4.9h-6.0z" fill="none" stroke="#22a785" stroke-width="0.65"/><path d="M365.3 343.9l3.0 4.9h-6.0z" fill="none" stroke="#cae11f" stroke-width="0.65"/><circle cx="347.7" cy="337.4" r="2.4" fill="#ece51b"/><circle cx="352.2" cy="339.0" r="2.4" fill="#e2e418"/><path d="M380.5 358.4l3.0 4.9h-6.0z" fill="none" stroke="#8bd646" stroke-width="0.65"/><path d="M489.0 433.6l3.0 4.9h-6.0z" fill="none" stroke="#42be71" stroke-width="0.65"/><path d="M424.9 393.3l3.0 4.9h-6.0z" fill="none" stroke="#7cd250" stroke-width="0.65"/><circle cx="359.3" cy="347.8" r="2.4" fill="#d2e21b"/><path d="M353.5 339.6l3.0 4.9h-6.0z" fill="none" stroke="#b2dd2d" stroke-width="0.65"/><path d="M485.0 430.3l3.0 4.9h-6.0z" fill="none" stroke="#40bd72" stroke-width="0.65"/><path d="M565.5 472.0l3.0 4.9h-6.0z" fill="none" stroke="#26ad81" stroke-width="0.65"/><circle cx="347.2" cy="338.9" r="2.4" fill="#f4e61e"/><path d="M403.5 365.8l3.0 4.9h-6.0z" fill="none" stroke="#84d44b" stroke-width="0.65"/><circle cx="358.0" cy="346.8" r="2.4" fill="#c8e020"/><path d="M516.9 438.3l3.0 4.9h-6.0z" fill="none" stroke="#3aba76" stroke-width="0.65"/><path d="M459.1 410.7l3.0 4.9h-6.0z" fill="none" stroke="#5ec962" stroke-width="0.65"/><path d="M387.9 359.6l3.0 4.9h-6.0z" fill="none" stroke="#a5db36" stroke-width="0.65"/><path d="M408.0 366.6l3.0 4.9h-6.0z" fill="none" stroke="#7cd250" stroke-width="0.65"/><circle cx="353.2" cy="342.9" r="2.4" fill="#e7e419"/><path d="M474.5 422.8l3.0 4.9h-6.0z" fill="none" stroke="#4ec36b" stroke-width="0.65"/><path d="M434.0 390.7l3.0 4.9h-6.0z" fill="none" stroke="#69cd5b" stroke-width="0.65"/><circle cx="342.7" cy="338.4" r="2.4" fill="#e2e418"/><path d="M406.1 377.9l3.0 4.9h-6.0z" fill="none" stroke="#8ed645" stroke-width="0.65"/><path d="M513.9 456.5l3.0 4.9h-6.0z" fill="none" stroke="#40bd72" stroke-width="0.65"/><path d="M516.5 449.8l3.0 4.9h-6.0z" fill="none" stroke="#3bbb75" stroke-width="0.65"/><path d="M484.0 430.6l3.0 4.9h-6.0z" fill="none" stroke="#46c06f" stroke-width="0.65"/><path d="M564.7 461.1l3.0 4.9h-6.0z" fill="none" stroke="#23a983" stroke-width="0.65"/><path d="M432.9 386.5l3.0 4.9h-6.0z" fill="none" stroke="#6ece58" stroke-width="0.65"/><path d="M396.9 364.2l3.0 4.9h-6.0z" fill="none" stroke="#9bd93c" stroke-width="0.65"/><path d="M513.0 446.9l3.0 4.9h-6.0z" fill="none" stroke="#48c16e" stroke-width="0.65"/><path d="M449.3 397.6l3.0 4.9h-6.0z" fill="none" stroke="#69cd5b" stroke-width="0.65"/><path d="M537.9 460.5l3.0 4.9h-6.0z" fill="none" stroke="#34b679" stroke-width="0.65"/><path d="M395.1 362.8l3.0 4.9h-6.0z" fill="none" stroke="#a8db34" stroke-width="0.65"/><circle cx="356.8" cy="345.9" r="2.4" fill="#bade28"/><path d="M507.7 436.8l3.0 4.9h-6.0z" fill="none" stroke="#3aba76" stroke-width="0.65"/><path d="M412.6 373.2l3.0 4.9h-6.0z" fill="none" stroke="#8ed645" stroke-width="0.65"/><path d="M372.8 354.7l3.0 4.9h-6.0z" fill="none" stroke="#c0df25" stroke-width="0.65"/><path d="M508.6 441.1l3.0 4.9h-6.0z" fill="none" stroke="#56c667" stroke-width="0.65"/><path d="M399.1 359.5l3.0 4.9h-6.0z" fill="none" stroke="#86d549" stroke-width="0.65"/><circle cx="358.0" cy="346.4" r="2.4" fill="#cae11f"/><circle cx="351.4" cy="340.8" r="2.4" fill="#d0e11c"/><path d="M506.4 440.6l3.0 4.9h-6.0z" fill="none" stroke="#48c16e" stroke-width="0.65"/><path d="M530.6 468.6l3.0 4.9h-6.0z" fill="none" stroke="#40bd72" stroke-width="0.65"/><path d="M459.5 408.2l3.0 4.9h-6.0z" fill="none" stroke="#67cc5c" stroke-width="0.65"/><circle cx="355.9" cy="342.7" r="2.4" fill="#dfe318"/><path d="M574.0 475.0l3.0 4.9h-6.0z" fill="none" stroke="#1e9d89" stroke-width="0.65"/><path d="M516.8 447.7l3.0 4.9h-6.0z" fill="none" stroke="#3aba76" stroke-width="0.65"/><path d="M414.0 382.7l3.0 4.9h-6.0z" fill="none" stroke="#65cb5e" stroke-width="0.65"/><path d="M548.8 461.8l3.0 4.9h-6.0z" fill="none" stroke="#2ab07f" stroke-width="0.65"/><path d="M437.1 387.6l3.0 4.9h-6.0z" fill="none" stroke="#81d34d" stroke-width="0.65"/><path d="M472.4 417.4l3.0 4.9h-6.0z" fill="none" stroke="#5cc863" stroke-width="0.65"/><path d="M536.9 461.9l3.0 4.9h-6.0z" fill="none" stroke="#37b878" stroke-width="0.65"/><path d="M439.1 390.5l3.0 4.9h-6.0z" fill="none" stroke="#73d056" stroke-width="0.65"/><path d="M560.9 462.6l3.0 4.9h-6.0z" fill="none" stroke="#25ac82" stroke-width="0.65"/><path d="M398.4 374.4l3.0 4.9h-6.0z" fill="none" stroke="#9bd93c" stroke-width="0.65"/><path d="M525.2 447.9l3.0 4.9h-6.0z" fill="none" stroke="#32b67a" stroke-width="0.65"/><path d="M476.7 423.9l3.0 4.9h-6.0z" fill="none" stroke="#56c667" stroke-width="0.65"/><path d="M488.1 418.5l3.0 4.9h-6.0z" fill="none" stroke="#60ca60" stroke-width="0.65"/><path d="M414.6 383.5l3.0 4.9h-6.0z" fill="none" stroke="#81d34d" stroke-width="0.65"/><path d="M564.2 478.5l3.0 4.9h-6.0z" fill="none" stroke="#23a983" stroke-width="0.65"/><path d="M533.6 447.4l3.0 4.9h-6.0z" fill="none" stroke="#2fb47c" stroke-width="0.65"/><path d="M420.8 379.3l3.0 4.9h-6.0z" fill="none" stroke="#75d054" stroke-width="0.65"/><circle cx="358.1" cy="345.2" r="2.4" fill="#cde11d"/><path d="M545.3 458.3l3.0 4.9h-6.0z" fill="none" stroke="#21a685" stroke-width="0.65"/><path d="M429.7 383.6l3.0 4.9h-6.0z" fill="none" stroke="#75d054" stroke-width="0.65"/><path d="M351.1 335.0l3.0 4.9h-6.0z" fill="none" stroke="#bddf26" stroke-width="0.65"/><path d="M482.1 424.7l3.0 4.9h-6.0z" fill="none" stroke="#65cb5e" stroke-width="0.65"/><path d="M425.7 392.3l3.0 4.9h-6.0z" fill="none" stroke="#70cf57" stroke-width="0.65"/><path d="M514.7 453.9l3.0 4.9h-6.0z" fill="none" stroke="#42be71" stroke-width="0.65"/><path d="M489.6 428.7l3.0 4.9h-6.0z" fill="none" stroke="#56c667" stroke-width="0.65"/><circle cx="351.7" cy="341.4" r="2.4" fill="#dde318"/><path d="M456.5 412.4l3.0 4.9h-6.0z" fill="none" stroke="#77d153" stroke-width="0.65"/><path d="M496.4 439.7l3.0 4.9h-6.0z" fill="none" stroke="#44bf70" stroke-width="0.65"/><circle cx="351.1" cy="342.9" r="2.4" fill="#f8e621"/><path d="M473.7 414.3l3.0 4.9h-6.0z" fill="none" stroke="#65cb5e" stroke-width="0.65"/><path d="M452.8 407.1l3.0 4.9h-6.0z" fill="none" stroke="#67cc5c" stroke-width="0.65"/><path d="M533.6 459.4l3.0 4.9h-6.0z" fill="none" stroke="#2ab07f" stroke-width="0.65"/><path d="M436.5 398.3l3.0 4.9h-6.0z" fill="none" stroke="#6ccd5a" stroke-width="0.65"/><path d="M486.4 424.8l3.0 4.9h-6.0z" fill="none" stroke="#42be71" stroke-width="0.65"/><path d="M492.2 438.6l3.0 4.9h-6.0z" fill="none" stroke="#46c06f" stroke-width="0.65"/><path d="M357.3 338.9l3.0 4.9h-6.0z" fill="none" stroke="#b8de29" stroke-width="0.65"/><circle cx="362.8" cy="347.6" r="2.4" fill="#b5de2b"/><path d="M505.9 435.1l3.0 4.9h-6.0z" fill="none" stroke="#3aba76" stroke-width="0.65"/><circle cx="362.0" cy="350.3" r="2.4" fill="#addc30"/><path d="M447.4 390.4l3.0 4.9h-6.0z" fill="none" stroke="#73d056" stroke-width="0.65"/><path d="M372.1 345.5l3.0 4.9h-6.0z" fill="none" stroke="#b8de29" stroke-width="0.65"/><circle cx="353.2" cy="342.6" r="2.4" fill="#d0e11c"/><circle cx="361.2" cy="348.6" r="2.4" fill="#d0e11c"/><circle cx="362.5" cy="350.7" r="2.4" fill="#bddf26"/><circle cx="343.3" cy="337.4" r="2.4" fill="#fde725"/><circle cx="354.4" cy="342.9" r="2.4" fill="#d0e11c"/><path d="M572.8 474.8l3.0 4.9h-6.0z" fill="none" stroke="#26ad81" stroke-width="0.65"/><path d="M378.4 349.0l3.0 4.9h-6.0z" fill="none" stroke="#9dd93b" stroke-width="0.65"/><path d="M550.5 475.2l3.0 4.9h-6.0z" fill="none" stroke="#22a884" stroke-width="0.65"/><path d="M472.4 414.9l3.0 4.9h-6.0z" fill="none" stroke="#4ac16d" stroke-width="0.65"/><path d="M422.5 397.4l3.0 4.9h-6.0z" fill="none" stroke="#8bd646" stroke-width="0.65"/><path d="M405.0 362.5l3.0 4.9h-6.0z" fill="none" stroke="#90d743" stroke-width="0.65"/><path d="M360.0 339.0l3.0 4.9h-6.0z" fill="none" stroke="#c0df25" stroke-width="0.65"/><path d="M524.1 456.2l3.0 4.9h-6.0z" fill="none" stroke="#3fbc73" stroke-width="0.65"/><path d="M384.1 358.2l3.0 4.9h-6.0z" fill="none" stroke="#9dd93b" stroke-width="0.65"/><path d="M465.8 405.0l3.0 4.9h-6.0z" fill="none" stroke="#6ccd5a" stroke-width="0.65"/><path d="M455.3 406.5l3.0 4.9h-6.0z" fill="none" stroke="#63cb5f" stroke-width="0.65"/><path d="M404.3 371.4l3.0 4.9h-6.0z" fill="none" stroke="#9bd93c" stroke-width="0.65"/><circle cx="342.9" cy="336.2" r="2.4" fill="#eae51a"/><path d="M467.7 410.7l3.0 4.9h-6.0z" fill="none" stroke="#60ca60" stroke-width="0.65"/><circle cx="349.9" cy="340.4" r="2.4" fill="#dfe318"/><path d="M434.5 402.8l3.0 4.9h-6.0z" fill="none" stroke="#77d153" stroke-width="0.65"/><path d="M516.6 443.2l3.0 4.9h-6.0z" fill="none" stroke="#38b977" stroke-width="0.65"/><path d="M457.7 404.2l3.0 4.9h-6.0z" fill="none" stroke="#7ad151" stroke-width="0.65"/><circle cx="351.9" cy="342.2" r="2.4" fill="#dfe318"/><path d="M459.1 409.3l3.0 4.9h-6.0z" fill="none" stroke="#69cd5b" stroke-width="0.65"/><path d="M540.2 454.1l3.0 4.9h-6.0z" fill="none" stroke="#2cb17e" stroke-width="0.65"/><path d="M422.6 382.2l3.0 4.9h-6.0z" fill="none" stroke="#84d44b" stroke-width="0.65"/><path d="M407.3 376.5l3.0 4.9h-6.0z" fill="none" stroke="#86d549" stroke-width="0.65"/><path d="M459.7 400.0l3.0 4.9h-6.0z" fill="none" stroke="#73d056" stroke-width="0.65"/><path d="M361.6 340.6l3.0 4.9h-6.0z" fill="none" stroke="#cae11f" stroke-width="0.65"/><path d="M404.4 371.5l3.0 4.9h-6.0z" fill="none" stroke="#8bd646" stroke-width="0.65"/><path d="M430.3 391.5l3.0 4.9h-6.0z" fill="none" stroke="#89d548" stroke-width="0.65"/><path d="M447.1 395.9l3.0 4.9h-6.0z" fill="none" stroke="#81d34d" stroke-width="0.65"/><circle cx="362.4" cy="348.2" r="2.4" fill="#b0dd2f"/><path d="M555.0 459.3l3.0 4.9h-6.0z" fill="none" stroke="#23a983" stroke-width="0.65"/><circle cx="347.1" cy="339.4" r="2.4" fill="#e7e419"/><path d="M384.1 356.4l3.0 4.9h-6.0z" fill="none" stroke="#aadc32" stroke-width="0.65"/><path d="M464.4 412.9l3.0 4.9h-6.0z" fill="none" stroke="#54c568" stroke-width="0.65"/><circle cx="358.2" cy="345.8" r="2.4" fill="#e2e418"/><path d="M450.9 397.1l3.0 4.9h-6.0z" fill="none" stroke="#5ec962" stroke-width="0.65"/><path d="M444.2 405.5l3.0 4.9h-6.0z" fill="none" stroke="#6ece58" stroke-width="0.65"/><path d="M392.4 360.4l3.0 4.9h-6.0z" fill="none" stroke="#a8db34" stroke-width="0.65"/><path d="M445.6 391.5l3.0 4.9h-6.0z" fill="none" stroke="#7ad151" stroke-width="0.65"/><path d="M399.1 365.0l3.0 4.9h-6.0z" fill="none" stroke="#a2da37" stroke-width="0.65"/><path d="M536.5 461.3l3.0 4.9h-6.0z" fill="none" stroke="#35b779" stroke-width="0.65"/><path d="M441.1 391.4l3.0 4.9h-6.0z" fill="none" stroke="#81d34d" stroke-width="0.65"/><path d="M382.5 358.3l3.0 4.9h-6.0z" fill="none" stroke="#93d741" stroke-width="0.65"/><path d="M560.7 471.7l3.0 4.9h-6.0z" fill="none" stroke="#1fa187" stroke-width="0.65"/><path d="M436.9 398.4l3.0 4.9h-6.0z" fill="none" stroke="#5ec962" stroke-width="0.65"/><path d="M441.1 417.4l3.0 4.9h-6.0z" fill="none" stroke="#5cc863" stroke-width="0.65"/><path d="M432.4 379.9l3.0 4.9h-6.0z" fill="none" stroke="#90d743" stroke-width="0.65"/><path d="M537.0 465.9l3.0 4.9h-6.0z" fill="none" stroke="#2db27d" stroke-width="0.65"/><path d="M370.1 345.8l3.0 4.9h-6.0z" fill="none" stroke="#b0dd2f" stroke-width="0.65"/><path d="M569.8 469.7l3.0 4.9h-6.0z" fill="none" stroke="#25ac82" stroke-width="0.65"/><path d="M372.8 355.5l3.0 4.9h-6.0z" fill="none" stroke="#90d743" stroke-width="0.65"/><path d="M494.0 434.3l3.0 4.9h-6.0z" fill="none" stroke="#4ac16d" stroke-width="0.65"/><path d="M452.6 404.8l3.0 4.9h-6.0z" fill="none" stroke="#67cc5c" stroke-width="0.65"/><path d="M530.5 455.9l3.0 4.9h-6.0z" fill="none" stroke="#40bd72" stroke-width="0.65"/><circle cx="358.3" cy="345.5" r="2.4" fill="#c0df25"/><circle cx="356.9" cy="346.4" r="2.4" fill="#eae51a"/><path d="M536.3 448.6l3.0 4.9h-6.0z" fill="none" stroke="#2eb37c" stroke-width="0.65"/><path d="M379.1 358.2l3.0 4.9h-6.0z" fill="none" stroke="#a8db34" stroke-width="0.65"/><path d="M365.6 347.9l3.0 4.9h-6.0z" fill="none" stroke="#b5de2b" stroke-width="0.65"/><path d="M521.8 455.7l3.0 4.9h-6.0z" fill="none" stroke="#38b977" stroke-width="0.65"/><path d="M353.6 337.9l3.0 4.9h-6.0z" fill="none" stroke="#bade28" stroke-width="0.65"/><path d="M390.9 361.4l3.0 4.9h-6.0z" fill="none" stroke="#86d549" stroke-width="0.65"/><path d="M369.3 346.1l3.0 4.9h-6.0z" fill="none" stroke="#b2dd2d" stroke-width="0.65"/><path d="M420.5 374.5l3.0 4.9h-6.0z" fill="none" stroke="#7ad151" stroke-width="0.65"/><path d="M487.5 412.2l3.0 4.9h-6.0z" fill="none" stroke="#70cf57" stroke-width="0.65"/><path d="M493.4 437.8l3.0 4.9h-6.0z" fill="none" stroke="#40bd72" stroke-width="0.65"/><circle cx="361.0" cy="350.5" r="2.4" fill="#cae11f"/><path d="M461.9 414.2l3.0 4.9h-6.0z" fill="none" stroke="#65cb5e" stroke-width="0.65"/><circle cx="355.9" cy="343.1" r="2.4" fill="#cde11d"/><path d="M564.1 482.2l3.0 4.9h-6.0z" fill="none" stroke="#29af7f" stroke-width="0.65"/><path d="M532.5 467.1l3.0 4.9h-6.0z" fill="none" stroke="#2cb17e" stroke-width="0.65"/><path d="M379.2 351.0l3.0 4.9h-6.0z" fill="none" stroke="#98d83e" stroke-width="0.65"/><path d="M536.3 470.7l3.0 4.9h-6.0z" fill="none" stroke="#31b57b" stroke-width="0.65"/><path d="M482.7 420.3l3.0 4.9h-6.0z" fill="none" stroke="#44bf70" stroke-width="0.65"/><path d="M405.6 366.6l3.0 4.9h-6.0z" fill="none" stroke="#93d741" stroke-width="0.65"/><path d="M451.1 402.0l3.0 4.9h-6.0z" fill="none" stroke="#75d054" stroke-width="0.65"/><path d="M464.8 415.3l3.0 4.9h-6.0z" fill="none" stroke="#4ac16d" stroke-width="0.65"/><path d="M401.0 364.7l3.0 4.9h-6.0z" fill="none" stroke="#8ed645" stroke-width="0.65"/><path d="M386.2 353.9l3.0 4.9h-6.0z" fill="none" stroke="#9bd93c" stroke-width="0.65"/><path d="M479.5 424.2l3.0 4.9h-6.0z" fill="none" stroke="#6ece58" stroke-width="0.65"/><path d="M549.3 465.1l3.0 4.9h-6.0z" fill="none" stroke="#24aa83" stroke-width="0.65"/><circle cx="349.2" cy="340.8" r="2.4" fill="#e5e419"/><path d="M418.8 377.9l3.0 4.9h-6.0z" fill="none" stroke="#7fd34e" stroke-width="0.65"/><path d="M538.1 461.4l3.0 4.9h-6.0z" fill="none" stroke="#2eb37c" stroke-width="0.65"/><path d="M365.8 340.8l3.0 4.9h-6.0z" fill="none" stroke="#b2dd2d" stroke-width="0.65"/><path d="M443.2 392.0l3.0 4.9h-6.0z" fill="none" stroke="#73d056" stroke-width="0.65"/><circle cx="360.6" cy="349.9" r="2.4" fill="#b5de2b"/><path d="M392.3 364.1l3.0 4.9h-6.0z" fill="none" stroke="#93d741" stroke-width="0.65"/><path d="M554.1 468.1l3.0 4.9h-6.0z" fill="none" stroke="#2db27d" stroke-width="0.65"/><path d="M473.6 430.3l3.0 4.9h-6.0z" fill="none" stroke="#56c667" stroke-width="0.65"/><path d="M515.2 462.0l3.0 4.9h-6.0z" fill="none" stroke="#48c16e" stroke-width="0.65"/><path d="M463.7 413.6l3.0 4.9h-6.0z" fill="none" stroke="#54c568" stroke-width="0.65"/><path d="M527.3 447.6l3.0 4.9h-6.0z" fill="none" stroke="#38b977" stroke-width="0.65"/><path d="M394.1 360.9l3.0 4.9h-6.0z" fill="none" stroke="#a0da39" stroke-width="0.65"/><path d="M515.6 430.8l3.0 4.9h-6.0z" fill="none" stroke="#31b57b" stroke-width="0.65"/><path d="M481.3 422.7l3.0 4.9h-6.0z" fill="none" stroke="#60ca60" stroke-width="0.65"/><path d="M377.1 348.8l3.0 4.9h-6.0z" fill="none" stroke="#b0dd2f" stroke-width="0.65"/><path d="M546.5 478.3l3.0 4.9h-6.0z" fill="none" stroke="#28ae80" stroke-width="0.65"/><path d="M486.2 435.0l3.0 4.9h-6.0z" fill="none" stroke="#58c765" stroke-width="0.65"/><path d="M385.1 357.1l3.0 4.9h-6.0z" fill="none" stroke="#b5de2b" stroke-width="0.65"/><circle cx="360.0" cy="345.4" r="2.4" fill="#bddf26"/><path d="M409.6 375.6l3.0 4.9h-6.0z" fill="none" stroke="#7fd34e" stroke-width="0.65"/><path d="M352.3 336.1l3.0 4.9h-6.0z" fill="none" stroke="#dde318" stroke-width="0.65"/><path d="M539.9 453.5l3.0 4.9h-6.0z" fill="none" stroke="#26ad81" stroke-width="0.65"/><path d="M415.2 372.5l3.0 4.9h-6.0z" fill="none" stroke="#8ed645" stroke-width="0.65"/><circle cx="356.4" cy="344.6" r="2.4" fill="#ece51b"/><path d="M480.8 428.6l3.0 4.9h-6.0z" fill="none" stroke="#58c765" stroke-width="0.65"/><path d="M561.5 461.0l3.0 4.9h-6.0z" fill="none" stroke="#22a884" stroke-width="0.65"/><circle cx="353.8" cy="344.3" r="2.4" fill="#c2df23"/><path d="M416.8 382.8l3.0 4.9h-6.0z" fill="none" stroke="#95d840" stroke-width="0.65"/><path d="M426.7 388.9l3.0 4.9h-6.0z" fill="none" stroke="#7fd34e" stroke-width="0.65"/><path d="M369.0 357.9l3.0 4.9h-6.0z" fill="none" stroke="#b5de2b" stroke-width="0.65"/><circle cx="349.2" cy="339.6" r="2.4" fill="#eae51a"/><circle cx="346.9" cy="335.0" r="2.4" fill="#fde725"/><circle cx="353.6" cy="342.9" r="2.4" fill="#c8e020"/><circle cx="352.5" cy="344.7" r="2.4" fill="#d2e21b"/><path d="M422.5 377.3l3.0 4.9h-6.0z" fill="none" stroke="#70cf57" stroke-width="0.65"/><path d="M525.1 448.6l3.0 4.9h-6.0z" fill="none" stroke="#2fb47c" stroke-width="0.65"/><circle cx="347.0" cy="336.9" r="2.4" fill="#fde725"/><path d="M568.1 476.9l3.0 4.9h-6.0z" fill="none" stroke="#24aa83" stroke-width="0.65"/><circle cx="343.9" cy="339.5" r="2.4" fill="#fde725"/><path d="M369.7 350.1l3.0 4.9h-6.0z" fill="none" stroke="#86d549" stroke-width="0.65"/><path d="M374.3 352.8l3.0 4.9h-6.0z" fill="none" stroke="#9dd93b" stroke-width="0.65"/><path d="M395.4 366.9l3.0 4.9h-6.0z" fill="none" stroke="#84d44b" stroke-width="0.65"/><circle cx="353.0" cy="341.5" r="2.4" fill="#e7e419"/><path d="M457.7 405.9l3.0 4.9h-6.0z" fill="none" stroke="#6ece58" stroke-width="0.65"/><path d="M367.2 342.7l3.0 4.9h-6.0z" fill="none" stroke="#a8db34" stroke-width="0.65"/><circle cx="345.0" cy="338.7" r="2.4" fill="#fde725"/><path d="M503.1 434.7l3.0 4.9h-6.0z" fill="none" stroke="#3bbb75" stroke-width="0.65"/><path d="M555.3 467.0l3.0 4.9h-6.0z" fill="none" stroke="#26ad81" stroke-width="0.65"/><path d="M397.4 363.6l3.0 4.9h-6.0z" fill="none" stroke="#93d741" stroke-width="0.65"/><path d="M393.1 364.1l3.0 4.9h-6.0z" fill="none" stroke="#addc30" stroke-width="0.65"/><path d="M403.7 372.3l3.0 4.9h-6.0z" fill="none" stroke="#8ed645" stroke-width="0.65"/><path d="M445.0 400.0l3.0 4.9h-6.0z" fill="none" stroke="#63cb5f" stroke-width="0.65"/><path d="M491.4 431.6l3.0 4.9h-6.0z" fill="none" stroke="#52c569" stroke-width="0.65"/><path d="M403.0 366.8l3.0 4.9h-6.0z" fill="none" stroke="#8ed645" stroke-width="0.65"/><path d="M485.1 429.1l3.0 4.9h-6.0z" fill="none" stroke="#60ca60" stroke-width="0.65"/><path d="M434.8 385.1l3.0 4.9h-6.0z" fill="none" stroke="#7cd250" stroke-width="0.65"/><path d="M490.3 422.1l3.0 4.9h-6.0z" fill="none" stroke="#46c06f" stroke-width="0.65"/><circle cx="358.1" cy="346.7" r="2.4" fill="#cae11f"/><path d="M488.7 424.4l3.0 4.9h-6.0z" fill="none" stroke="#50c46a" stroke-width="0.65"/><circle cx="355.2" cy="343.8" r="2.4" fill="#d2e21b"/><path d="M500.2 422.0l3.0 4.9h-6.0z" fill="none" stroke="#48c16e" stroke-width="0.65"/><path d="M383.7 350.9l3.0 4.9h-6.0z" fill="none" stroke="#a0da39" stroke-width="0.65"/><path d="M408.4 377.7l3.0 4.9h-6.0z" fill="none" stroke="#8bd646" stroke-width="0.65"/><path d="M357.6 344.1l3.0 4.9h-6.0z" fill="none" stroke="#b0dd2f" stroke-width="0.65"/><path d="M485.8 434.7l3.0 4.9h-6.0z" fill="none" stroke="#60ca60" stroke-width="0.65"/><path d="M539.4 459.1l3.0 4.9h-6.0z" fill="none" stroke="#28ae80" stroke-width="0.65"/><path d="M496.4 431.9l3.0 4.9h-6.0z" fill="none" stroke="#4ac16d" stroke-width="0.65"/><path d="M398.1 361.3l3.0 4.9h-6.0z" fill="none" stroke="#8bd646" stroke-width="0.65"/><path d="M553.9 460.6l3.0 4.9h-6.0z" fill="none" stroke="#25ac82" stroke-width="0.65"/><path d="M558.7 470.1l3.0 4.9h-6.0z" fill="none" stroke="#27ad81" stroke-width="0.65"/><circle cx="360.3" cy="349.1" r="2.4" fill="#c0df25"/><path d="M521.0 439.4l3.0 4.9h-6.0z" fill="none" stroke="#3aba76" stroke-width="0.65"/><path d="M347.5 334.4l3.0 4.9h-6.0z" fill="none" stroke="#c2df23" stroke-width="0.65"/><circle cx="358.2" cy="344.9" r="2.4" fill="#d0e11c"/><circle cx="350.7" cy="342.2" r="2.4" fill="#dfe318"/><path d="M428.2 392.2l3.0 4.9h-6.0z" fill="none" stroke="#73d056" stroke-width="0.65"/><path d="M493.8 432.4l3.0 4.9h-6.0z" fill="none" stroke="#3aba76" stroke-width="0.65"/><path d="M528.0 453.2l3.0 4.9h-6.0z" fill="none" stroke="#26ad81" stroke-width="0.65"/><path d="M512.2 437.2l3.0 4.9h-6.0z" fill="none" stroke="#40bd72" stroke-width="0.65"/><path d="M376.0 347.7l3.0 4.9h-6.0z" fill="none" stroke="#addc30" stroke-width="0.65"/><path d="M536.8 468.5l3.0 4.9h-6.0z" fill="none" stroke="#26ad81" stroke-width="0.65"/><path d="M400.2 370.1l3.0 4.9h-6.0z" fill="none" stroke="#90d743" stroke-width="0.65"/><path d="M452.0 393.9l3.0 4.9h-6.0z" fill="none" stroke="#48c16e" stroke-width="0.65"/><path d="M449.6 405.7l3.0 4.9h-6.0z" fill="none" stroke="#69cd5b" stroke-width="0.65"/><path d="M543.2 464.2l3.0 4.9h-6.0z" fill="none" stroke="#26ad81" stroke-width="0.65"/><path d="M550.1 458.9l3.0 4.9h-6.0z" fill="none" stroke="#35b779" stroke-width="0.65"/><path d="M543.2 457.4l3.0 4.9h-6.0z" fill="none" stroke="#34b679" stroke-width="0.65"/><path d="M390.1 359.0l3.0 4.9h-6.0z" fill="none" stroke="#a8db34" stroke-width="0.65"/><path d="M508.6 440.9l3.0 4.9h-6.0z" fill="none" stroke="#3dbc74" stroke-width="0.65"/><path d="M495.0 427.6l3.0 4.9h-6.0z" fill="none" stroke="#52c569" stroke-width="0.65"/><path d="M420.7 388.3l3.0 4.9h-6.0z" fill="none" stroke="#7ad151" stroke-width="0.65"/><circle cx="343.6" cy="334.6" r="2.4" fill="#fde725"/><path d="M474.6 413.9l3.0 4.9h-6.0z" fill="none" stroke="#4ec36b" stroke-width="0.65"/><path d="M379.7 348.9l3.0 4.9h-6.0z" fill="none" stroke="#a5db36" stroke-width="0.65"/><circle cx="357.3" cy="347.5" r="2.4" fill="#d0e11c"/><path d="M560.9 479.2l3.0 4.9h-6.0z" fill="none" stroke="#2ab07f" stroke-width="0.65"/><path d="M527.3 454.1l3.0 4.9h-6.0z" fill="none" stroke="#31b57b" stroke-width="0.65"/><path d="M505.7 446.5l3.0 4.9h-6.0z" fill="none" stroke="#35b779" stroke-width="0.65"/><path d="M494.5 422.8l3.0 4.9h-6.0z" fill="none" stroke="#37b878" stroke-width="0.65"/><path d="M375.3 352.8l3.0 4.9h-6.0z" fill="none" stroke="#93d741" stroke-width="0.65"/><path d="M360.3 338.7l3.0 4.9h-6.0z" fill="none" stroke="#b2dd2d" stroke-width="0.65"/><path d="M540.3 451.3l3.0 4.9h-6.0z" fill="none" stroke="#27ad81" stroke-width="0.65"/><path d="M347.9 331.2l3.0 4.9h-6.0z" fill="none" stroke="#c0df25" stroke-width="0.65"/><circle cx="357.8" cy="346.0" r="2.4" fill="#c5e021"/><path d="M506.9 423.9l3.0 4.9h-6.0z" fill="none" stroke="#4cc26c" stroke-width="0.65"/><path d="M441.1 407.1l3.0 4.9h-6.0z" fill="none" stroke="#77d153" stroke-width="0.65"/><path d="M399.4 373.8l3.0 4.9h-6.0z" fill="none" stroke="#8ed645" stroke-width="0.65"/><path d="M561.0 476.4l3.0 4.9h-6.0z" fill="none" stroke="#27ad81" stroke-width="0.65"/><path d="M546.7 457.6l3.0 4.9h-6.0z" fill="none" stroke="#26ad81" stroke-width="0.65"/><circle cx="346.3" cy="337.1" r="2.4" fill="#efe51c"/><path d="M386.6 360.1l3.0 4.9h-6.0z" fill="none" stroke="#8bd646" stroke-width="0.65"/><path d="M361.4 341.9l3.0 4.9h-6.0z" fill="none" stroke="#b2dd2d" stroke-width="0.65"/><path d="M517.6 452.5l3.0 4.9h-6.0z" fill="none" stroke="#44bf70" stroke-width="0.65"/><path d="M413.5 375.0l3.0 4.9h-6.0z" fill="none" stroke="#77d153" stroke-width="0.65"/><circle cx="352.6" cy="342.7" r="2.4" fill="#d0e11c"/><path d="M568.2 472.4l3.0 4.9h-6.0z" fill="none" stroke="#21a585" stroke-width="0.65"/><path d="M352.4 341.0l3.0 4.9h-6.0z" fill="none" stroke="#d5e21a" stroke-width="0.65"/><path d="M462.9 424.6l3.0 4.9h-6.0z" fill="none" stroke="#77d153" stroke-width="0.65"/><path d="M424.6 384.9l3.0 4.9h-6.0z" fill="none" stroke="#93d741" stroke-width="0.65"/><path d="M367.6 344.6l3.0 4.9h-6.0z" fill="none" stroke="#c0df25" stroke-width="0.65"/><path d="M354.6 337.6l3.0 4.9h-6.0z" fill="none" stroke="#b8de29" stroke-width="0.65"/><path d="M487.3 437.1l3.0 4.9h-6.0z" fill="none" stroke="#44bf70" stroke-width="0.65"/><circle cx="351.8" cy="344.3" r="2.4" fill="#cae11f"/><path d="M452.1 394.6l3.0 4.9h-6.0z" fill="none" stroke="#67cc5c" stroke-width="0.65"/><path d="M486.3 431.6l3.0 4.9h-6.0z" fill="none" stroke="#5ac864" stroke-width="0.65"/><path d="M347.7 339.1l3.0 4.9h-6.0z" fill="none" stroke="#c5e021" stroke-width="0.65"/><path d="M497.5 439.4l3.0 4.9h-6.0z" fill="none" stroke="#44bf70" stroke-width="0.65"/><circle cx="361.3" cy="350.6" r="2.4" fill="#c2df23"/><circle cx="353.8" cy="341.4" r="2.4" fill="#efe51c"/><path d="M520.4 459.9l3.0 4.9h-6.0z" fill="none" stroke="#32b67a" stroke-width="0.65"/><path d="M368.3 349.5l3.0 4.9h-6.0z" fill="none" stroke="#b5de2b" stroke-width="0.65"/><circle cx="344.8" cy="336.8" r="2.4" fill="#fde725"/><path d="M467.1 413.7l3.0 4.9h-6.0z" fill="none" stroke="#54c568" stroke-width="0.65"/><path d="M440.8 391.4l3.0 4.9h-6.0z" fill="none" stroke="#60ca60" stroke-width="0.65"/><path d="M374.4 348.4l3.0 4.9h-6.0z" fill="none" stroke="#a0da39" stroke-width="0.65"/><path d="M548.8 462.8l3.0 4.9h-6.0z" fill="none" stroke="#2ab07f" stroke-width="0.65"/><circle cx="348.4" cy="337.4" r="2.4" fill="#fbe723"/><circle cx="347.4" cy="336.9" r="2.4" fill="#f1e51d"/><path d="M523.5 454.5l3.0 4.9h-6.0z" fill="none" stroke="#35b779" stroke-width="0.65"/><path d="M503.1 432.3l3.0 4.9h-6.0z" fill="none" stroke="#52c569" stroke-width="0.65"/><path d="M413.9 372.1l3.0 4.9h-6.0z" fill="none" stroke="#81d34d" stroke-width="0.65"/><path d="M365.3 346.0l3.0 4.9h-6.0z" fill="none" stroke="#addc30" stroke-width="0.65"/><path d="M485.8 424.0l3.0 4.9h-6.0z" fill="none" stroke="#4ac16d" stroke-width="0.65"/><path d="M537.3 447.9l3.0 4.9h-6.0z" fill="none" stroke="#2ab07f" stroke-width="0.65"/><circle cx="352.0" cy="339.7" r="2.4" fill="#e5e419"/><circle cx="486.1" cy="440.5" r="2.4" fill="none" stroke="#1f9a8a" stroke-width="0.6"/><circle cx="488.2" cy="440.1" r="2.4" fill="none" stroke="#1e9b8a" stroke-width="0.6"/><circle cx="489.0" cy="442.8" r="2.4" fill="none" stroke="#20928c" stroke-width="0.6"/><circle cx="489.9" cy="445.0" r="2.4" fill="none" stroke="#21918c" stroke-width="0.6"/><circle cx="491.5" cy="442.8" r="2.4" fill="none" stroke="#277f8e" stroke-width="0.6"/><circle cx="492.1" cy="444.5" r="2.4" fill="none" stroke="#25848e" stroke-width="0.6"/><circle cx="492.8" cy="444.7" r="2.4" fill="none" stroke="#2b758e" stroke-width="0.6"/><circle cx="495.7" cy="448.7" r="2.4" fill="none" stroke="#2a768e" stroke-width="0.6"/><circle cx="496.5" cy="449.0" r="2.4" fill="none" stroke="#30698e" stroke-width="0.6"/><circle cx="498.8" cy="448.4" r="2.4" fill="none" stroke="#32658e" stroke-width="0.6"/><circle cx="512.7" cy="455.2" r="2.4" fill="none" stroke="#1f998a" stroke-width="0.6"/><circle cx="512.9" cy="455.9" r="2.4" fill="none" stroke="#1f9f88" stroke-width="0.6"/><circle cx="513.9" cy="458.4" r="2.4" fill="none" stroke="#21908d" stroke-width="0.6"/><circle cx="514.0" cy="456.3" r="2.4" fill="none" stroke="#228d8d" stroke-width="0.6"/><circle cx="515.7" cy="459.3" r="2.4" fill="none" stroke="#27808e" stroke-width="0.6"/><circle cx="514.6" cy="456.8" r="2.4" fill="none" stroke="#277e8e" stroke-width="0.6"/><circle cx="516.8" cy="458.8" r="2.4" fill="none" stroke="#2b758e" stroke-width="0.6"/><circle cx="518.5" cy="457.5" r="2.4" fill="none" stroke="#2a788e" stroke-width="0.6"/><circle cx="519.2" cy="461.7" r="2.4" fill="none" stroke="#2a788e" stroke-width="0.6"/><circle cx="520.9" cy="457.2" r="2.4" fill="none" stroke="#2b748e" stroke-width="0.6"/><circle cx="515.9" cy="464.2" r="2.4" fill="none" stroke="#21a685" stroke-width="0.6"/><circle cx="515.7" cy="464.9" r="2.4" fill="none" stroke="#1f9a8a" stroke-width="0.6"/><circle cx="518.5" cy="467.1" r="2.4" fill="none" stroke="#228d8d" stroke-width="0.6"/><circle cx="520.5" cy="471.7" r="2.4" fill="none" stroke="#23898e" stroke-width="0.6"/><circle cx="520.2" cy="469.0" r="2.4" fill="none" stroke="#24878e" stroke-width="0.6"/><circle cx="521.7" cy="473.2" r="2.4" fill="none" stroke="#277f8e" stroke-width="0.6"/><circle cx="523.3" cy="471.0" r="2.4" fill="none" stroke="#297b8e" stroke-width="0.6"/><circle cx="524.0" cy="472.5" r="2.4" fill="none" stroke="#2a778e" stroke-width="0.6"/><circle cx="525.5" cy="471.6" r="2.4" fill="none" stroke="#2d718e" stroke-width="0.6"/><circle cx="526.1" cy="476.9" r="2.4" fill="none" stroke="#2e6f8e" stroke-width="0.6"/><circle cx="545.0" cy="476.2" r="2.4" fill="none" stroke="#1f968b" stroke-width="0.6"/><circle cx="545.0" cy="473.5" r="2.4" fill="none" stroke="#1f9e89" stroke-width="0.6"/><circle cx="546.0" cy="475.8" r="2.4" fill="none" stroke="#20928c" stroke-width="0.6"/><circle cx="546.8" cy="477.3" r="2.4" fill="none" stroke="#21908d" stroke-width="0.6"/><circle cx="547.4" cy="476.8" r="2.4" fill="none" stroke="#25858e" stroke-width="0.6"/><circle cx="547.1" cy="478.2" r="2.4" fill="none" stroke="#26828e" stroke-width="0.6"/><circle cx="549.5" cy="481.7" r="2.4" fill="none" stroke="#2a788e" stroke-width="0.6"/><circle cx="549.8" cy="478.6" r="2.4" fill="none" stroke="#297a8e" stroke-width="0.6"/><circle cx="552.1" cy="479.7" r="2.4" fill="none" stroke="#2c718e" stroke-width="0.6"/><circle cx="553.5" cy="479.7" r="2.4" fill="none" stroke="#2c728e" stroke-width="0.6"/><circle cx="557.5" cy="478.5" r="2.4" fill="none" stroke="#1f9f88" stroke-width="0.6"/><circle cx="557.0" cy="479.1" r="2.4" fill="none" stroke="#1f9a8a" stroke-width="0.6"/><circle cx="559.2" cy="480.0" r="2.4" fill="none" stroke="#1f958b" stroke-width="0.6"/><circle cx="558.9" cy="480.8" r="2.4" fill="none" stroke="#218e8d" stroke-width="0.6"/><circle cx="560.0" cy="481.1" r="2.4" fill="none" stroke="#228b8d" stroke-width="0.6"/><circle cx="560.0" cy="481.9" r="2.4" fill="none" stroke="#287c8e" stroke-width="0.6"/><circle cx="560.7" cy="483.4" r="2.4" fill="none" stroke="#2c728e" stroke-width="0.6"/><circle cx="560.9" cy="483.4" r="2.4" fill="none" stroke="#2d708e" stroke-width="0.6"/><circle cx="562.6" cy="483.8" r="2.4" fill="none" stroke="#287d8e" stroke-width="0.6"/><circle cx="563.3" cy="484.4" r="2.4" fill="none" stroke="#32648e" stroke-width="0.6"/><circle cx="499.6" cy="450.5" r="3.3" fill="#481769"/><circle cx="499.0" cy="449.9" r="3.3" fill="#450457"/><circle cx="500.0" cy="452.0" r="3.3" fill="#471063"/><circle cx="501.5" cy="450.4" r="3.3" fill="#482173"/><circle cx="500.7" cy="452.3" r="3.3" fill="#482374"/><circle cx="502.1" cy="452.3" r="3.3" fill="#482374"/><circle cx="501.8" cy="453.5" r="3.3" fill="#46327e"/><circle cx="502.9" cy="454.1" r="3.3" fill="#472e7c"/><circle cx="503.3" cy="455.1" r="3.3" fill="#443a83"/><circle cx="503.0" cy="454.8" r="3.3" fill="#404688"/><circle cx="521.8" cy="462.7" r="3.4" fill="#460b5e"/><circle cx="522.5" cy="463.3" r="3.4" fill="#460b5e"/><circle cx="522.5" cy="462.9" r="3.4" fill="#481a6c"/><circle cx="522.7" cy="464.0" r="3.4" fill="#481467"/><circle cx="523.2" cy="464.3" r="3.4" fill="#481c6e"/><circle cx="524.1" cy="465.2" r="3.4" fill="#482374"/><circle cx="524.2" cy="466.1" r="3.4" fill="#472d7b"/><circle cx="524.5" cy="467.0" r="3.4" fill="#443983"/><circle cx="523.9" cy="467.3" r="3.4" fill="#443b84"/><circle cx="525.1" cy="467.6" r="3.4" fill="#433e85"/><circle cx="527.2" cy="476.1" r="3.6" fill="#440154"/><circle cx="527.3" cy="476.9" r="3.6" fill="#481467"/><circle cx="528.3" cy="476.1" r="3.6" fill="#450559"/><circle cx="528.5" cy="477.2" r="3.6" fill="#470e61"/><circle cx="529.8" cy="478.0" r="3.6" fill="#471164"/><circle cx="530.8" cy="479.0" r="3.6" fill="#482173"/><circle cx="530.5" cy="479.6" r="3.6" fill="#482173"/><circle cx="532.0" cy="479.4" r="3.6" fill="#482173"/><circle cx="532.0" cy="480.2" r="3.6" fill="#482677"/><circle cx="533.5" cy="481.7" r="3.6" fill="#46337f"/><circle cx="533.0" cy="481.7" r="3.6" fill="#472f7d"/><circle cx="534.2" cy="482.1" r="3.6" fill="#424086"/><circle cx="534.5" cy="482.4" r="3.6" fill="#443b84"/><circle cx="535.0" cy="482.2" r="3.6" fill="#46327e"/><circle cx="535.4" cy="483.0" r="3.6" fill="#404588"/><circle cx="536.8" cy="484.1" r="3.6" fill="#472c7a"/><circle cx="553.0" cy="482.2" r="3.3" fill="#440154"/><circle cx="553.6" cy="483.5" r="3.3" fill="#46085c"/><circle cx="554.1" cy="483.5" r="3.3" fill="#46085c"/><circle cx="554.9" cy="484.7" r="3.3" fill="#482071"/><circle cx="555.1" cy="484.0" r="3.3" fill="#481769"/><circle cx="554.2" cy="484.9" r="3.3" fill="#46307e"/><circle cx="555.9" cy="485.5" r="3.3" fill="#46337f"/><circle cx="556.2" cy="485.8" r="3.3" fill="#414287"/><circle cx="563.9" cy="485.7" r="3.6" fill="#46085c"/><circle cx="565.5" cy="486.1" r="3.6" fill="#481668"/><circle cx="564.8" cy="487.0" r="3.6" fill="#470d60"/><circle cx="565.6" cy="487.9" r="3.6" fill="#48186a"/><circle cx="566.5" cy="487.9" r="3.6" fill="#471164"/><circle cx="566.8" cy="488.6" r="3.6" fill="#481d6f"/><circle cx="566.8" cy="489.1" r="3.6" fill="#471365"/><circle cx="567.4" cy="490.1" r="3.6" fill="#482979"/><circle cx="569.2" cy="490.7" r="3.6" fill="#46327e"/><circle cx="568.3" cy="491.2" r="3.6" fill="#482576"/><circle cx="569.4" cy="491.4" r="3.6" fill="#433e85"/><circle cx="569.3" cy="492.7" r="3.6" fill="#46337f"/><circle cx="570.9" cy="493.3" r="3.6" fill="#453781"/><circle cx="571.4" cy="493.8" r="3.6" fill="#482576"/><circle cx="571.4" cy="495.1" r="3.6" fill="#453781"/><circle cx="572.1" cy="494.9" r="3.6" fill="#3f4788"/><line x1="338.9" y1="333.6" x2="576" y2="526" stroke="#7e3a77" stroke-width="2.3" stroke-dasharray="6.6 7.7" stroke-dashoffset="2.1"/><line x1="344.7" y1="336.9" x2="572" y2="498.1" stroke="#e2c82c" stroke-width="2.3"/></g><rect x="335.3" y="325.5" width="248.1" height="203.3" fill="none" stroke="#8c8c8c" stroke-width="1.1"/><line x1="350.7" y1="528.8" x2="350.7" y2="531.6" stroke="#555" stroke-width="0.9"/><text x="350.7" y="540.4" class="tk" text-anchor="middle">0</text><line x1="410.4" y1="528.8" x2="410.4" y2="531.6" stroke="#555" stroke-width="0.9"/><text x="410.4" y="540.4" class="tk" text-anchor="middle">25</text><line x1="470.1" y1="528.8" x2="470.1" y2="531.6" stroke="#555" stroke-width="0.9"/><text x="470.1" y="540.4" class="tk" text-anchor="middle">50</text><line x1="529.8" y1="528.8" x2="529.8" y2="531.6" stroke="#555" stroke-width="0.9"/><text x="529.8" y="540.4" class="tk" text-anchor="middle">75</text><line x1="332.5" y1="342.7" x2="335.3" y2="342.7" stroke="#555" stroke-width="0.9"/><text x="331.1" y="346.0" class="tk" text-anchor="end">0</text><line x1="332.5" y1="391.8" x2="335.3" y2="391.8" stroke="#555" stroke-width="0.9"/><text x="331.1" y="395.1" class="tk" text-anchor="end">-25</text><line x1="332.5" y1="440.9" x2="335.3" y2="440.9" stroke="#555" stroke-width="0.9"/><text x="331.1" y="444.2" class="tk" text-anchor="end">-50</text><line x1="332.5" y1="490.1" x2="335.3" y2="490.1" stroke="#555" stroke-width="0.9"/><text x="331.1" y="493.4" class="tk" text-anchor="end">-75</text><circle cx="484.6" cy="364.2" r="9.2" fill="#eeebbf" stroke="#b0a447" stroke-width="1.1"/><text x="484.6" y="368.9" text-anchor="middle" class="dg" style="font-size:13px;fill:#9a8e2c;stroke:#9a8e2c;stroke-width:0.55px">1</text><text x="499.6" y="367.7" text-anchor="middle" style="font-size:9px;fill:#222">+</text><circle cx="515.3" cy="364.2" r="9.2" fill="#f2deef" stroke="#b279aa" stroke-width="1.1"/><text x="515.3" y="368.9" text-anchor="middle" class="dg" style="font-size:13px;fill:#8a3d80;stroke:#8a3d80;stroke-width:0.55px">2</text><rect x="470.7" y="378.9" width="60.9" height="26.6" rx="2" fill="#d6d23c" stroke="#333" stroke-width="0.8"/><text x="501.1" y="388.7" class="bx" text-anchor="middle">BOATS</text><text x="501.1" y="401.8" class="bx" text-anchor="middle">Slope = -0.89</text><circle cx="408.8" cy="410.7" r="9.2" fill="#f2deef" stroke="#b279aa" stroke-width="1.1"/><text x="408.8" y="415.4" text-anchor="middle" class="dg" style="font-size:13px;fill:#8a3d80;stroke:#8a3d80;stroke-width:0.55px">2</text><rect x="386.4" y="424.7" width="49" height="13" rx="2" fill="#a57cf2" stroke="#333" stroke-width="0.8"/><text x="410.9" y="434.8" class="bx" text-anchor="middle">Slope = -1</text><text x="459.4" y="551.6" class="ax" text-anchor="middle">Biomass loss (%)</text><text transform="translate(310.8,424.7) rotate(-90)" class="ax" text-anchor="middle">Change in C export (%)</text><text x="302.5" y="337" class="pl">d</text><path d="M604.3 365.5l3.0 4.9h-6.0z" fill="none" stroke="#000" stroke-width="0.65"/><text x="616.2" y="371.6" class="lg">Historical</text><circle cx="604.3" cy="382" r="2.3" fill="none" stroke="#000" stroke-width="0.7"/><text x="616.2" y="385.7" class="lg">SSP 1-2.6</text><defs><linearGradient id="g422" x1="0" y1="1" x2="0" y2="0"><stop offset="0.0" stop-color="#fde725"/><stop offset="0.1" stop-color="#bddf26"/><stop offset="0.2" stop-color="#7ad151"/><stop offset="0.3" stop-color="#44bf70"/><stop offset="0.4" stop-color="#22a884"/><stop offset="0.5" stop-color="#21918c"/><stop offset="0.6" stop-color="#2a788e"/><stop offset="0.7" stop-color="#355f8d"/><stop offset="0.8" stop-color="#414487"/><stop offset="0.9" stop-color="#482475"/><stop offset="1.0" stop-color="#440154"/></linearGradient></defs><rect x="597" y="422.5" width="14.5" height="71.0" fill="url(#g422)"/><line x1="597" y1="446.2" x2="599.8" y2="446.2" stroke="#fff" stroke-width="0.8"/><line x1="608.7" y1="446.2" x2="611.5" y2="446.2" stroke="#fff" stroke-width="0.8"/><line x1="597" y1="470" x2="599.8" y2="470" stroke="#fff" stroke-width="0.8"/><line x1="608.7" y1="470" x2="611.5" y2="470" stroke="#fff" stroke-width="0.8"/><text x="597.5" y="416.8" style="font-size:10.6px;fill:#1a1a1a">Year</text><text x="615.8" y="426.1" class="lg">2100</text><text x="615.8" y="449.9" class="lg">2050</text><text x="615.8" y="473.7" class="lg">2000</text><text x="615.8" y="497.6" class="lg">1950</text><path d="M350.10,510.64 C351.50,508.53 353.61,506.43 355.01,505.03 L357.11,502.93 L357.81,500.13 L356.41,493.82 L360.96,497.67 C362.72,496.62 365.52,494.87 367.97,493.47 L368.32,489.61 L372.88,489.47 L372.53,492.07 C375.33,491.37 378.13,490.31 379.53,489.61 L382.34,479.10 C385.84,483.31 390.05,487.51 392.50,489.61 C388.64,489.96 384.44,490.67 380.94,492.07 C380.24,493.82 379.53,495.22 379.18,496.62 C378.83,498.02 378.27,500.13 377.78,502.93 C376.38,503.98 374.98,504.68 373.93,505.03 L371.83,507.83 L372.18,512.04 C370.42,511.69 369.02,511.34 367.62,511.48 C363.42,512.04 358.51,512.39 355.01,512.04 C352.91,511.83 351.15,511.48 350.10,510.64 Z " fill="#1f2f86"/><path d="M353.47,507.27 C356.41,503.63 359.21,500.48 362.72,498.37 C366.22,496.27 372.53,492.77 379.89,489.82 L380.38,491.23 C374.63,493.82 369.02,496.27 363.77,500.13 C360.61,502.58 357.81,505.03 355.15,508.32 Z " fill="#7f97de"/><path d="M360.61,508.53 C365.52,505.73 370.42,502.23 376.03,498.02 " fill="none" stroke="#5a6fc0" stroke-width="0.5"/><path d="M352.3,510.3 l0.8,-1.6 l0.8,1.6 l1.6,0.3 l-1.6,0.4 l-0.8,1.6 l-0.8,-1.6 l-1.6,-0.4 z" fill="#c9d3f0"/></svg></body></html>
